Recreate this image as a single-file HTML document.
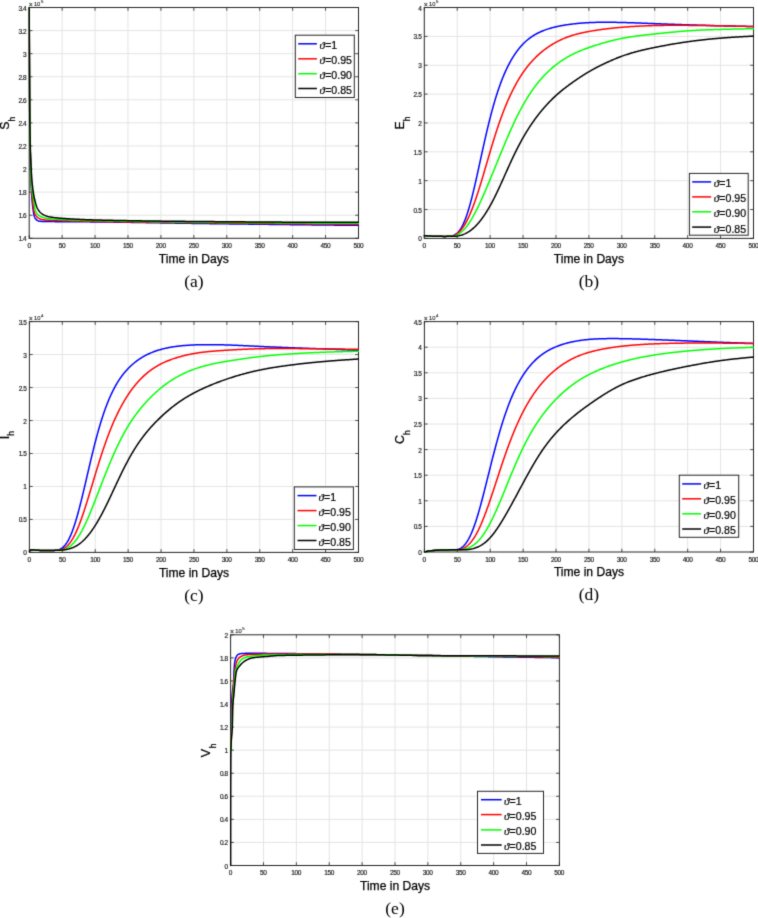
<!DOCTYPE html>
<html><head><meta charset="utf-8"><style>
html,body{margin:0;padding:0;background:#fff;}
svg{display:block;will-change:transform;font-family:"Liberation Sans", sans-serif;}
</style></head><body>
<svg width="758" height="918" viewBox="0 0 758 918">
<defs><filter id="soft" x="0" y="0" width="758" height="918" filterUnits="userSpaceOnUse" color-interpolation-filters="sRGB"><feConvolveMatrix order="3" kernelMatrix="0.0169 0.0962 0.0169 0.0962 0.5476 0.0962 0.0169 0.0962 0.0169" divisor="1" edgeMode="duplicate"/></filter></defs>
<g filter="url(#soft)">
<rect width="758" height="918" fill="#fff"/>
<path d="M62.13 7.50V238.30M95.06 7.50V238.30M127.99 7.50V238.30M160.92 7.50V238.30M193.85 7.50V238.30M226.78 7.50V238.30M259.71 7.50V238.30M292.64 7.50V238.30M325.57 7.50V238.30M29.20 215.22H358.50M29.20 192.14H358.50M29.20 169.06H358.50M29.20 145.98H358.50M29.20 122.90H358.50M29.20 99.82H358.50M29.20 76.74H358.50M29.20 53.66H358.50M29.20 30.58H358.50" stroke="#e4e4e4" stroke-width="1" fill="none"/>
<path d="M29.20 238.30v-3.30M29.20 7.50v3.30M62.13 238.30v-3.30M62.13 7.50v3.30M95.06 238.30v-3.30M95.06 7.50v3.30M127.99 238.30v-3.30M127.99 7.50v3.30M160.92 238.30v-3.30M160.92 7.50v3.30M193.85 238.30v-3.30M193.85 7.50v3.30M226.78 238.30v-3.30M226.78 7.50v3.30M259.71 238.30v-3.30M259.71 7.50v3.30M292.64 238.30v-3.30M292.64 7.50v3.30M325.57 238.30v-3.30M325.57 7.50v3.30M358.50 238.30v-3.30M358.50 7.50v3.30M29.20 238.30h3.30M358.50 238.30h-3.30M29.20 215.22h3.30M358.50 215.22h-3.30M29.20 192.14h3.30M358.50 192.14h-3.30M29.20 169.06h3.30M358.50 169.06h-3.30M29.20 145.98h3.30M358.50 145.98h-3.30M29.20 122.90h3.30M358.50 122.90h-3.30M29.20 99.82h3.30M358.50 99.82h-3.30M29.20 76.74h3.30M358.50 76.74h-3.30M29.20 53.66h3.30M358.50 53.66h-3.30M29.20 30.58h3.30M358.50 30.58h-3.30M29.20 7.50h3.30M358.50 7.50h-3.30" stroke="#262626" stroke-width="0.8" fill="none"/>
<rect x="29.20" y="7.50" width="329.30" height="230.80" fill="none" stroke="#262626" stroke-width="1"/>
<clipPath id="ca"><rect x="28.40" y="6.70" width="330.90" height="232.40"/></clipPath>
<g clip-path="url(#ca)" fill="none" stroke-width="1.5" stroke-linejoin="round" stroke-linecap="round">
<path d="M29.20 7.50L29.20 8.25L29.21 9.00L29.21 9.75L29.21 10.50L29.21 11.25L29.22 12.00L29.22 12.75L29.22 13.50L29.22 14.25L29.23 15.00L29.23 15.75L29.23 16.50L29.23 17.25L29.24 18.00L29.24 18.75L29.24 19.50L29.25 20.25L29.25 21.00L29.25 21.75L29.25 22.50L29.26 23.25L29.26 24.00L29.26 24.75L29.27 25.50L29.27 26.25L29.27 27.00L29.27 27.75L29.28 28.50L29.28 29.25L29.28 30.00L29.29 30.75L29.29 31.50L29.29 32.25L29.29 33.00L29.30 33.75L29.30 34.50L29.30 35.25L29.31 36.00L29.31 36.75L29.31 37.50L29.32 38.25L29.32 39.00L29.32 39.75L29.32 40.50L29.33 41.25L29.33 42.00L29.33 42.75L29.34 43.50L29.34 44.25L29.34 45.00L29.35 45.75L29.35 46.50L29.35 47.25L29.36 48.00L29.36 48.75L29.36 49.50L29.37 50.25L29.37 51.00L29.37 51.75L29.38 52.50L29.38 53.25L29.38 54.00L29.39 54.75L29.39 55.50L29.39 56.25L29.40 57.00L29.40 57.75L29.41 58.50L29.41 59.25L29.41 60.00L29.42 60.75L29.42 61.50L29.42 62.25L29.43 63.00L29.43 63.75L29.43 64.50L29.44 65.25L29.44 66.00L29.44 66.75L29.45 67.50L29.45 68.25L29.46 69.00L29.46 69.75L29.46 70.50L29.47 71.25L29.47 72.00L29.48 72.75L29.48 73.50L29.48 74.25L29.49 75.00L29.49 75.75L29.50 76.50L29.50 77.25L29.50 78.00L29.51 78.75L29.51 79.50L29.52 80.25L29.52 81.00L29.52 81.75L29.53 82.50L29.53 83.25L29.54 84.00L29.54 84.75L29.55 85.50L29.55 86.25L29.56 87.00L29.56 87.75L29.56 88.50L29.57 89.25L29.57 90.00L29.58 90.75L29.58 91.50L29.59 92.25L29.59 93.00L29.60 93.75L29.60 94.50L29.61 95.25L29.61 96.00L29.62 96.75L29.62 97.50L29.62 98.25L29.63 99.00L29.63 99.75L29.64 100.50L29.64 101.25L29.65 102.00L29.65 102.75L29.66 103.50L29.66 104.25L29.67 105.00L29.67 105.75L29.68 106.50L29.68 107.25L29.69 108.00L29.70 108.75L29.70 109.50L29.71 110.25L29.71 111.00L29.72 111.75L29.72 112.50L29.73 113.25L29.74 114.00L29.74 114.75L29.75 115.50L29.76 116.25L29.76 117.00L29.77 117.75L29.78 118.50L29.79 119.25L29.79 120.00L29.80 120.75L29.81 121.50L29.82 122.25L29.83 123.00L29.83 123.75L29.84 124.50L29.85 125.25L29.86 126.00L29.87 126.75L29.88 127.50L29.89 128.25L29.90 129.00L29.91 129.75L29.92 130.50L29.93 131.25L29.94 132.00L29.95 132.75L29.96 133.50L29.97 134.25L29.98 135.00L29.99 135.75L30.00 136.50L30.01 137.25L30.02 138.00L30.03 138.75L30.05 139.50L30.06 140.25L30.07 141.00L30.08 141.75L30.09 142.50L30.11 143.25L30.12 144.00L30.13 144.75L30.15 145.50L30.16 146.25L30.17 147.00L30.19 147.75L30.20 148.50L30.22 149.25L30.23 150.00L30.24 150.75L30.26 151.50L30.27 152.25L30.29 153.00L30.31 153.75L30.32 154.50L30.34 155.25L30.35 156.00L30.37 156.75L30.39 157.50L30.40 158.25L30.42 159.00L30.44 159.75L30.45 160.50L30.47 161.25L30.49 162.00L30.50 162.75L30.52 163.50L30.54 164.25L30.56 165.00L30.57 165.75L30.59 166.50L30.61 167.25L30.63 168.00L30.65 168.75L30.67 169.50L30.69 170.25L30.71 171.00L30.73 171.75L30.75 172.50L30.77 173.24L30.79 173.99L30.81 174.74L30.83 175.49L30.86 176.24L30.88 176.99L30.90 177.74L30.93 178.49L30.95 179.24L30.98 179.99L31.00 180.74L31.03 181.49L31.06 182.24L31.09 182.99L31.12 183.74L31.15 184.49L31.18 185.24L31.21 185.99L31.25 186.74L31.28 187.49L31.32 188.24L31.35 188.98L31.39 189.73L31.43 190.48L31.47 191.23L31.51 191.98L31.55 192.73L31.60 193.48L31.64 194.23L31.69 194.98L31.74 195.72L31.79 196.47L31.84 197.22L31.89 197.97L31.95 198.72L32.01 199.46L32.07 200.21L32.13 200.96L32.20 201.71L32.26 202.45L32.33 203.20L32.41 203.95L32.48 204.69L32.56 205.44L32.64 206.18L32.73 206.93L32.82 207.67L32.91 208.42L33.01 209.16L33.11 209.90L33.22 210.65L33.33 211.39L33.45 212.13L33.58 212.87L33.71 213.61L33.85 214.34L34.00 215.08L34.18 215.80L34.40 216.52L34.66 217.21L34.97 217.88L35.35 218.52L35.79 219.11L36.29 219.66L36.84 220.14L37.45 220.55L38.11 220.86L38.81 221.08L39.53 221.22L40.27 221.31L41.02 221.37L41.76 221.42L42.51 221.45L43.26 221.47L44.01 221.49L44.76 221.50L45.51 221.52L46.26 221.53L47.01 221.54L47.76 221.55L48.51 221.56L49.26 221.57L50.01 221.58L50.76 221.59L51.51 221.60L52.26 221.61L53.01 221.61L53.76 221.62L54.51 221.62L55.26 221.63L56.01 221.64L56.76 221.64L57.51 221.65L58.26 221.65L59.01 221.66L59.76 221.66L60.51 221.67L61.26 221.68L62.01 221.68L62.76 221.69L63.51 221.69L64.26 221.70L65.01 221.71L65.76 221.71L66.51 221.72L67.26 221.72L68.01 221.73L68.76 221.73L69.51 221.74L70.26 221.75L71.01 221.75L71.76 221.76L72.51 221.76L73.26 221.76L74.01 221.77L74.76 221.77L75.51 221.78L76.26 221.78L77.01 221.79L77.76 221.79L78.51 221.80L79.26 221.80L80.01 221.81L80.76 221.81L81.51 221.82L82.26 221.82L83.01 221.82L83.76 221.83L84.51 221.83L85.26 221.84L86.01 221.84L86.76 221.85L87.51 221.85L88.26 221.86L89.01 221.86L89.76 221.87L90.51 221.88L91.26 221.88L92.01 221.89L92.76 221.89L93.51 221.90L94.26 221.91L95.01 221.91L95.76 221.92L96.51 221.93L97.26 221.93L98.01 221.94L98.76 221.95L99.51 221.96L100.26 221.96L101.01 221.97L101.76 221.98L102.51 221.99L103.26 222.00L104.01 222.01L104.76 222.01L105.51 222.02L106.26 222.03L107.01 222.04L107.76 222.05L108.51 222.06L109.26 222.07L110.01 222.08L110.76 222.09L111.51 222.10L112.26 222.11L113.01 222.12L113.76 222.13L114.51 222.14L115.26 222.15L116.01 222.16L116.76 222.17L117.51 222.18L118.26 222.19L119.01 222.20L119.76 222.21L120.51 222.22L121.26 222.23L122.01 222.24L122.76 222.26L123.51 222.27L124.26 222.28L125.01 222.29L125.76 222.30L126.51 222.31L127.26 222.32L128.01 222.34L128.76 222.35L129.51 222.36L130.26 222.37L131.01 222.38L131.76 222.40L132.51 222.41L133.26 222.42L134.01 222.43L134.76 222.45L135.51 222.46L136.26 222.47L137.01 222.48L137.76 222.49L138.51 222.51L139.26 222.52L140.01 222.53L140.76 222.55L141.51 222.56L142.26 222.57L143.01 222.58L143.76 222.60L144.51 222.61L145.26 222.62L146.01 222.64L146.76 222.65L147.51 222.66L148.26 222.67L149.01 222.69L149.76 222.70L150.51 222.71L151.26 222.73L152.01 222.74L152.76 222.75L153.51 222.76L154.26 222.78L155.01 222.79L155.76 222.80L156.51 222.82L157.26 222.83L158.01 222.84L158.76 222.86L159.51 222.87L160.26 222.88L161.01 222.89L161.76 222.91L162.51 222.92L163.26 222.93L164.01 222.95L164.76 222.96L165.51 222.97L166.26 222.98L167.01 223.00L167.76 223.01L168.51 223.02L169.26 223.04L170.01 223.05L170.76 223.06L171.51 223.07L172.26 223.09L173.01 223.10L173.76 223.11L174.51 223.12L175.26 223.13L176.01 223.15L176.76 223.16L177.51 223.17L178.26 223.18L179.01 223.19L179.76 223.21L180.51 223.22L181.26 223.23L182.01 223.24L182.76 223.25L183.51 223.26L184.26 223.28L185.01 223.29L185.76 223.30L186.51 223.31L187.26 223.32L188.01 223.33L188.76 223.34L189.51 223.35L190.26 223.36L191.01 223.37L191.76 223.38L192.51 223.39L193.26 223.41L194.01 223.42L194.76 223.43L195.51 223.44L196.26 223.45L197.01 223.46L197.76 223.47L198.51 223.48L199.26 223.49L200.01 223.50L200.76 223.51L201.51 223.52L202.26 223.53L203.01 223.54L203.76 223.55L204.50 223.56L205.25 223.57L206.00 223.58L206.75 223.59L207.50 223.60L208.25 223.61L209.00 223.62L209.75 223.63L210.50 223.64L211.25 223.65L212.00 223.66L212.75 223.67L213.50 223.68L214.25 223.69L215.00 223.70L215.75 223.71L216.50 223.72L217.25 223.73L218.00 223.74L218.75 223.74L219.50 223.75L220.25 223.76L221.00 223.77L221.75 223.78L222.50 223.79L223.25 223.80L224.00 223.81L224.75 223.82L225.50 223.83L226.25 223.84L227.00 223.85L227.75 223.86L228.50 223.87L229.25 223.88L230.00 223.89L230.75 223.90L231.50 223.91L232.25 223.92L233.00 223.93L233.75 223.94L234.50 223.95L235.25 223.96L236.00 223.97L236.75 223.98L237.50 223.99L238.25 224.00L239.00 224.01L239.75 224.02L240.50 224.03L241.25 224.04L242.00 224.05L242.75 224.05L243.50 224.06L244.25 224.07L245.00 224.08L245.75 224.09L246.50 224.10L247.25 224.11L248.00 224.12L248.75 224.13L249.50 224.14L250.25 224.15L251.00 224.16L251.75 224.17L252.50 224.18L253.25 224.19L254.00 224.20L254.75 224.21L255.50 224.22L256.25 224.22L257.00 224.23L257.75 224.24L258.50 224.25L259.25 224.26L260.00 224.27L260.75 224.28L261.50 224.29L262.25 224.30L263.00 224.31L263.75 224.32L264.50 224.33L265.25 224.34L266.00 224.35L266.75 224.35L267.50 224.36L268.25 224.37L269.00 224.38L269.75 224.39L270.50 224.40L271.25 224.41L272.00 224.42L272.75 224.43L273.50 224.44L274.25 224.45L275.00 224.45L275.75 224.46L276.50 224.47L277.25 224.48L278.00 224.49L278.75 224.50L279.50 224.51L280.25 224.52L281.00 224.53L281.75 224.54L282.50 224.54L283.25 224.55L284.00 224.56L284.75 224.57L285.50 224.58L286.25 224.59L287.00 224.60L287.75 224.61L288.50 224.62L289.25 224.62L290.00 224.63L290.75 224.64L291.50 224.65L292.25 224.66L293.00 224.67L293.75 224.68L294.50 224.69L295.25 224.69L296.00 224.70L296.75 224.71L297.50 224.72L298.25 224.73L299.00 224.74L299.75 224.75L300.50 224.75L301.25 224.76L302.00 224.77L302.75 224.78L303.50 224.79L304.25 224.80L305.00 224.81L305.75 224.81L306.50 224.82L307.25 224.83L308.00 224.84L308.75 224.85L309.50 224.86L310.25 224.87L311.00 224.87L311.75 224.88L312.50 224.89L313.25 224.90L314.00 224.91L314.75 224.92L315.50 224.92L316.25 224.93L317.00 224.94L317.75 224.95L318.50 224.96L319.25 224.97L320.00 224.97L320.75 224.98L321.50 224.99L322.25 225.00L323.00 225.01L323.75 225.01L324.50 225.02L325.25 225.03L326.00 225.04L326.75 225.05L327.50 225.06L328.25 225.06L329.00 225.07L329.75 225.08L330.50 225.09L331.25 225.10L332.00 225.10L332.75 225.11L333.50 225.12L334.25 225.13L335.00 225.14L335.75 225.14L336.50 225.15L337.25 225.16L338.00 225.17L338.75 225.17L339.50 225.18L340.25 225.19L341.00 225.20L341.75 225.21L342.50 225.21L343.25 225.22L344.00 225.23L344.75 225.24L345.50 225.24L346.25 225.25L347.00 225.26L347.75 225.27L348.50 225.27L349.25 225.28L350.00 225.29L350.75 225.30L351.50 225.31L352.25 225.31L353.00 225.32L353.75 225.33L354.50 225.34L355.25 225.34L356.00 225.35L356.75 225.36L357.50 225.37L358.25 225.37L358.50 225.38" stroke="#0000ff"/>
<path d="M29.20 7.50L29.20 8.25L29.21 9.00L29.21 9.75L29.21 10.50L29.21 11.25L29.22 12.00L29.22 12.75L29.22 13.50L29.22 14.25L29.23 15.00L29.23 15.75L29.23 16.50L29.23 17.25L29.24 18.00L29.24 18.75L29.24 19.50L29.25 20.25L29.25 21.00L29.25 21.75L29.25 22.50L29.26 23.25L29.26 24.00L29.26 24.75L29.27 25.50L29.27 26.25L29.27 27.00L29.27 27.75L29.28 28.50L29.28 29.25L29.28 30.00L29.29 30.75L29.29 31.50L29.29 32.25L29.29 33.00L29.30 33.75L29.30 34.50L29.30 35.25L29.31 36.00L29.31 36.75L29.31 37.50L29.32 38.25L29.32 39.00L29.32 39.75L29.32 40.50L29.33 41.25L29.33 42.00L29.33 42.75L29.34 43.50L29.34 44.25L29.34 45.00L29.35 45.75L29.35 46.50L29.35 47.25L29.36 48.00L29.36 48.75L29.36 49.50L29.37 50.25L29.37 51.00L29.37 51.75L29.38 52.50L29.38 53.25L29.38 54.00L29.39 54.75L29.39 55.50L29.39 56.25L29.40 57.00L29.40 57.75L29.41 58.50L29.41 59.25L29.41 60.00L29.42 60.75L29.42 61.50L29.42 62.25L29.43 63.00L29.43 63.75L29.43 64.50L29.44 65.25L29.44 66.00L29.44 66.75L29.45 67.50L29.45 68.25L29.46 69.00L29.46 69.75L29.46 70.50L29.47 71.25L29.47 72.00L29.48 72.75L29.48 73.50L29.48 74.25L29.49 75.00L29.49 75.75L29.50 76.50L29.50 77.25L29.50 78.00L29.51 78.75L29.51 79.50L29.52 80.25L29.52 81.00L29.52 81.75L29.53 82.50L29.53 83.25L29.54 84.00L29.54 84.75L29.55 85.50L29.55 86.25L29.56 87.00L29.56 87.75L29.56 88.50L29.57 89.25L29.57 90.00L29.58 90.75L29.58 91.50L29.59 92.25L29.59 93.00L29.60 93.75L29.60 94.50L29.61 95.25L29.61 96.00L29.61 96.75L29.62 97.50L29.62 98.25L29.63 99.00L29.63 99.75L29.64 100.50L29.64 101.25L29.65 102.00L29.65 102.75L29.66 103.50L29.66 104.25L29.67 105.00L29.67 105.75L29.68 106.50L29.68 107.25L29.69 108.00L29.69 108.75L29.70 109.50L29.71 110.25L29.71 111.00L29.72 111.75L29.72 112.50L29.73 113.25L29.74 114.00L29.74 114.75L29.75 115.50L29.75 116.25L29.76 117.00L29.77 117.75L29.78 118.50L29.78 119.25L29.79 120.00L29.80 120.75L29.81 121.50L29.82 122.25L29.83 123.00L29.84 123.75L29.85 124.50L29.86 125.25L29.87 126.00L29.88 126.75L29.89 127.50L29.90 128.25L29.91 129.00L29.92 129.75L29.93 130.50L29.94 131.25L29.95 132.00L29.96 132.75L29.97 133.50L29.98 134.25L29.99 135.00L30.00 135.75L30.02 136.50L30.03 137.25L30.04 138.00L30.05 138.75L30.07 139.50L30.08 140.25L30.09 141.00L30.11 141.75L30.12 142.50L30.13 143.25L30.15 144.00L30.16 144.75L30.18 145.50L30.19 146.25L30.21 147.00L30.22 147.75L30.24 148.50L30.26 149.25L30.27 150.00L30.29 150.75L30.31 151.50L30.32 152.25L30.34 153.00L30.36 153.74L30.38 154.49L30.40 155.24L30.41 155.99L30.43 156.74L30.45 157.49L30.47 158.24L30.49 158.99L30.51 159.74L30.53 160.49L30.55 161.24L30.57 161.99L30.59 162.74L30.61 163.49L30.63 164.24L30.65 164.99L30.67 165.74L30.69 166.49L30.71 167.24L30.73 167.99L30.75 168.74L30.77 169.49L30.80 170.24L30.82 170.99L30.84 171.74L30.87 172.49L30.89 173.24L30.91 173.99L30.94 174.74L30.96 175.49L30.99 176.24L31.02 176.99L31.04 177.74L31.07 178.48L31.10 179.23L31.13 179.98L31.16 180.73L31.19 181.48L31.23 182.23L31.26 182.98L31.30 183.73L31.34 184.48L31.38 185.23L31.42 185.98L31.46 186.73L31.51 187.47L31.56 188.22L31.61 188.97L31.66 189.72L31.71 190.47L31.77 191.21L31.83 191.96L31.89 192.71L31.95 193.46L32.02 194.20L32.09 194.95L32.16 195.70L32.23 196.44L32.30 197.19L32.38 197.94L32.45 198.68L32.53 199.43L32.61 200.18L32.68 200.92L32.76 201.67L32.84 202.41L32.91 203.16L32.99 203.91L33.07 204.65L33.15 205.40L33.24 206.14L33.33 206.89L33.42 207.63L33.52 208.37L33.63 209.12L33.75 209.86L33.90 210.59L34.07 211.32L34.27 212.04L34.51 212.75L34.78 213.45L35.07 214.13L35.41 214.80L35.79 215.43L36.23 216.04L36.71 216.60L37.24 217.12L37.81 217.60L38.42 218.03L39.05 218.42L39.72 218.75L40.41 219.03L41.12 219.25L41.84 219.43L42.58 219.58L43.31 219.71L44.05 219.82L44.80 219.93L45.54 220.02L46.29 220.10L47.03 220.16L47.78 220.22L48.53 220.27L49.28 220.31L50.03 220.34L50.78 220.37L51.53 220.40L52.28 220.42L53.03 220.44L53.78 220.46L54.53 220.48L55.27 220.50L56.02 220.51L56.77 220.53L57.52 220.54L58.27 220.56L59.02 220.58L59.77 220.59L60.52 220.61L61.27 220.62L62.02 220.64L62.77 220.66L63.52 220.68L64.27 220.70L65.02 220.72L65.77 220.74L66.52 220.76L67.27 220.78L68.02 220.80L68.77 220.82L69.52 220.84L70.27 220.86L71.02 220.88L71.77 220.90L72.52 220.92L73.27 220.94L74.02 220.96L74.77 220.98L75.52 221.00L76.27 221.02L77.02 221.04L77.77 221.06L78.52 221.08L79.27 221.10L80.02 221.12L80.77 221.14L81.52 221.15L82.27 221.17L83.02 221.19L83.77 221.21L84.52 221.23L85.27 221.25L86.02 221.26L86.77 221.28L87.52 221.30L88.26 221.31L89.01 221.33L89.76 221.35L90.51 221.36L91.26 221.38L92.01 221.39L92.76 221.41L93.51 221.42L94.26 221.44L95.01 221.45L95.76 221.46L96.51 221.48L97.26 221.49L98.01 221.50L98.76 221.52L99.51 221.53L100.26 221.54L101.01 221.55L101.76 221.57L102.51 221.58L103.26 221.59L104.01 221.60L104.76 221.62L105.51 221.63L106.26 221.64L107.01 221.65L107.76 221.66L108.51 221.68L109.26 221.69L110.01 221.70L110.76 221.71L111.51 221.72L112.26 221.73L113.01 221.75L113.76 221.76L114.51 221.77L115.26 221.78L116.01 221.79L116.76 221.80L117.51 221.81L118.26 221.82L119.01 221.83L119.76 221.84L120.51 221.86L121.26 221.87L122.01 221.88L122.76 221.89L123.51 221.90L124.26 221.91L125.01 221.92L125.76 221.93L126.51 221.94L127.26 221.95L128.01 221.96L128.76 221.97L129.51 221.98L130.26 221.99L131.01 222.00L131.76 222.01L132.51 222.02L133.26 222.03L134.01 222.04L134.76 222.05L135.51 222.06L136.26 222.07L137.01 222.08L137.76 222.08L138.51 222.09L139.26 222.10L140.01 222.11L140.76 222.12L141.51 222.13L142.26 222.14L143.01 222.15L143.76 222.16L144.51 222.17L145.26 222.18L146.01 222.19L146.76 222.19L147.51 222.20L148.26 222.21L149.01 222.22L149.76 222.23L150.51 222.24L151.26 222.25L152.01 222.26L152.76 222.26L153.51 222.27L154.26 222.28L155.01 222.29L155.76 222.30L156.51 222.31L157.26 222.32L158.01 222.32L158.76 222.33L159.51 222.34L160.26 222.35L161.01 222.36L161.76 222.37L162.51 222.38L163.26 222.38L164.01 222.39L164.76 222.40L165.51 222.41L166.26 222.42L167.01 222.43L167.76 222.43L168.51 222.44L169.26 222.45L170.01 222.46L170.76 222.47L171.51 222.47L172.26 222.48L173.01 222.49L173.76 222.50L174.51 222.51L175.26 222.52L176.01 222.52L176.76 222.53L177.51 222.54L178.26 222.55L179.01 222.56L179.76 222.56L180.51 222.57L181.26 222.58L182.01 222.59L182.76 222.60L183.51 222.61L184.26 222.61L185.01 222.62L185.76 222.63L186.51 222.64L187.26 222.65L188.01 222.66L188.76 222.66L189.51 222.67L190.26 222.68L191.01 222.69L191.76 222.70L192.51 222.71L193.26 222.71L194.01 222.72L194.76 222.73L195.51 222.74L196.26 222.75L197.01 222.76L197.76 222.76L198.51 222.77L199.26 222.78L200.01 222.79L200.76 222.80L201.51 222.81L202.26 222.82L203.01 222.82L203.76 222.83L204.51 222.84L205.26 222.85L206.01 222.86L206.76 222.87L207.51 222.87L208.26 222.88L209.01 222.89L209.76 222.90L210.51 222.91L211.26 222.91L212.01 222.92L212.76 222.93L213.51 222.94L214.26 222.95L215.01 222.96L215.76 222.96L216.51 222.97L217.26 222.98L218.01 222.99L218.76 223.00L219.51 223.01L220.25 223.01L221.00 223.02L221.75 223.03L222.50 223.04L223.25 223.05L224.00 223.05L224.75 223.06L225.50 223.07L226.25 223.08L227.00 223.09L227.75 223.09L228.50 223.10L229.25 223.11L230.00 223.12L230.75 223.13L231.50 223.14L232.25 223.14L233.00 223.15L233.75 223.16L234.50 223.17L235.25 223.18L236.00 223.18L236.75 223.19L237.50 223.20L238.25 223.21L239.00 223.22L239.75 223.22L240.50 223.23L241.25 223.24L242.00 223.25L242.75 223.26L243.50 223.26L244.25 223.27L245.00 223.28L245.75 223.29L246.50 223.29L247.25 223.30L248.00 223.31L248.75 223.32L249.50 223.33L250.25 223.33L251.00 223.34L251.75 223.35L252.50 223.36L253.25 223.36L254.00 223.37L254.75 223.38L255.50 223.39L256.25 223.40L257.00 223.40L257.75 223.41L258.50 223.42L259.25 223.43L260.00 223.43L260.75 223.44L261.50 223.45L262.25 223.46L263.00 223.47L263.75 223.47L264.50 223.48L265.25 223.49L266.00 223.50L266.75 223.50L267.50 223.51L268.25 223.52L269.00 223.53L269.75 223.53L270.50 223.54L271.25 223.55L272.00 223.56L272.75 223.56L273.50 223.57L274.25 223.58L275.00 223.59L275.75 223.59L276.50 223.60L277.25 223.61L278.00 223.62L278.75 223.62L279.50 223.63L280.25 223.64L281.00 223.65L281.75 223.65L282.50 223.66L283.25 223.67L284.00 223.67L284.75 223.68L285.50 223.69L286.25 223.70L287.00 223.70L287.75 223.71L288.50 223.72L289.25 223.73L290.00 223.73L290.75 223.74L291.50 223.75L292.25 223.75L293.00 223.76L293.75 223.77L294.50 223.78L295.25 223.78L296.00 223.79L296.75 223.80L297.50 223.80L298.25 223.81L299.00 223.82L299.75 223.83L300.50 223.83L301.25 223.84L302.00 223.85L302.75 223.85L303.50 223.86L304.25 223.87L305.00 223.87L305.75 223.88L306.50 223.89L307.25 223.90L308.00 223.90L308.75 223.91L309.50 223.92L310.25 223.92L311.00 223.93L311.75 223.94L312.50 223.94L313.25 223.95L314.00 223.96L314.75 223.96L315.50 223.97L316.25 223.98L317.00 223.98L317.75 223.99L318.50 224.00L319.25 224.00L320.00 224.01L320.75 224.02L321.50 224.03L322.25 224.03L323.00 224.04L323.75 224.05L324.50 224.05L325.25 224.06L326.00 224.06L326.75 224.07L327.50 224.08L328.25 224.08L329.00 224.09L329.75 224.10L330.50 224.10L331.25 224.11L332.00 224.12L332.75 224.12L333.50 224.13L334.25 224.14L335.00 224.14L335.75 224.15L336.50 224.16L337.25 224.16L338.00 224.17L338.75 224.17L339.50 224.18L340.25 224.19L341.00 224.19L341.75 224.20L342.50 224.21L343.25 224.21L344.00 224.22L344.75 224.23L345.50 224.23L346.25 224.24L347.00 224.24L347.75 224.25L348.50 224.26L349.25 224.26L350.00 224.27L350.75 224.27L351.50 224.28L352.25 224.29L353.00 224.29L353.75 224.30L354.50 224.30L355.25 224.31L356.00 224.32L356.75 224.32L357.50 224.33L358.25 224.33L358.50 224.34" stroke="#ff0000"/>
<path d="M29.20 7.50L29.20 8.25L29.21 9.00L29.21 9.75L29.21 10.50L29.21 11.25L29.22 12.00L29.22 12.75L29.22 13.50L29.22 14.25L29.23 15.00L29.23 15.75L29.23 16.50L29.23 17.25L29.24 18.00L29.24 18.75L29.24 19.50L29.25 20.25L29.25 21.00L29.25 21.75L29.25 22.50L29.26 23.25L29.26 24.00L29.26 24.75L29.27 25.50L29.27 26.25L29.27 27.00L29.27 27.75L29.28 28.50L29.28 29.25L29.28 30.00L29.29 30.75L29.29 31.50L29.29 32.25L29.29 33.00L29.30 33.75L29.30 34.50L29.30 35.25L29.31 36.00L29.31 36.75L29.31 37.50L29.32 38.25L29.32 39.01L29.32 39.76L29.32 40.51L29.33 41.26L29.33 42.01L29.33 42.76L29.34 43.51L29.34 44.26L29.34 45.01L29.35 45.76L29.35 46.51L29.35 47.26L29.36 48.01L29.36 48.76L29.36 49.51L29.37 50.26L29.37 51.01L29.37 51.76L29.38 52.51L29.38 53.26L29.38 54.01L29.39 54.76L29.39 55.51L29.39 56.26L29.40 57.01L29.40 57.76L29.41 58.51L29.41 59.26L29.41 60.01L29.42 60.76L29.42 61.51L29.42 62.26L29.43 63.01L29.43 63.76L29.43 64.51L29.44 65.26L29.44 66.01L29.44 66.76L29.45 67.51L29.45 68.26L29.46 69.01L29.46 69.76L29.46 70.51L29.47 71.26L29.47 72.01L29.48 72.76L29.48 73.51L29.48 74.26L29.49 75.01L29.49 75.76L29.50 76.51L29.50 77.26L29.50 78.01L29.51 78.76L29.51 79.51L29.52 80.26L29.52 81.01L29.52 81.76L29.53 82.51L29.53 83.26L29.54 84.01L29.54 84.76L29.55 85.51L29.55 86.26L29.56 87.01L29.56 87.76L29.56 88.51L29.57 89.26L29.57 90.01L29.58 90.76L29.58 91.51L29.59 92.26L29.59 93.01L29.60 93.76L29.60 94.51L29.61 95.26L29.61 96.01L29.61 96.76L29.62 97.51L29.62 98.26L29.63 99.01L29.63 99.76L29.64 100.51L29.64 101.26L29.65 102.01L29.65 102.76L29.66 103.51L29.66 104.26L29.67 105.02L29.67 105.77L29.68 106.52L29.68 107.27L29.69 108.02L29.69 108.77L29.70 109.52L29.70 110.27L29.71 111.02L29.72 111.77L29.72 112.52L29.73 113.27L29.73 114.02L29.74 114.77L29.75 115.52L29.75 116.27L29.76 117.02L29.77 117.77L29.78 118.52L29.78 119.27L29.79 120.02L29.80 120.77L29.81 121.52L29.82 122.27L29.83 123.02L29.84 123.77L29.85 124.52L29.86 125.27L29.87 126.02L29.88 126.77L29.89 127.52L29.90 128.27L29.91 129.02L29.92 129.77L29.94 130.52L29.95 131.27L29.96 132.02L29.97 132.77L29.98 133.52L29.99 134.27L30.01 135.02L30.02 135.77L30.03 136.52L30.05 137.27L30.06 138.02L30.07 138.77L30.09 139.52L30.10 140.27L30.12 141.02L30.13 141.77L30.15 142.52L30.16 143.27L30.18 144.02L30.19 144.77L30.21 145.52L30.23 146.27L30.24 147.02L30.26 147.77L30.28 148.52L30.30 149.27L30.32 150.02L30.34 150.77L30.35 151.52L30.37 152.27L30.39 153.02L30.41 153.77L30.43 154.52L30.45 155.27L30.48 156.02L30.50 156.77L30.52 157.52L30.54 158.27L30.56 159.02L30.58 159.77L30.60 160.52L30.62 161.26L30.65 162.01L30.67 162.76L30.69 163.51L30.71 164.26L30.73 165.01L30.76 165.76L30.78 166.51L30.80 167.26L30.83 168.01L30.85 168.76L30.88 169.51L30.90 170.26L30.92 171.01L30.95 171.76L30.98 172.51L31.00 173.26L31.03 174.01L31.06 174.76L31.08 175.51L31.11 176.26L31.14 177.01L31.17 177.76L31.20 178.51L31.24 179.26L31.27 180.01L31.31 180.76L31.34 181.51L31.38 182.25L31.43 183.00L31.47 183.75L31.52 184.50L31.58 185.25L31.64 186.00L31.71 186.74L31.78 187.49L31.85 188.24L31.93 188.98L32.02 189.73L32.11 190.47L32.20 191.22L32.30 191.96L32.41 192.70L32.53 193.44L32.64 194.18L32.77 194.92L32.89 195.66L33.02 196.40L33.14 197.14L33.27 197.88L33.38 198.62L33.50 199.36L33.61 200.11L33.72 200.85L33.83 201.59L33.94 202.33L34.05 203.07L34.16 203.82L34.27 204.56L34.38 205.30L34.50 206.04L34.62 206.78L34.75 207.52L34.88 208.26L35.03 208.99L35.20 209.72L35.41 210.44L35.66 211.14L35.97 211.81L36.32 212.47L36.73 213.09L37.17 213.70L37.65 214.27L38.16 214.81L38.72 215.30L39.31 215.75L39.93 216.15L40.59 216.50L41.27 216.81L41.97 217.09L42.67 217.33L43.39 217.56L44.11 217.76L44.84 217.95L45.57 218.11L46.30 218.26L47.04 218.40L47.78 218.51L48.52 218.61L49.27 218.71L50.01 218.79L50.76 218.87L51.50 218.94L52.25 219.00L53.00 219.07L53.75 219.12L54.50 219.18L55.24 219.23L55.99 219.28L56.74 219.33L57.49 219.37L58.24 219.41L58.99 219.45L59.74 219.49L60.49 219.53L61.24 219.56L61.98 219.60L62.73 219.63L63.48 219.67L64.23 219.70L64.98 219.73L65.73 219.76L66.48 219.79L67.23 219.82L67.98 219.85L68.73 219.88L69.48 219.91L70.23 219.94L70.98 219.97L71.73 220.00L72.48 220.02L73.23 220.05L73.98 220.08L74.73 220.10L75.48 220.13L76.23 220.15L76.98 220.17L77.73 220.20L78.48 220.22L79.23 220.24L79.98 220.26L80.72 220.29L81.47 220.31L82.22 220.33L82.97 220.35L83.72 220.37L84.47 220.39L85.22 220.41L85.97 220.43L86.72 220.45L87.47 220.47L88.22 220.49L88.97 220.50L89.72 220.52L90.47 220.54L91.22 220.56L91.97 220.57L92.72 220.59L93.47 220.61L94.22 220.63L94.97 220.64L95.72 220.66L96.47 220.67L97.22 220.69L97.97 220.71L98.72 220.72L99.47 220.74L100.22 220.75L100.97 220.77L101.72 220.79L102.47 220.80L103.22 220.82L103.97 220.83L104.72 220.85L105.47 220.86L106.22 220.88L106.97 220.89L107.72 220.91L108.47 220.92L109.22 220.94L109.97 220.95L110.72 220.97L111.47 220.98L112.22 220.99L112.97 221.01L113.72 221.02L114.47 221.04L115.22 221.05L115.97 221.07L116.72 221.08L117.47 221.09L118.22 221.11L118.97 221.12L119.72 221.13L120.47 221.15L121.22 221.16L121.97 221.17L122.72 221.19L123.47 221.20L124.22 221.21L124.97 221.23L125.72 221.24L126.47 221.25L127.22 221.27L127.97 221.28L128.72 221.29L129.47 221.30L130.22 221.32L130.97 221.33L131.72 221.34L132.47 221.35L133.22 221.37L133.97 221.38L134.72 221.39L135.47 221.40L136.22 221.41L136.97 221.43L137.72 221.44L138.47 221.45L139.22 221.46L139.97 221.47L140.72 221.48L141.47 221.50L142.22 221.51L142.97 221.52L143.72 221.53L144.47 221.54L145.22 221.55L145.97 221.56L146.72 221.57L147.47 221.58L148.22 221.60L148.97 221.61L149.72 221.62L150.47 221.63L151.22 221.64L151.97 221.65L152.72 221.66L153.47 221.67L154.22 221.68L154.97 221.69L155.72 221.70L156.47 221.71L157.22 221.72L157.97 221.73L158.72 221.74L159.47 221.75L160.22 221.76L160.97 221.77L161.72 221.78L162.47 221.79L163.22 221.80L163.97 221.81L164.72 221.82L165.47 221.83L166.22 221.84L166.97 221.85L167.72 221.86L168.47 221.86L169.22 221.87L169.97 221.88L170.72 221.89L171.47 221.90L172.22 221.91L172.97 221.92L173.72 221.93L174.48 221.94L175.23 221.94L175.98 221.95L176.73 221.96L177.48 221.97L178.23 221.98L178.98 221.99L179.73 222.00L180.48 222.00L181.23 222.01L181.98 222.02L182.73 222.03L183.48 222.04L184.23 222.04L184.98 222.05L185.73 222.06L186.48 222.07L187.23 222.08L187.98 222.08L188.73 222.09L189.48 222.10L190.23 222.11L190.98 222.12L191.73 222.12L192.48 222.13L193.23 222.14L193.98 222.15L194.73 222.15L195.48 222.16L196.23 222.17L196.98 222.17L197.73 222.18L198.48 222.19L199.23 222.20L199.98 222.20L200.73 222.21L201.48 222.22L202.23 222.23L202.98 222.23L203.73 222.24L204.48 222.25L205.23 222.26L205.98 222.26L206.73 222.27L207.48 222.28L208.23 222.29L208.98 222.29L209.73 222.30L210.48 222.31L211.23 222.31L211.98 222.32L212.73 222.33L213.48 222.34L214.23 222.34L214.98 222.35L215.73 222.36L216.48 222.36L217.23 222.37L217.98 222.38L218.73 222.39L219.48 222.39L220.23 222.40L220.98 222.41L221.73 222.41L222.48 222.42L223.23 222.43L223.98 222.44L224.73 222.44L225.48 222.45L226.23 222.46L226.98 222.46L227.73 222.47L228.48 222.48L229.23 222.49L229.98 222.49L230.73 222.50L231.48 222.51L232.23 222.51L232.98 222.52L233.73 222.53L234.48 222.53L235.23 222.54L235.98 222.55L236.73 222.55L237.48 222.56L238.23 222.57L238.98 222.57L239.73 222.58L240.48 222.59L241.23 222.60L241.98 222.60L242.73 222.61L243.48 222.62L244.23 222.62L244.98 222.63L245.73 222.64L246.48 222.64L247.23 222.65L247.98 222.65L248.73 222.66L249.48 222.67L250.23 222.67L250.98 222.68L251.73 222.69L252.48 222.69L253.23 222.70L253.98 222.71L254.73 222.71L255.48 222.72L256.23 222.73L256.98 222.73L257.74 222.74L258.49 222.74L259.24 222.75L259.99 222.76L260.74 222.76L261.49 222.77L262.24 222.78L262.99 222.78L263.74 222.79L264.49 222.79L265.24 222.80L265.99 222.81L266.74 222.81L267.49 222.82L268.24 222.82L268.99 222.83L269.74 222.84L270.49 222.84L271.24 222.85L271.99 222.85L272.74 222.86L273.49 222.87L274.24 222.87L274.99 222.88L275.74 222.88L276.49 222.89L277.24 222.89L277.99 222.90L278.74 222.90L279.49 222.91L280.24 222.92L280.99 222.92L281.74 222.93L282.49 222.93L283.24 222.94L283.99 222.94L284.74 222.95L285.49 222.95L286.24 222.96L286.99 222.96L287.74 222.97L288.49 222.97L289.24 222.98L289.99 222.99L290.74 222.99L291.49 223.00L292.24 223.00L292.99 223.01L293.74 223.01L294.49 223.02L295.24 223.02L295.99 223.03L296.74 223.03L297.49 223.03L298.24 223.04L298.99 223.04L299.74 223.05L300.49 223.05L301.24 223.06L301.99 223.06L302.74 223.07L303.49 223.07L304.24 223.08L304.99 223.08L305.74 223.09L306.49 223.09L307.24 223.09L307.99 223.10L308.74 223.10L309.49 223.11L310.24 223.11L310.99 223.12L311.74 223.12L312.49 223.12L313.24 223.13L313.99 223.13L314.74 223.14L315.49 223.14L316.24 223.14L316.99 223.15L317.74 223.15L318.49 223.16L319.24 223.16L319.99 223.16L320.74 223.17L321.49 223.17L322.24 223.17L322.99 223.18L323.74 223.18L324.49 223.19L325.24 223.19L325.99 223.19L326.74 223.20L327.50 223.20L328.25 223.20L329.00 223.21L329.75 223.21L330.50 223.21L331.25 223.21L332.00 223.22L332.75 223.22L333.50 223.22L334.25 223.23L335.00 223.23L335.75 223.23L336.50 223.24L337.25 223.24L338.00 223.24L338.75 223.24L339.50 223.25L340.25 223.25L341.00 223.25L341.75 223.25L342.50 223.26L343.25 223.26L344.00 223.26L344.75 223.26L345.50 223.27L346.25 223.27L347.00 223.27L347.75 223.27L348.50 223.27L349.25 223.28L350.00 223.28L350.75 223.28L351.50 223.28L352.25 223.28L353.00 223.29L353.75 223.29L354.50 223.29L355.25 223.29L356.00 223.29L356.75 223.29L357.50 223.30L358.25 223.30L358.50 223.30" stroke="#00ff00"/>
<path d="M29.20 7.50L29.20 8.25L29.21 9.00L29.21 9.75L29.21 10.50L29.21 11.25L29.22 12.00L29.22 12.75L29.22 13.50L29.22 14.25L29.23 15.00L29.23 15.75L29.23 16.50L29.23 17.25L29.24 18.00L29.24 18.75L29.24 19.50L29.25 20.25L29.25 21.00L29.25 21.75L29.25 22.50L29.26 23.25L29.26 24.00L29.26 24.75L29.27 25.50L29.27 26.25L29.27 27.00L29.27 27.75L29.28 28.50L29.28 29.25L29.28 30.00L29.29 30.75L29.29 31.51L29.29 32.26L29.29 33.01L29.30 33.76L29.30 34.51L29.30 35.26L29.31 36.01L29.31 36.76L29.31 37.51L29.32 38.26L29.32 39.01L29.32 39.76L29.32 40.51L29.33 41.26L29.33 42.01L29.33 42.76L29.34 43.51L29.34 44.26L29.34 45.01L29.35 45.76L29.35 46.51L29.35 47.26L29.36 48.01L29.36 48.76L29.36 49.51L29.37 50.26L29.37 51.01L29.37 51.76L29.38 52.51L29.38 53.26L29.38 54.01L29.39 54.76L29.39 55.51L29.39 56.26L29.40 57.01L29.40 57.76L29.41 58.51L29.41 59.26L29.41 60.01L29.42 60.76L29.42 61.51L29.42 62.26L29.43 63.01L29.43 63.76L29.43 64.51L29.44 65.26L29.44 66.01L29.44 66.76L29.45 67.51L29.45 68.26L29.46 69.01L29.46 69.76L29.46 70.51L29.47 71.26L29.47 72.01L29.48 72.76L29.48 73.51L29.48 74.26L29.49 75.01L29.49 75.76L29.50 76.51L29.50 77.26L29.50 78.01L29.51 78.76L29.51 79.51L29.52 80.27L29.52 81.02L29.52 81.77L29.53 82.52L29.53 83.27L29.54 84.02L29.54 84.77L29.55 85.52L29.55 86.27L29.56 87.02L29.56 87.77L29.56 88.52L29.57 89.27L29.57 90.02L29.58 90.77L29.58 91.52L29.59 92.27L29.59 93.02L29.60 93.77L29.60 94.52L29.60 95.27L29.61 96.02L29.61 96.77L29.62 97.52L29.62 98.27L29.63 99.02L29.63 99.77L29.64 100.52L29.64 101.27L29.65 102.02L29.65 102.77L29.66 103.52L29.66 104.27L29.67 105.02L29.67 105.77L29.68 106.52L29.68 107.27L29.69 108.02L29.69 108.77L29.70 109.52L29.70 110.27L29.71 111.02L29.71 111.77L29.72 112.52L29.73 113.27L29.73 114.02L29.74 114.77L29.74 115.52L29.75 116.27L29.76 117.02L29.77 117.77L29.78 118.52L29.78 119.27L29.79 120.02L29.80 120.77L29.81 121.52L29.82 122.27L29.83 123.02L29.85 123.77L29.86 124.52L29.87 125.27L29.88 126.02L29.89 126.77L29.90 127.52L29.91 128.27L29.93 129.02L29.94 129.77L29.95 130.52L29.96 131.27L29.98 132.02L29.99 132.77L30.00 133.52L30.02 134.27L30.03 135.02L30.04 135.77L30.06 136.52L30.07 137.27L30.09 138.02L30.10 138.77L30.12 139.52L30.13 140.27L30.15 141.02L30.17 141.77L30.19 142.52L30.20 143.27L30.22 144.02L30.24 144.77L30.26 145.52L30.28 146.27L30.30 147.02L30.32 147.77L30.34 148.52L30.36 149.27L30.38 150.02L30.41 150.77L30.43 151.52L30.46 152.27L30.48 153.02L30.51 153.77L30.53 154.52L30.56 155.27L30.59 156.02L30.62 156.77L30.65 157.52L30.68 158.27L30.71 159.02L30.74 159.77L30.78 160.52L30.81 161.27L30.84 162.02L30.88 162.77L30.91 163.52L30.95 164.26L30.98 165.01L31.02 165.76L31.06 166.51L31.10 167.26L31.14 168.01L31.18 168.76L31.22 169.51L31.26 170.26L31.30 171.01L31.35 171.76L31.39 172.50L31.44 173.25L31.48 174.00L31.53 174.75L31.58 175.50L31.63 176.25L31.69 177.00L31.74 177.74L31.80 178.49L31.86 179.24L31.92 179.99L31.98 180.73L32.04 181.48L32.11 182.23L32.18 182.98L32.25 183.72L32.33 184.47L32.41 185.22L32.49 185.96L32.57 186.71L32.66 187.45L32.74 188.20L32.84 188.94L32.93 189.69L33.03 190.43L33.13 191.17L33.24 191.91L33.35 192.66L33.47 193.40L33.59 194.14L33.72 194.88L33.85 195.61L33.99 196.35L34.14 197.09L34.29 197.82L34.45 198.55L34.62 199.29L34.79 200.02L34.96 200.75L35.14 201.47L35.33 202.20L35.52 202.93L35.72 203.65L35.92 204.37L36.14 205.09L36.38 205.80L36.62 206.51L36.89 207.21L37.19 207.89L37.52 208.56L37.88 209.22L38.27 209.86L38.69 210.48L39.14 211.08L39.61 211.66L40.11 212.22L40.64 212.74L41.20 213.23L41.79 213.69L42.41 214.11L43.04 214.50L43.70 214.86L44.37 215.19L45.05 215.50L45.74 215.79L46.45 216.05L47.16 216.28L47.88 216.48L48.61 216.66L49.34 216.82L50.08 216.96L50.82 217.09L51.56 217.21L52.30 217.32L53.04 217.43L53.78 217.53L54.53 217.62L55.27 217.71L56.02 217.79L56.76 217.87L57.51 217.95L58.26 218.02L59.00 218.08L59.75 218.15L60.50 218.21L61.25 218.27L61.99 218.32L62.74 218.38L63.49 218.43L64.24 218.49L64.99 218.54L65.74 218.59L66.48 218.64L67.23 218.69L67.98 218.74L68.73 218.79L69.48 218.84L70.23 218.88L70.98 218.93L71.73 218.97L72.47 219.02L73.22 219.06L73.97 219.10L74.72 219.14L75.47 219.18L76.22 219.22L76.97 219.26L77.72 219.30L78.47 219.34L79.22 219.37L79.97 219.41L80.71 219.44L81.46 219.48L82.21 219.51L82.96 219.54L83.71 219.57L84.46 219.60L85.21 219.63L85.96 219.66L86.71 219.69L87.46 219.72L88.21 219.74L88.96 219.77L89.71 219.79L90.46 219.82L91.21 219.84L91.96 219.87L92.71 219.89L93.46 219.91L94.21 219.93L94.96 219.95L95.71 219.97L96.46 219.99L97.21 220.01L97.96 220.02L98.71 220.04L99.46 220.06L100.21 220.08L100.96 220.10L101.71 220.11L102.46 220.13L103.21 220.15L103.96 220.17L104.71 220.18L105.46 220.20L106.21 220.22L106.96 220.23L107.71 220.25L108.46 220.27L109.21 220.28L109.96 220.30L110.71 220.32L111.46 220.33L112.21 220.35L112.96 220.36L113.71 220.38L114.46 220.39L115.21 220.41L115.96 220.42L116.71 220.44L117.46 220.45L118.21 220.47L118.96 220.48L119.71 220.50L120.46 220.51L121.21 220.53L121.96 220.54L122.71 220.56L123.46 220.57L124.21 220.58L124.96 220.60L125.71 220.61L126.46 220.62L127.21 220.64L127.96 220.65L128.71 220.66L129.46 220.68L130.21 220.69L130.96 220.70L131.71 220.71L132.46 220.73L133.21 220.74L133.96 220.75L134.71 220.76L135.46 220.77L136.21 220.79L136.96 220.80L137.71 220.81L138.46 220.82L139.21 220.83L139.96 220.84L140.71 220.86L141.46 220.87L142.21 220.88L142.96 220.89L143.71 220.90L144.46 220.91L145.21 220.92L145.96 220.93L146.71 220.94L147.46 220.95L148.21 220.96L148.96 220.97L149.71 220.98L150.46 220.99L151.21 221.00L151.96 221.01L152.71 221.02L153.46 221.03L154.21 221.04L154.96 221.05L155.71 221.06L156.46 221.07L157.21 221.08L157.96 221.09L158.71 221.10L159.46 221.11L160.21 221.12L160.96 221.12L161.71 221.13L162.46 221.14L163.21 221.15L163.96 221.16L164.71 221.17L165.46 221.18L166.21 221.18L166.96 221.19L167.71 221.20L168.46 221.21L169.21 221.22L169.96 221.23L170.71 221.23L171.46 221.24L172.21 221.25L172.96 221.26L173.71 221.26L174.46 221.27L175.21 221.28L175.96 221.29L176.71 221.29L177.46 221.30L178.21 221.31L178.96 221.32L179.71 221.32L180.47 221.33L181.22 221.34L181.97 221.35L182.72 221.35L183.47 221.36L184.22 221.37L184.97 221.37L185.72 221.38L186.47 221.39L187.22 221.39L187.97 221.40L188.72 221.41L189.47 221.41L190.22 221.42L190.97 221.43L191.72 221.43L192.47 221.44L193.22 221.45L193.97 221.45L194.72 221.46L195.47 221.47L196.22 221.47L196.97 221.48L197.72 221.48L198.47 221.49L199.22 221.50L199.97 221.50L200.72 221.51L201.47 221.52L202.22 221.52L202.97 221.53L203.72 221.54L204.47 221.54L205.22 221.55L205.97 221.55L206.72 221.56L207.47 221.57L208.22 221.57L208.97 221.58L209.72 221.59L210.47 221.59L211.22 221.60L211.97 221.60L212.72 221.61L213.47 221.62L214.22 221.62L214.97 221.63L215.72 221.64L216.47 221.64L217.22 221.65L217.97 221.65L218.72 221.66L219.47 221.67L220.22 221.67L220.97 221.68L221.72 221.69L222.47 221.69L223.22 221.70L223.97 221.70L224.72 221.71L225.47 221.72L226.22 221.72L226.97 221.73L227.72 221.73L228.47 221.74L229.22 221.75L229.97 221.75L230.72 221.76L231.47 221.76L232.22 221.77L232.97 221.78L233.72 221.78L234.47 221.79L235.23 221.79L235.98 221.80L236.73 221.81L237.48 221.81L238.23 221.82L238.98 221.82L239.73 221.83L240.48 221.84L241.23 221.84L241.98 221.85L242.73 221.85L243.48 221.86L244.23 221.86L244.98 221.87L245.73 221.88L246.48 221.88L247.23 221.89L247.98 221.89L248.73 221.90L249.48 221.90L250.23 221.91L250.98 221.92L251.73 221.92L252.48 221.93L253.23 221.93L253.98 221.94L254.73 221.94L255.48 221.95L256.23 221.95L256.98 221.96L257.73 221.96L258.48 221.97L259.23 221.98L259.98 221.98L260.73 221.99L261.48 221.99L262.23 222.00L262.98 222.00L263.73 222.01L264.48 222.01L265.23 222.02L265.98 222.02L266.73 222.03L267.48 222.03L268.23 222.04L268.98 222.04L269.73 222.05L270.48 222.05L271.23 222.06L271.98 222.06L272.73 222.07L273.48 222.07L274.23 222.08L274.98 222.08L275.73 222.09L276.48 222.09L277.23 222.10L277.98 222.10L278.73 222.10L279.48 222.11L280.23 222.11L280.98 222.12L281.73 222.12L282.48 222.13L283.23 222.13L283.98 222.14L284.73 222.14L285.48 222.14L286.23 222.15L286.98 222.15L287.74 222.16L288.49 222.16L289.24 222.17L289.99 222.17L290.74 222.17L291.49 222.18L292.24 222.18L292.99 222.19L293.74 222.19L294.49 222.19L295.24 222.20L295.99 222.20L296.74 222.21L297.49 222.21L298.24 222.21L298.99 222.22L299.74 222.22L300.49 222.22L301.24 222.23L301.99 222.23L302.74 222.24L303.49 222.24L304.24 222.24L304.99 222.25L305.74 222.25L306.49 222.25L307.24 222.26L307.99 222.26L308.74 222.26L309.49 222.27L310.24 222.27L310.99 222.27L311.74 222.27L312.49 222.28L313.24 222.28L313.99 222.28L314.74 222.29L315.49 222.29L316.24 222.29L316.99 222.29L317.74 222.30L318.49 222.30L319.24 222.30L319.99 222.31L320.74 222.31L321.49 222.31L322.24 222.31L322.99 222.32L323.74 222.32L324.49 222.32L325.24 222.32L325.99 222.32L326.74 222.33L327.49 222.33L328.24 222.33L328.99 222.33L329.74 222.34L330.49 222.34L331.24 222.34L331.99 222.34L332.74 222.34L333.49 222.34L334.24 222.35L334.99 222.35L335.75 222.35L336.50 222.35L337.25 222.35L338.00 222.35L338.75 222.36L339.50 222.36L340.25 222.36L341.00 222.36L341.75 222.36L342.50 222.36L343.25 222.36L344.00 222.36L344.75 222.37L345.50 222.37L346.25 222.37L347.00 222.37L347.75 222.37L348.50 222.37L349.25 222.37L350.00 222.37L350.75 222.37L351.50 222.37L352.25 222.37L353.00 222.37L353.75 222.37L354.50 222.37L355.25 222.37L356.00 222.37L356.75 222.37L357.50 222.37L358.25 222.37L358.50 222.37" stroke="#000000"/>
</g>
<g font-size="6.5" fill="#1a1a1a" stroke="#1a1a1a" stroke-width="0.18"><text x="29.05" y="247.80" text-anchor="middle" letter-spacing="-0.35">0</text><text x="61.98" y="247.80" text-anchor="middle" letter-spacing="-0.35">50</text><text x="94.91" y="247.80" text-anchor="middle" letter-spacing="-0.35">100</text><text x="127.84" y="247.80" text-anchor="middle" letter-spacing="-0.35">150</text><text x="160.77" y="247.80" text-anchor="middle" letter-spacing="-0.35">200</text><text x="193.70" y="247.80" text-anchor="middle" letter-spacing="-0.35">250</text><text x="226.63" y="247.80" text-anchor="middle" letter-spacing="-0.35">300</text><text x="259.56" y="247.80" text-anchor="middle" letter-spacing="-0.35">350</text><text x="292.49" y="247.80" text-anchor="middle" letter-spacing="-0.35">400</text><text x="325.42" y="247.80" text-anchor="middle" letter-spacing="-0.35">450</text><text x="358.35" y="247.80" text-anchor="middle" letter-spacing="-0.35">500</text><text x="26.20" y="241.30" text-anchor="end" letter-spacing="-0.45">1.4</text><text x="26.20" y="218.22" text-anchor="end" letter-spacing="-0.45">1.6</text><text x="26.20" y="195.14" text-anchor="end" letter-spacing="-0.45">1.8</text><text x="26.20" y="172.06" text-anchor="end" letter-spacing="-0.45">2</text><text x="26.20" y="148.98" text-anchor="end" letter-spacing="-0.45">2.2</text><text x="26.20" y="125.90" text-anchor="end" letter-spacing="-0.45">2.4</text><text x="26.20" y="102.82" text-anchor="end" letter-spacing="-0.45">2.6</text><text x="26.20" y="79.74" text-anchor="end" letter-spacing="-0.45">2.8</text><text x="26.20" y="56.66" text-anchor="end" letter-spacing="-0.45">3</text><text x="26.20" y="33.58" text-anchor="end" letter-spacing="-0.45">3.2</text><text x="26.20" y="10.50" text-anchor="end" letter-spacing="-0.45">3.4</text></g>
<g fill="#1a1a1a" stroke="#1a1a1a" stroke-width="0.12"><text x="30.70" y="6.80" font-size="7" text-anchor="middle">&#215;</text><text x="33.90" y="5.90" font-size="5.8">10</text><text x="40.90" y="3.10" font-size="4.3">5</text></g>
<text x="193.85" y="262.70" font-size="12.1" text-anchor="middle" fill="#000" stroke="#000" stroke-width="0.25">Time in Days</text>
<text transform="translate(9.30 129.70) rotate(-90)" font-size="12.4" fill="#000" stroke="#000" stroke-width="0.25">S<tspan font-size="8.6" dx="0.0" dy="5.6">h</tspan></text>
<text x="193.85" y="286.60" font-family="Liberation Serif, serif" font-size="17.5" text-anchor="middle" fill="#000">(a)</text>
<rect x="295.30" y="35.20" width="59.00" height="62.30" fill="#fff" stroke="#262626" stroke-width="1"/>
<path d="M298.20 43.80H316.90" stroke="#0000ff" stroke-width="1.5"/>
<text x="319.60" y="49.20" font-size="11" font-family="Liberation Serif, serif" font-style="italic" fill="#000" stroke="#000" stroke-width="0.2">&#977;</text>
<text x="325.20" y="49.20" font-size="10.6" fill="#000" stroke="#000" stroke-width="0.2">=1</text>
<path d="M298.20 58.80H316.90" stroke="#ff0000" stroke-width="1.5"/>
<text x="319.60" y="64.20" font-size="11" font-family="Liberation Serif, serif" font-style="italic" fill="#000" stroke="#000" stroke-width="0.2">&#977;</text>
<text x="325.20" y="64.20" font-size="10.6" fill="#000" stroke="#000" stroke-width="0.2">=0.95</text>
<path d="M298.20 73.70H316.90" stroke="#00ff00" stroke-width="1.5"/>
<text x="319.60" y="79.10" font-size="11" font-family="Liberation Serif, serif" font-style="italic" fill="#000" stroke="#000" stroke-width="0.2">&#977;</text>
<text x="325.20" y="79.10" font-size="10.6" fill="#000" stroke="#000" stroke-width="0.2">=0.90</text>
<path d="M298.20 88.50H316.90" stroke="#000000" stroke-width="1.5"/>
<text x="319.60" y="93.90" font-size="11" font-family="Liberation Serif, serif" font-style="italic" fill="#000" stroke="#000" stroke-width="0.2">&#977;</text>
<text x="325.20" y="93.90" font-size="10.6" fill="#000" stroke="#000" stroke-width="0.2">=0.85</text>
<path d="M457.22 7.50V238.40M490.14 7.50V238.40M523.06 7.50V238.40M555.98 7.50V238.40M588.90 7.50V238.40M621.82 7.50V238.40M654.74 7.50V238.40M687.66 7.50V238.40M720.58 7.50V238.40M424.30 209.54H753.50M424.30 180.68H753.50M424.30 151.81H753.50M424.30 122.95H753.50M424.30 94.09H753.50M424.30 65.22H753.50M424.30 36.36H753.50" stroke="#e4e4e4" stroke-width="1" fill="none"/>
<path d="M424.30 238.40v-3.30M424.30 7.50v3.30M457.22 238.40v-3.30M457.22 7.50v3.30M490.14 238.40v-3.30M490.14 7.50v3.30M523.06 238.40v-3.30M523.06 7.50v3.30M555.98 238.40v-3.30M555.98 7.50v3.30M588.90 238.40v-3.30M588.90 7.50v3.30M621.82 238.40v-3.30M621.82 7.50v3.30M654.74 238.40v-3.30M654.74 7.50v3.30M687.66 238.40v-3.30M687.66 7.50v3.30M720.58 238.40v-3.30M720.58 7.50v3.30M753.50 238.40v-3.30M753.50 7.50v3.30M424.30 238.40h3.30M753.50 238.40h-3.30M424.30 209.54h3.30M753.50 209.54h-3.30M424.30 180.68h3.30M753.50 180.68h-3.30M424.30 151.81h3.30M753.50 151.81h-3.30M424.30 122.95h3.30M753.50 122.95h-3.30M424.30 94.09h3.30M753.50 94.09h-3.30M424.30 65.22h3.30M753.50 65.22h-3.30M424.30 36.36h3.30M753.50 36.36h-3.30M424.30 7.50h3.30M753.50 7.50h-3.30" stroke="#262626" stroke-width="0.8" fill="none"/>
<rect x="424.30" y="7.50" width="329.20" height="230.90" fill="none" stroke="#262626" stroke-width="1"/>
<clipPath id="cb"><rect x="423.50" y="6.70" width="330.80" height="232.50"/></clipPath>
<g clip-path="url(#cb)" fill="none" stroke-width="1.5" stroke-linejoin="round" stroke-linecap="round">
<path d="M424.30 235.63L425.01 235.68L425.72 235.74L426.43 235.79L427.14 235.84L427.86 235.89L428.58 235.94L429.30 235.99L430.03 236.03L430.75 236.07L431.48 236.10L432.20 236.14L432.93 236.17L433.65 236.19L434.37 236.21L435.10 236.23L435.82 236.25L436.55 236.27L437.27 236.29L437.99 236.30L438.72 236.32L439.44 236.33L440.17 236.35L440.89 236.36L441.62 236.37L442.34 236.37L443.06 236.38L443.79 236.38L444.51 236.38L445.24 236.38L445.96 236.38L446.69 236.37L447.41 236.37L448.13 236.37L448.86 236.36L449.58 236.35L450.31 236.27L451.03 236.14L451.76 235.97L452.48 235.76L453.20 235.51L453.86 235.23L454.52 234.91L455.18 234.53L455.77 234.15L456.36 233.71L456.96 233.22L457.48 232.74L458.01 232.22L458.54 231.64L459.00 231.10L459.46 230.51L459.92 229.89L460.38 229.22L460.78 228.61L461.17 227.98L461.57 227.30L461.96 226.60L462.36 225.86L462.68 225.22L463.01 224.55L463.34 223.86L463.67 223.14L464.00 222.40L464.33 221.64L464.66 220.84L464.99 220.03L465.25 219.36L465.52 218.67L465.78 217.97L466.04 217.25L466.31 216.52L466.57 215.77L466.83 215.00L467.10 214.22L467.36 213.43L467.62 212.62L467.89 211.79L468.15 210.95L468.41 210.09L468.68 209.22L468.94 208.33L469.20 207.43L469.40 206.74L469.60 206.05L469.80 205.35L469.99 204.64L470.19 203.93L470.39 203.20L470.59 202.47L470.78 201.73L470.98 200.99L471.18 200.24L471.38 199.48L471.57 198.71L471.77 197.94L471.97 197.16L472.17 196.38L472.36 195.59L472.56 194.79L472.76 193.99L472.96 193.18L473.15 192.37L473.35 191.55L473.55 190.73L473.75 189.90L473.94 189.06L474.14 188.22L474.34 187.38L474.54 186.53L474.73 185.68L474.93 184.82L475.13 183.96L475.33 183.10L475.52 182.23L475.72 181.36L475.92 180.49L476.12 179.61L476.31 178.73L476.51 177.85L476.71 176.96L476.91 176.07L477.10 175.18L477.30 174.29L477.50 173.39L477.70 172.50L477.89 171.60L478.09 170.70L478.29 169.80L478.49 168.89L478.68 167.99L478.88 167.08L479.08 166.18L479.28 165.27L479.47 164.36L479.67 163.46L479.87 162.55L480.07 161.64L480.26 160.74L480.46 159.83L480.66 158.92L480.86 158.01L481.05 157.11L481.25 156.20L481.45 155.30L481.65 154.40L481.84 153.49L482.04 152.59L482.24 151.69L482.44 150.79L482.63 149.90L482.83 149.00L483.03 148.11L483.23 147.22L483.42 146.33L483.62 145.44L483.82 144.56L484.02 143.67L484.21 142.79L484.41 141.91L484.61 141.04L484.81 140.17L485.00 139.30L485.20 138.43L485.40 137.56L485.60 136.70L485.79 135.84L485.99 134.99L486.19 134.14L486.39 133.29L486.58 132.44L486.78 131.60L486.98 130.76L487.18 129.93L487.37 129.09L487.57 128.27L487.77 127.44L487.97 126.62L488.16 125.81L488.36 124.99L488.56 124.19L488.76 123.38L488.95 122.58L489.15 121.78L489.35 120.99L489.55 120.21L489.74 119.42L489.94 118.64L490.14 117.87L490.34 117.10L490.54 116.33L490.73 115.57L490.93 114.81L491.13 114.06L491.33 113.31L491.52 112.57L491.72 111.83L491.92 111.09L492.12 110.36L492.31 109.64L492.51 108.92L492.71 108.20L492.91 107.49L493.10 106.78L493.30 106.08L493.50 105.38L493.70 104.68L493.89 104.00L494.09 103.31L494.29 102.63L494.55 101.73L494.81 100.84L495.08 99.96L495.34 99.08L495.60 98.22L495.87 97.36L496.13 96.51L496.39 95.67L496.66 94.84L496.92 94.01L497.18 93.19L497.45 92.38L497.71 91.58L497.97 90.79L498.24 90.01L498.50 89.23L498.77 88.46L499.03 87.70L499.29 86.94L499.56 86.20L499.82 85.46L500.08 84.73L500.35 84.01L500.61 83.29L500.87 82.59L501.14 81.89L501.40 81.19L501.66 80.51L501.93 79.83L502.19 79.16L502.45 78.50L502.72 77.84L503.04 77.03L503.37 76.23L503.70 75.44L504.03 74.66L504.36 73.89L504.69 73.14L505.02 72.39L505.35 71.65L505.68 70.92L506.01 70.21L506.34 69.50L506.67 68.80L507.00 68.11L507.32 67.43L507.65 66.76L507.98 66.10L508.31 65.45L508.64 64.80L508.97 64.17L509.30 63.54L509.69 62.80L510.09 62.08L510.48 61.36L510.88 60.66L511.27 59.97L511.67 59.29L512.06 58.62L512.46 57.96L512.85 57.31L513.25 56.68L513.64 56.05L514.04 55.44L514.43 54.84L514.83 54.24L515.29 53.57L515.75 52.90L516.21 52.25L516.67 51.61L517.13 50.98L517.60 50.37L518.06 49.77L518.52 49.18L518.98 48.61L519.44 48.04L519.90 47.49L520.36 46.95L520.89 46.35L521.41 45.76L521.94 45.18L522.47 44.62L522.99 44.07L523.52 43.54L524.05 43.01L524.57 42.50L525.10 42.01L525.63 41.52L526.15 41.05L526.75 40.53L527.34 40.03L527.93 39.53L528.52 39.06L529.12 38.59L529.71 38.14L530.30 37.70L530.89 37.28L531.49 36.86L532.08 36.46L532.67 36.07L533.33 35.64L533.99 35.24L534.65 34.84L535.31 34.46L535.96 34.08L536.62 33.72L537.28 33.38L537.94 33.04L538.60 32.71L539.26 32.39L539.92 32.08L540.57 31.79L541.23 31.50L541.89 31.21L542.55 30.94L543.21 30.68L543.93 30.40L544.66 30.12L545.38 29.86L546.10 29.61L546.83 29.36L547.55 29.12L548.28 28.89L549.00 28.66L549.73 28.44L550.45 28.23L551.17 28.03L551.90 27.83L552.62 27.64L553.35 27.45L554.07 27.27L554.79 27.09L555.52 26.92L556.24 26.75L556.97 26.59L557.69 26.43L558.42 26.28L559.14 26.13L559.86 25.99L560.59 25.85L561.31 25.71L562.04 25.58L562.76 25.45L563.49 25.32L564.21 25.20L564.93 25.08L565.66 24.96L566.38 24.85L567.11 24.74L567.83 24.63L568.56 24.53L569.28 24.43L570.00 24.33L570.73 24.24L571.45 24.14L572.18 24.05L572.90 23.97L573.63 23.88L574.35 23.80L575.07 23.72L575.80 23.64L576.52 23.57L577.25 23.49L577.97 23.42L578.69 23.36L579.42 23.29L580.14 23.23L580.87 23.16L581.59 23.10L582.32 23.05L583.04 22.99L583.76 22.94L584.49 22.89L585.21 22.84L585.94 22.79L586.66 22.75L587.39 22.71L588.11 22.67L588.83 22.63L589.56 22.59L590.28 22.56L591.01 22.53L591.73 22.50L592.46 22.47L593.18 22.44L593.90 22.42L594.63 22.40L595.35 22.38L596.08 22.36L596.80 22.34L597.53 22.33L598.25 22.31L598.97 22.30L599.70 22.29L600.42 22.28L601.15 22.27L601.87 22.26L602.59 22.26L603.32 22.25L604.04 22.25L604.77 22.25L605.49 22.25L606.22 22.25L606.94 22.25L607.66 22.25L608.39 22.26L609.11 22.26L609.84 22.27L610.56 22.27L611.29 22.28L612.01 22.29L612.73 22.30L613.46 22.31L614.18 22.32L614.91 22.33L615.63 22.35L616.36 22.36L617.08 22.38L617.80 22.39L618.53 22.41L619.25 22.42L619.98 22.44L620.70 22.46L621.42 22.47L622.15 22.49L622.87 22.51L623.60 22.53L624.32 22.55L625.05 22.57L625.77 22.59L626.49 22.61L627.22 22.64L627.94 22.66L628.67 22.68L629.39 22.70L630.12 22.73L630.84 22.75L631.56 22.77L632.29 22.80L633.01 22.82L633.74 22.85L634.46 22.87L635.19 22.90L635.91 22.92L636.63 22.95L637.36 22.98L638.08 23.00L638.81 23.03L639.53 23.06L640.26 23.08L640.98 23.11L641.70 23.14L642.43 23.16L643.15 23.19L643.88 23.22L644.60 23.25L645.32 23.28L646.05 23.30L646.77 23.33L647.50 23.36L648.22 23.39L648.95 23.42L649.67 23.44L650.39 23.47L651.12 23.50L651.84 23.53L652.57 23.56L653.29 23.58L654.02 23.61L654.74 23.64L655.46 23.67L656.19 23.69L656.91 23.72L657.64 23.75L658.36 23.78L659.09 23.80L659.81 23.83L660.53 23.86L661.26 23.89L661.98 23.91L662.71 23.94L663.43 23.97L664.16 23.99L664.88 24.02L665.60 24.05L666.33 24.07L667.05 24.10L667.78 24.13L668.50 24.15L669.22 24.18L669.95 24.21L670.67 24.23L671.40 24.26L672.12 24.28L672.85 24.31L673.57 24.34L674.29 24.36L675.02 24.39L675.74 24.41L676.47 24.44L677.19 24.46L677.92 24.49L678.64 24.51L679.36 24.54L680.09 24.56L680.81 24.59L681.54 24.61L682.26 24.64L682.99 24.66L683.71 24.69L684.43 24.71L685.16 24.74L685.88 24.76L686.61 24.78L687.33 24.81L688.06 24.83L688.78 24.86L689.50 24.88L690.23 24.90L690.95 24.93L691.68 24.95L692.40 24.97L693.12 25.00L693.85 25.02L694.57 25.04L695.30 25.06L696.02 25.09L696.75 25.11L697.47 25.13L698.19 25.15L698.92 25.18L699.64 25.20L700.37 25.22L701.09 25.24L701.82 25.27L702.54 25.29L703.26 25.31L703.99 25.33L704.71 25.35L705.44 25.37L706.16 25.39L706.89 25.41L707.61 25.44L708.33 25.46L709.06 25.48L709.78 25.50L710.51 25.52L711.23 25.54L711.95 25.56L712.68 25.58L713.40 25.60L714.13 25.62L714.85 25.64L715.58 25.66L716.30 25.68L717.02 25.70L717.75 25.72L718.47 25.74L719.20 25.76L719.92 25.77L720.65 25.79L721.37 25.81L722.09 25.83L722.82 25.85L723.54 25.87L724.27 25.89L724.99 25.90L725.72 25.92L726.44 25.94L727.16 25.96L727.89 25.97L728.61 25.99L729.34 26.01L730.06 26.03L730.79 26.04L731.51 26.06L732.23 26.08L732.96 26.10L733.68 26.11L734.41 26.13L735.13 26.15L735.85 26.16L736.58 26.18L737.30 26.20L738.03 26.21L738.75 26.23L739.48 26.25L740.20 26.26L740.92 26.28L741.65 26.29L742.37 26.31L743.10 26.33L743.82 26.34L744.55 26.36L745.27 26.37L745.99 26.39L746.72 26.41L747.44 26.42L748.17 26.44L748.89 26.45L749.62 26.47L750.34 26.49L751.06 26.50L751.79 26.52L752.51 26.53L753.24 26.55L753.50 26.56" stroke="#0000ff"/>
<path d="M424.30 235.63L425.01 235.68L425.72 235.74L426.43 235.79L427.14 235.84L427.86 235.89L428.58 235.94L429.30 235.99L430.03 236.03L430.75 236.07L431.48 236.10L432.20 236.14L432.93 236.17L433.65 236.19L434.37 236.21L435.10 236.23L435.82 236.25L436.55 236.27L437.27 236.29L437.99 236.30L438.72 236.32L439.44 236.33L440.17 236.35L440.89 236.36L441.62 236.37L442.34 236.37L443.06 236.38L443.79 236.38L444.51 236.38L445.24 236.38L445.96 236.38L446.69 236.37L447.41 236.37L448.13 236.37L448.86 236.36L449.58 236.35L450.31 236.35L451.03 236.34L451.76 236.23L452.48 236.01L453.20 235.76L453.86 235.49L454.52 235.19L455.18 234.85L455.84 234.47L456.50 234.05L457.09 233.63L457.68 233.18L458.27 232.69L458.87 232.17L459.39 231.66L459.92 231.13L460.45 230.56L460.97 229.96L461.43 229.40L461.89 228.82L462.36 228.21L462.82 227.58L463.28 226.91L463.67 226.32L464.07 225.71L464.46 225.08L464.86 224.43L465.25 223.76L465.65 223.06L466.04 222.35L466.44 221.62L466.77 220.99L467.10 220.35L467.43 219.69L467.75 219.03L468.08 218.34L468.41 217.65L468.74 216.94L469.07 216.22L469.40 215.48L469.73 214.74L470.06 213.97L470.39 213.20L470.72 212.41L471.05 211.62L471.38 210.80L471.64 210.15L471.90 209.48L472.17 208.81L472.43 208.13L472.69 207.44L472.96 206.75L473.22 206.05L473.48 205.34L473.75 204.62L474.01 203.90L474.27 203.17L474.54 202.44L474.80 201.69L475.06 200.95L475.33 200.19L475.59 199.43L475.85 198.66L476.12 197.89L476.38 197.11L476.64 196.33L476.91 195.54L477.17 194.74L477.43 193.94L477.70 193.13L477.96 192.32L478.22 191.51L478.49 190.69L478.75 189.86L479.01 189.03L479.28 188.20L479.54 187.36L479.80 186.51L480.07 185.67L480.33 184.82L480.59 183.96L480.86 183.10L481.12 182.24L481.38 181.37L481.65 180.51L481.91 179.63L482.17 178.76L482.44 177.88L482.70 177.00L482.96 176.12L483.23 175.23L483.49 174.34L483.75 173.45L484.02 172.56L484.28 171.67L484.54 170.78L484.81 169.88L485.07 168.98L485.33 168.08L485.60 167.18L485.86 166.28L486.12 165.38L486.39 164.48L486.65 163.58L486.91 162.68L487.18 161.77L487.44 160.87L487.70 159.97L487.97 159.07L488.23 158.17L488.49 157.27L488.76 156.38L489.02 155.48L489.28 154.59L489.55 153.69L489.81 152.80L490.07 151.91L490.34 151.03L490.60 150.14L490.86 149.26L491.13 148.38L491.39 147.50L491.65 146.63L491.92 145.76L492.18 144.89L492.44 144.02L492.71 143.16L492.97 142.30L493.23 141.44L493.50 140.59L493.76 139.74L494.02 138.89L494.29 138.05L494.55 137.21L494.81 136.37L495.08 135.54L495.34 134.71L495.60 133.89L495.87 133.07L496.13 132.25L496.39 131.44L496.66 130.63L496.92 129.83L497.18 129.03L497.45 128.23L497.71 127.44L497.97 126.66L498.24 125.88L498.50 125.10L498.77 124.33L499.03 123.56L499.29 122.80L499.56 122.04L499.82 121.29L500.08 120.54L500.35 119.80L500.61 119.06L500.87 118.33L501.14 117.60L501.40 116.88L501.66 116.16L501.93 115.44L502.19 114.74L502.45 114.03L502.72 113.33L502.98 112.64L503.24 111.95L503.51 111.27L503.77 110.59L504.03 109.91L504.30 109.24L504.56 108.58L504.82 107.92L505.15 107.10L505.48 106.29L505.81 105.48L506.14 104.69L506.47 103.90L506.80 103.11L507.13 102.34L507.46 101.57L507.79 100.81L508.11 100.06L508.44 99.31L508.77 98.57L509.10 97.84L509.43 97.12L509.76 96.40L510.09 95.69L510.42 94.98L510.75 94.28L511.08 93.59L511.41 92.91L511.74 92.23L512.06 91.56L512.39 90.89L512.72 90.23L513.05 89.58L513.38 88.93L513.71 88.29L514.04 87.65L514.37 87.03L514.76 86.28L515.16 85.54L515.55 84.82L515.95 84.10L516.34 83.38L516.74 82.68L517.13 81.99L517.53 81.30L517.92 80.62L518.32 79.95L518.71 79.29L519.11 78.64L519.50 77.99L519.90 77.35L520.29 76.72L520.69 76.10L521.08 75.49L521.48 74.88L521.87 74.28L522.27 73.69L522.73 73.00L523.19 72.33L523.65 71.67L524.11 71.02L524.57 70.37L525.04 69.74L525.50 69.11L525.96 68.50L526.42 67.89L526.88 67.29L527.34 66.70L527.80 66.12L528.26 65.55L528.72 64.99L529.18 64.43L529.64 63.88L530.10 63.34L530.63 62.73L531.16 62.14L531.69 61.55L532.21 60.97L532.74 60.40L533.27 59.83L533.79 59.28L534.32 58.74L534.85 58.20L535.37 57.67L535.90 57.15L536.43 56.64L536.95 56.13L537.48 55.64L538.01 55.15L538.53 54.67L539.06 54.19L539.65 53.67L540.24 53.15L540.84 52.64L541.43 52.14L542.02 51.65L542.61 51.17L543.21 50.70L543.80 50.23L544.39 49.77L544.98 49.32L545.58 48.88L546.17 48.45L546.76 48.02L547.35 47.60L547.95 47.19L548.54 46.78L549.13 46.38L549.73 45.99L550.38 45.57L551.04 45.15L551.70 44.74L552.36 44.34L553.02 43.94L553.68 43.55L554.33 43.18L554.99 42.80L555.65 42.44L556.31 42.08L556.97 41.74L557.63 41.39L558.28 41.06L558.94 40.73L559.60 40.41L560.26 40.10L560.92 39.79L561.58 39.49L562.23 39.19L562.89 38.90L563.55 38.62L564.21 38.34L564.87 38.07L565.53 37.81L566.19 37.55L566.91 37.27L567.63 37.00L568.36 36.74L569.08 36.48L569.81 36.23L570.53 35.98L571.25 35.74L571.98 35.51L572.70 35.28L573.43 35.06L574.15 34.85L574.88 34.64L575.60 34.44L576.32 34.24L577.05 34.05L577.77 33.86L578.50 33.68L579.22 33.50L579.95 33.32L580.67 33.15L581.39 32.99L582.12 32.83L582.84 32.67L583.57 32.51L584.29 32.36L585.02 32.21L585.74 32.07L586.46 31.93L587.19 31.79L587.91 31.65L588.64 31.52L589.36 31.38L590.09 31.25L590.81 31.13L591.53 31.00L592.26 30.88L592.98 30.76L593.71 30.64L594.43 30.52L595.15 30.41L595.88 30.30L596.60 30.19L597.33 30.08L598.05 29.97L598.78 29.87L599.50 29.76L600.22 29.66L600.95 29.56L601.67 29.46L602.40 29.36L603.12 29.27L603.85 29.18L604.57 29.08L605.29 28.99L606.02 28.90L606.74 28.82L607.47 28.73L608.19 28.64L608.92 28.56L609.64 28.48L610.36 28.40L611.09 28.32L611.81 28.24L612.54 28.16L613.26 28.09L613.99 28.01L614.71 27.94L615.43 27.87L616.16 27.80L616.88 27.73L617.61 27.66L618.33 27.59L619.05 27.53L619.78 27.46L620.50 27.40L621.23 27.33L621.95 27.27L622.68 27.21L623.40 27.15L624.12 27.10L624.85 27.04L625.57 26.98L626.30 26.93L627.02 26.88L627.75 26.82L628.47 26.77L629.19 26.72L629.92 26.67L630.64 26.62L631.37 26.58L632.09 26.53L632.82 26.49L633.54 26.44L634.26 26.40L634.99 26.36L635.71 26.31L636.44 26.27L637.16 26.23L637.88 26.19L638.61 26.16L639.33 26.12L640.06 26.08L640.78 26.05L641.51 26.01L642.23 25.98L642.95 25.95L643.68 25.92L644.40 25.89L645.13 25.86L645.85 25.83L646.58 25.80L647.30 25.77L648.02 25.75L648.75 25.72L649.47 25.70L650.20 25.67L650.92 25.65L651.65 25.63L652.37 25.61L653.09 25.59L653.82 25.57L654.54 25.55L655.27 25.53L655.99 25.51L656.72 25.50L657.44 25.48L658.16 25.47L658.89 25.45L659.61 25.44L660.34 25.43L661.06 25.42L661.78 25.41L662.51 25.40L663.23 25.39L663.96 25.38L664.68 25.37L665.41 25.36L666.13 25.36L666.85 25.35L667.58 25.34L668.30 25.34L669.03 25.34L669.75 25.33L670.48 25.33L671.20 25.32L671.92 25.32L672.65 25.32L673.37 25.32L674.10 25.32L674.82 25.32L675.55 25.32L676.27 25.32L676.99 25.32L677.72 25.32L678.44 25.32L679.17 25.32L679.89 25.33L680.62 25.33L681.34 25.33L682.06 25.33L682.79 25.34L683.51 25.34L684.24 25.35L684.96 25.35L685.68 25.35L686.41 25.36L687.13 25.36L687.86 25.37L688.58 25.38L689.31 25.38L690.03 25.39L690.75 25.39L691.48 25.40L692.20 25.41L692.93 25.41L693.65 25.42L694.38 25.43L695.10 25.43L695.82 25.44L696.55 25.45L697.27 25.46L698.00 25.47L698.72 25.47L699.45 25.48L700.17 25.49L700.89 25.50L701.62 25.51L702.34 25.52L703.07 25.53L703.79 25.54L704.52 25.55L705.24 25.56L705.96 25.57L706.69 25.58L707.41 25.59L708.14 25.60L708.86 25.61L709.58 25.62L710.31 25.63L711.03 25.64L711.76 25.65L712.48 25.66L713.21 25.68L713.93 25.69L714.65 25.70L715.38 25.71L716.10 25.73L716.83 25.74L717.55 25.75L718.28 25.76L719.00 25.78L719.72 25.79L720.45 25.80L721.17 25.82L721.90 25.83L722.62 25.85L723.35 25.86L724.07 25.87L724.79 25.89L725.52 25.90L726.24 25.92L726.97 25.93L727.69 25.95L728.41 25.96L729.14 25.98L729.86 25.99L730.59 26.01L731.31 26.02L732.04 26.04L732.76 26.06L733.48 26.07L734.21 26.09L734.93 26.10L735.66 26.12L736.38 26.14L737.11 26.15L737.83 26.17L738.55 26.19L739.28 26.20L740.00 26.22L740.73 26.24L741.45 26.25L742.18 26.27L742.90 26.29L743.62 26.31L744.35 26.32L745.07 26.34L745.80 26.36L746.52 26.37L747.25 26.39L747.97 26.41L748.69 26.43L749.42 26.44L750.14 26.46L750.87 26.48L751.59 26.50L752.31 26.51L753.04 26.53L753.50 26.54" stroke="#ff0000"/>
<path d="M424.30 235.63L425.01 235.68L425.72 235.74L426.43 235.79L427.14 235.84L427.86 235.89L428.58 235.94L429.30 235.99L430.03 236.03L430.75 236.07L431.48 236.10L432.20 236.14L432.93 236.17L433.65 236.19L434.37 236.21L435.10 236.23L435.82 236.25L436.55 236.27L437.27 236.29L437.99 236.30L438.72 236.32L439.44 236.33L440.17 236.35L440.89 236.36L441.62 236.37L442.34 236.37L443.06 236.38L443.79 236.38L444.51 236.38L445.24 236.38L445.96 236.38L446.69 236.37L447.41 236.37L448.13 236.37L448.86 236.36L449.58 236.35L450.31 236.35L451.03 236.34L451.76 236.33L452.48 236.32L453.20 236.30L453.93 236.21L454.65 235.96L455.38 235.69L456.03 235.41L456.69 235.10L457.35 234.76L458.01 234.40L458.67 234.00L459.26 233.61L459.85 233.20L460.45 232.76L461.04 232.29L461.63 231.79L462.22 231.27L462.75 230.78L463.28 230.26L463.80 229.72L464.33 229.16L464.86 228.58L465.38 227.97L465.85 227.42L466.31 226.85L466.77 226.26L467.23 225.65L467.69 225.03L468.15 224.39L468.61 223.73L469.07 223.05L469.47 222.45L469.86 221.85L470.26 221.23L470.65 220.60L471.05 219.96L471.44 219.30L471.84 218.64L472.23 217.96L472.63 217.28L473.02 216.58L473.42 215.87L473.81 215.15L474.21 214.43L474.60 213.69L475.00 212.94L475.33 212.32L475.66 211.68L475.98 211.04L476.31 210.39L476.64 209.74L476.97 209.08L477.30 208.42L477.63 207.75L477.96 207.08L478.29 206.40L478.62 205.71L478.95 205.02L479.28 204.33L479.61 203.63L479.93 202.93L480.26 202.22L480.59 201.50L480.92 200.79L481.25 200.06L481.58 199.34L481.91 198.61L482.24 197.87L482.57 197.13L482.90 196.39L483.23 195.64L483.56 194.89L483.89 194.14L484.21 193.38L484.54 192.63L484.87 191.86L485.20 191.10L485.53 190.33L485.86 189.56L486.19 188.78L486.52 188.01L486.85 187.23L487.18 186.45L487.51 185.67L487.84 184.89L488.16 184.10L488.49 183.32L488.82 182.53L489.15 181.74L489.48 180.95L489.81 180.15L490.14 179.36L490.47 178.57L490.80 177.77L491.13 176.97L491.46 176.18L491.79 175.38L492.12 174.58L492.44 173.78L492.77 172.97L493.10 172.17L493.43 171.37L493.76 170.57L494.09 169.76L494.42 168.96L494.75 168.15L495.08 167.35L495.41 166.54L495.74 165.74L496.07 164.93L496.39 164.13L496.72 163.32L497.05 162.52L497.38 161.71L497.71 160.91L498.04 160.10L498.37 159.30L498.70 158.50L499.03 157.69L499.36 156.89L499.69 156.09L500.02 155.29L500.35 154.48L500.67 153.68L501.00 152.88L501.33 152.09L501.66 151.29L501.99 150.49L502.32 149.69L502.65 148.90L502.98 148.10L503.31 147.31L503.64 146.52L503.97 145.73L504.30 144.94L504.62 144.15L504.95 143.37L505.28 142.58L505.61 141.80L505.94 141.02L506.27 140.24L506.60 139.47L506.93 138.70L507.26 137.93L507.59 137.16L507.92 136.39L508.25 135.63L508.58 134.87L508.90 134.11L509.23 133.36L509.56 132.61L509.89 131.86L510.22 131.11L510.55 130.37L510.88 129.63L511.21 128.90L511.54 128.16L511.87 127.44L512.20 126.71L512.53 125.99L512.85 125.27L513.18 124.56L513.51 123.85L513.84 123.14L514.17 122.44L514.50 121.75L514.83 121.05L515.16 120.36L515.49 119.68L515.82 119.00L516.15 118.32L516.48 117.65L516.81 116.98L517.13 116.31L517.46 115.65L517.79 114.99L518.12 114.34L518.45 113.69L518.78 113.05L519.11 112.41L519.44 111.77L519.77 111.14L520.10 110.51L520.49 109.77L520.89 109.03L521.28 108.29L521.68 107.56L522.07 106.84L522.47 106.12L522.86 105.41L523.26 104.71L523.65 104.01L524.05 103.32L524.44 102.63L524.84 101.95L525.23 101.28L525.63 100.61L526.02 99.95L526.42 99.30L526.81 98.65L527.21 98.00L527.60 97.36L528.00 96.73L528.39 96.11L528.79 95.49L529.18 94.87L529.58 94.26L529.97 93.66L530.37 93.07L530.76 92.48L531.22 91.79L531.69 91.12L532.15 90.45L532.61 89.79L533.07 89.14L533.53 88.50L533.99 87.86L534.45 87.24L534.91 86.61L535.37 86.00L535.83 85.39L536.29 84.79L536.75 84.20L537.22 83.61L537.68 83.04L538.14 82.46L538.60 81.90L539.06 81.34L539.52 80.79L539.98 80.24L540.44 79.71L540.97 79.10L541.50 78.50L542.02 77.91L542.55 77.33L543.08 76.75L543.60 76.18L544.13 75.62L544.66 75.07L545.18 74.53L545.71 73.99L546.24 73.46L546.76 72.94L547.29 72.43L547.82 71.92L548.34 71.42L548.87 70.92L549.40 70.43L549.92 69.95L550.45 69.48L551.04 68.95L551.63 68.43L552.23 67.92L552.82 67.42L553.41 66.92L554.00 66.44L554.60 65.95L555.19 65.48L555.78 65.01L556.38 64.55L556.97 64.10L557.56 63.65L558.15 63.21L558.75 62.77L559.34 62.34L559.93 61.92L560.52 61.50L561.12 61.09L561.71 60.69L562.30 60.29L562.89 59.90L563.49 59.51L564.14 59.09L564.80 58.67L565.46 58.27L566.12 57.87L566.78 57.47L567.44 57.09L568.09 56.71L568.75 56.33L569.41 55.97L570.07 55.61L570.73 55.26L571.39 54.91L572.04 54.57L572.70 54.24L573.36 53.91L574.02 53.59L574.68 53.28L575.34 52.97L576.00 52.67L576.65 52.37L577.31 52.08L577.97 51.79L578.63 51.51L579.29 51.23L579.95 50.96L580.60 50.69L581.26 50.42L581.92 50.16L582.58 49.90L583.30 49.62L584.03 49.35L584.75 49.07L585.48 48.80L586.20 48.54L586.92 48.28L587.65 48.02L588.37 47.76L589.10 47.51L589.82 47.25L590.55 47.00L591.27 46.76L591.99 46.51L592.72 46.27L593.44 46.02L594.17 45.79L594.89 45.55L595.62 45.31L596.34 45.08L597.06 44.85L597.79 44.62L598.51 44.40L599.24 44.17L599.96 43.95L600.69 43.73L601.41 43.52L602.13 43.30L602.86 43.09L603.58 42.88L604.31 42.67L605.03 42.47L605.76 42.26L606.48 42.06L607.20 41.86L607.93 41.67L608.65 41.47L609.38 41.28L610.10 41.09L610.82 40.91L611.55 40.72L612.27 40.54L613.00 40.37L613.72 40.19L614.45 40.02L615.17 39.85L615.89 39.68L616.62 39.52L617.34 39.36L618.07 39.20L618.79 39.04L619.52 38.89L620.24 38.74L620.96 38.59L621.69 38.45L622.41 38.31L623.14 38.17L623.86 38.04L624.59 37.91L625.31 37.78L626.03 37.65L626.76 37.53L627.48 37.40L628.21 37.29L628.93 37.17L629.65 37.05L630.38 36.94L631.10 36.83L631.83 36.72L632.55 36.61L633.28 36.51L634.00 36.41L634.72 36.30L635.45 36.20L636.17 36.11L636.90 36.01L637.62 35.91L638.35 35.82L639.07 35.73L639.79 35.64L640.52 35.55L641.24 35.46L641.97 35.37L642.69 35.29L643.42 35.20L644.14 35.12L644.86 35.03L645.59 34.95L646.31 34.87L647.04 34.79L647.76 34.71L648.49 34.63L649.21 34.55L649.93 34.47L650.66 34.39L651.38 34.31L652.11 34.23L652.83 34.16L653.55 34.08L654.28 34.00L655.00 33.92L655.73 33.85L656.45 33.77L657.18 33.69L657.90 33.62L658.62 33.54L659.35 33.46L660.07 33.39L660.80 33.31L661.52 33.24L662.25 33.16L662.97 33.09L663.69 33.01L664.42 32.94L665.14 32.86L665.87 32.79L666.59 32.72L667.32 32.65L668.04 32.57L668.76 32.50L669.49 32.43L670.21 32.36L670.94 32.29L671.66 32.22L672.39 32.15L673.11 32.08L673.83 32.01L674.56 31.95L675.28 31.88L676.01 31.81L676.73 31.75L677.45 31.68L678.18 31.62L678.90 31.56L679.63 31.50L680.35 31.43L681.08 31.37L681.80 31.31L682.52 31.26L683.25 31.20L683.97 31.14L684.70 31.09L685.42 31.03L686.15 30.98L686.87 30.92L687.59 30.87L688.32 30.82L689.04 30.77L689.77 30.73L690.49 30.68L691.22 30.63L691.94 30.59L692.66 30.54L693.39 30.50L694.11 30.46L694.84 30.42L695.56 30.38L696.29 30.34L697.01 30.30L697.73 30.26L698.46 30.22L699.18 30.19L699.91 30.15L700.63 30.12L701.35 30.08L702.08 30.05L702.80 30.02L703.53 29.99L704.25 29.96L704.98 29.93L705.70 29.90L706.42 29.87L707.15 29.84L707.87 29.81L708.60 29.79L709.32 29.76L710.05 29.73L710.77 29.71L711.49 29.68L712.22 29.66L712.94 29.64L713.67 29.61L714.39 29.59L715.12 29.57L715.84 29.54L716.56 29.52L717.29 29.50L718.01 29.48L718.74 29.46L719.46 29.44L720.18 29.42L720.91 29.40L721.63 29.38L722.36 29.36L723.08 29.34L723.81 29.32L724.53 29.30L725.25 29.28L725.98 29.27L726.70 29.25L727.43 29.23L728.15 29.21L728.88 29.19L729.60 29.18L730.32 29.16L731.05 29.14L731.77 29.13L732.50 29.11L733.22 29.09L733.95 29.08L734.67 29.06L735.39 29.04L736.12 29.03L736.84 29.01L737.57 29.00L738.29 28.98L739.02 28.97L739.74 28.95L740.46 28.93L741.19 28.92L741.91 28.90L742.64 28.89L743.36 28.88L744.08 28.86L744.81 28.85L745.53 28.83L746.26 28.82L746.98 28.80L747.71 28.79L748.43 28.77L749.15 28.76L749.88 28.75L750.60 28.73L751.33 28.72L752.05 28.70L752.78 28.69L753.50 28.67" stroke="#00ff00"/>
<path d="M424.30 235.63L425.01 235.68L425.72 235.74L426.43 235.79L427.14 235.84L427.86 235.89L428.58 235.94L429.30 235.99L430.03 236.03L430.75 236.07L431.48 236.10L432.20 236.14L432.93 236.17L433.65 236.19L434.37 236.21L435.10 236.23L435.82 236.25L436.55 236.27L437.27 236.29L437.99 236.30L438.72 236.32L439.44 236.33L440.17 236.35L440.89 236.36L441.62 236.37L442.34 236.37L443.06 236.38L443.79 236.38L444.51 236.38L445.24 236.38L445.96 236.38L446.69 236.37L447.41 236.37L448.13 236.37L448.86 236.36L449.58 236.35L450.31 236.35L451.03 236.34L451.76 236.33L452.48 236.32L453.20 236.30L453.93 236.29L454.65 236.27L455.38 236.26L456.10 236.24L456.82 236.13L457.55 236.02L458.27 235.88L459.00 235.73L459.72 235.56L460.45 235.38L461.17 235.17L461.89 234.95L462.62 234.70L463.34 234.43L464.00 234.17L464.66 233.89L465.32 233.59L465.98 233.27L466.64 232.93L467.29 232.57L467.95 232.19L468.61 231.78L469.27 231.36L469.86 230.95L470.45 230.53L471.05 230.09L471.64 229.64L472.23 229.16L472.82 228.66L473.42 228.15L473.94 227.67L474.47 227.19L475.00 226.68L475.52 226.16L476.05 225.63L476.58 225.08L477.10 224.51L477.63 223.93L478.16 223.33L478.68 222.72L479.14 222.18L479.61 221.62L480.07 221.05L480.53 220.47L480.99 219.87L481.45 219.27L481.91 218.65L482.37 218.02L482.83 217.38L483.29 216.73L483.75 216.07L484.21 215.40L484.61 214.81L485.00 214.21L485.40 213.61L485.79 213.00L486.19 212.38L486.58 211.75L486.98 211.11L487.37 210.46L487.77 209.81L488.16 209.15L488.56 208.47L488.95 207.80L489.35 207.11L489.74 206.41L490.14 205.71L490.54 205.00L490.93 204.28L491.33 203.55L491.72 202.81L492.12 202.07L492.51 201.32L492.84 200.69L493.17 200.06L493.50 199.42L493.83 198.77L494.16 198.12L494.49 197.47L494.81 196.81L495.14 196.14L495.47 195.48L495.80 194.80L496.13 194.13L496.46 193.45L496.79 192.76L497.12 192.07L497.45 191.38L497.78 190.69L498.11 189.99L498.44 189.28L498.77 188.58L499.09 187.87L499.42 187.16L499.75 186.44L500.08 185.73L500.41 185.01L500.74 184.28L501.07 183.56L501.40 182.83L501.73 182.11L502.06 181.38L502.39 180.65L502.72 179.91L503.04 179.18L503.37 178.44L503.70 177.71L504.03 176.97L504.36 176.23L504.69 175.50L505.02 174.76L505.35 174.02L505.68 173.28L506.01 172.54L506.34 171.81L506.67 171.07L507.00 170.33L507.32 169.60L507.65 168.87L507.98 168.13L508.31 167.40L508.64 166.67L508.97 165.94L509.30 165.22L509.63 164.49L509.96 163.77L510.29 163.05L510.62 162.33L510.95 161.62L511.27 160.90L511.60 160.19L511.93 159.49L512.26 158.78L512.59 158.08L512.92 157.39L513.25 156.69L513.58 156.00L513.91 155.31L514.24 154.63L514.57 153.95L514.90 153.27L515.23 152.60L515.55 151.93L515.88 151.26L516.21 150.60L516.54 149.94L516.87 149.29L517.20 148.63L517.53 147.99L517.86 147.34L518.19 146.70L518.52 146.07L518.85 145.44L519.18 144.81L519.57 144.06L519.97 143.32L520.36 142.58L520.76 141.85L521.15 141.13L521.55 140.41L521.94 139.69L522.34 138.99L522.73 138.28L523.13 137.59L523.52 136.90L523.92 136.21L524.31 135.53L524.71 134.86L525.10 134.19L525.50 133.53L525.89 132.88L526.29 132.23L526.68 131.58L527.08 130.94L527.47 130.31L527.87 129.68L528.26 129.05L528.66 128.43L529.05 127.82L529.45 127.21L529.84 126.61L530.24 126.01L530.63 125.41L531.03 124.82L531.49 124.14L531.95 123.47L532.41 122.80L532.87 122.14L533.33 121.48L533.79 120.83L534.25 120.19L534.71 119.55L535.17 118.92L535.64 118.29L536.10 117.67L536.56 117.05L537.02 116.44L537.48 115.84L537.94 115.24L538.40 114.65L538.86 114.06L539.32 113.48L539.78 112.90L540.24 112.33L540.71 111.76L541.17 111.20L541.63 110.64L542.09 110.09L542.55 109.54L543.01 109.00L543.47 108.46L544.00 107.85L544.52 107.25L545.05 106.65L545.58 106.06L546.10 105.47L546.63 104.89L547.16 104.32L547.68 103.75L548.21 103.18L548.74 102.63L549.26 102.08L549.79 101.53L550.32 100.99L550.84 100.46L551.37 99.93L551.90 99.40L552.42 98.89L552.95 98.37L553.48 97.87L554.00 97.37L554.53 96.87L555.06 96.38L555.58 95.89L556.11 95.41L556.64 94.94L557.23 94.41L557.82 93.88L558.42 93.37L559.01 92.86L559.60 92.35L560.19 91.85L560.79 91.36L561.38 90.87L561.97 90.39L562.56 89.91L563.16 89.43L563.75 88.96L564.34 88.50L564.93 88.04L565.53 87.58L566.12 87.13L566.71 86.68L567.30 86.23L567.90 85.79L568.49 85.35L569.08 84.91L569.67 84.48L570.27 84.05L570.86 83.62L571.45 83.19L572.04 82.77L572.64 82.35L573.23 81.93L573.82 81.51L574.42 81.09L575.01 80.68L575.60 80.27L576.19 79.86L576.79 79.45L577.38 79.05L577.97 78.65L578.56 78.25L579.16 77.85L579.75 77.46L580.34 77.06L580.93 76.67L581.53 76.29L582.18 75.86L582.84 75.44L583.50 75.02L584.16 74.60L584.82 74.19L585.48 73.78L586.13 73.38L586.79 72.98L587.45 72.58L588.11 72.19L588.77 71.80L589.43 71.42L590.09 71.04L590.74 70.66L591.40 70.29L592.06 69.92L592.72 69.55L593.38 69.19L594.04 68.83L594.69 68.48L595.35 68.13L596.01 67.78L596.67 67.43L597.33 67.09L597.99 66.75L598.64 66.42L599.30 66.08L599.96 65.75L600.62 65.43L601.28 65.10L601.94 64.78L602.59 64.46L603.25 64.15L603.91 63.83L604.57 63.52L605.23 63.21L605.89 62.91L606.55 62.60L607.20 62.30L607.86 62.00L608.52 61.70L609.18 61.40L609.84 61.11L610.50 60.82L611.15 60.53L611.81 60.24L612.47 59.95L613.13 59.67L613.79 59.39L614.45 59.11L615.10 58.84L615.76 58.57L616.42 58.30L617.08 58.03L617.74 57.77L618.40 57.51L619.12 57.23L619.84 56.95L620.57 56.68L621.29 56.41L622.02 56.15L622.74 55.89L623.47 55.63L624.19 55.38L624.91 55.13L625.64 54.89L626.36 54.64L627.09 54.41L627.81 54.17L628.54 53.94L629.26 53.72L629.98 53.49L630.71 53.27L631.43 53.06L632.16 52.84L632.88 52.63L633.61 52.42L634.33 52.22L635.05 52.02L635.78 51.82L636.50 51.63L637.23 51.43L637.95 51.24L638.68 51.06L639.40 50.87L640.12 50.69L640.85 50.51L641.57 50.34L642.30 50.16L643.02 49.99L643.74 49.82L644.47 49.65L645.19 49.49L645.92 49.32L646.64 49.16L647.37 49.00L648.09 48.84L648.81 48.69L649.54 48.53L650.26 48.38L650.99 48.22L651.71 48.07L652.44 47.92L653.16 47.77L653.88 47.63L654.61 47.48L655.33 47.33L656.06 47.19L656.78 47.04L657.51 46.90L658.23 46.76L658.95 46.62L659.68 46.48L660.40 46.34L661.13 46.20L661.85 46.06L662.57 45.92L663.30 45.79L664.02 45.65L664.75 45.52L665.47 45.39L666.20 45.25L666.92 45.12L667.64 44.99L668.37 44.86L669.09 44.73L669.82 44.61L670.54 44.48L671.27 44.35L671.99 44.23L672.71 44.10L673.44 43.98L674.16 43.86L674.89 43.74L675.61 43.62L676.34 43.50L677.06 43.38L677.78 43.26L678.51 43.15L679.23 43.03L679.96 42.92L680.68 42.80L681.41 42.69L682.13 42.58L682.85 42.47L683.58 42.36L684.30 42.25L685.03 42.14L685.75 42.04L686.47 41.93L687.20 41.83L687.92 41.73L688.65 41.62L689.37 41.52L690.10 41.42L690.82 41.33L691.54 41.23L692.27 41.13L692.99 41.04L693.72 40.94L694.44 40.85L695.17 40.76L695.89 40.66L696.61 40.57L697.34 40.49L698.06 40.40L698.79 40.31L699.51 40.22L700.24 40.14L700.96 40.05L701.68 39.97L702.41 39.89L703.13 39.81L703.86 39.73L704.58 39.65L705.31 39.57L706.03 39.49L706.75 39.41L707.48 39.34L708.20 39.26L708.93 39.19L709.65 39.12L710.37 39.05L711.10 38.98L711.82 38.91L712.55 38.84L713.27 38.77L714.00 38.70L714.72 38.63L715.44 38.57L716.17 38.51L716.89 38.44L717.62 38.38L718.34 38.32L719.07 38.26L719.79 38.20L720.51 38.14L721.24 38.08L721.96 38.02L722.69 37.97L723.41 37.91L724.14 37.86L724.86 37.80L725.58 37.75L726.31 37.70L727.03 37.64L727.76 37.59L728.48 37.54L729.21 37.49L729.93 37.44L730.65 37.40L731.38 37.35L732.10 37.30L732.83 37.25L733.55 37.21L734.27 37.16L735.00 37.12L735.72 37.07L736.45 37.03L737.17 36.99L737.90 36.94L738.62 36.90L739.34 36.86L740.07 36.82L740.79 36.78L741.52 36.74L742.24 36.69L742.97 36.65L743.69 36.61L744.41 36.57L745.14 36.53L745.86 36.50L746.59 36.46L747.31 36.42L748.04 36.38L748.76 36.34L749.48 36.30L750.21 36.26L750.93 36.23L751.66 36.19L752.38 36.15L753.10 36.11L753.50 36.09" stroke="#000000"/>
</g>
<g font-size="6.5" fill="#1a1a1a" stroke="#1a1a1a" stroke-width="0.18"><text x="424.15" y="247.90" text-anchor="middle" letter-spacing="-0.35">0</text><text x="457.07" y="247.90" text-anchor="middle" letter-spacing="-0.35">50</text><text x="489.99" y="247.90" text-anchor="middle" letter-spacing="-0.35">100</text><text x="522.91" y="247.90" text-anchor="middle" letter-spacing="-0.35">150</text><text x="555.83" y="247.90" text-anchor="middle" letter-spacing="-0.35">200</text><text x="588.75" y="247.90" text-anchor="middle" letter-spacing="-0.35">250</text><text x="621.67" y="247.90" text-anchor="middle" letter-spacing="-0.35">300</text><text x="654.59" y="247.90" text-anchor="middle" letter-spacing="-0.35">350</text><text x="687.51" y="247.90" text-anchor="middle" letter-spacing="-0.35">400</text><text x="720.43" y="247.90" text-anchor="middle" letter-spacing="-0.35">450</text><text x="753.35" y="247.90" text-anchor="middle" letter-spacing="-0.35">500</text><text x="421.30" y="241.40" text-anchor="end" letter-spacing="-0.45">0</text><text x="421.30" y="212.54" text-anchor="end" letter-spacing="-0.45">0.5</text><text x="421.30" y="183.68" text-anchor="end" letter-spacing="-0.45">1</text><text x="421.30" y="154.81" text-anchor="end" letter-spacing="-0.45">1.5</text><text x="421.30" y="125.95" text-anchor="end" letter-spacing="-0.45">2</text><text x="421.30" y="97.09" text-anchor="end" letter-spacing="-0.45">2.5</text><text x="421.30" y="68.22" text-anchor="end" letter-spacing="-0.45">3</text><text x="421.30" y="39.36" text-anchor="end" letter-spacing="-0.45">3.5</text><text x="421.30" y="10.50" text-anchor="end" letter-spacing="-0.45">4</text></g>
<g fill="#1a1a1a" stroke="#1a1a1a" stroke-width="0.12"><text x="425.80" y="6.80" font-size="7" text-anchor="middle">&#215;</text><text x="429.00" y="5.90" font-size="5.8">10</text><text x="436.00" y="3.10" font-size="4.3">5</text></g>
<text x="588.90" y="262.80" font-size="12.1" text-anchor="middle" fill="#000" stroke="#000" stroke-width="0.25">Time in Days</text>
<text transform="translate(404.20 129.50) rotate(-90)" font-size="12.4" fill="#000" stroke="#000" stroke-width="0.25">E<tspan font-size="8.6" dx="0.0" dy="5.6">h</tspan></text>
<text x="588.90" y="286.70" font-family="Liberation Serif, serif" font-size="17.5" text-anchor="middle" fill="#000">(b)</text>
<rect x="689.40" y="173.40" width="58.80" height="61.80" fill="#fff" stroke="#262626" stroke-width="1"/>
<path d="M692.20 181.90H711.20" stroke="#0000ff" stroke-width="1.5"/>
<text x="713.70" y="187.30" font-size="11" font-family="Liberation Serif, serif" font-style="italic" fill="#000" stroke="#000" stroke-width="0.2">&#977;</text>
<text x="719.30" y="187.30" font-size="10.6" fill="#000" stroke="#000" stroke-width="0.2">=1</text>
<path d="M692.20 196.90H711.20" stroke="#ff0000" stroke-width="1.5"/>
<text x="713.70" y="202.30" font-size="11" font-family="Liberation Serif, serif" font-style="italic" fill="#000" stroke="#000" stroke-width="0.2">&#977;</text>
<text x="719.30" y="202.30" font-size="10.6" fill="#000" stroke="#000" stroke-width="0.2">=0.95</text>
<path d="M692.20 211.80H711.20" stroke="#00ff00" stroke-width="1.5"/>
<text x="713.70" y="217.20" font-size="11" font-family="Liberation Serif, serif" font-style="italic" fill="#000" stroke="#000" stroke-width="0.2">&#977;</text>
<text x="719.30" y="217.20" font-size="10.6" fill="#000" stroke="#000" stroke-width="0.2">=0.90</text>
<path d="M692.20 227.10H711.20" stroke="#000000" stroke-width="1.5"/>
<text x="713.70" y="232.50" font-size="11" font-family="Liberation Serif, serif" font-style="italic" fill="#000" stroke="#000" stroke-width="0.2">&#977;</text>
<text x="719.30" y="232.50" font-size="10.6" fill="#000" stroke="#000" stroke-width="0.2">=0.85</text>
<path d="M62.31 321.60V552.40M95.22 321.60V552.40M128.13 321.60V552.40M161.04 321.60V552.40M193.95 321.60V552.40M226.86 321.60V552.40M259.77 321.60V552.40M292.68 321.60V552.40M325.59 321.60V552.40M29.40 519.43H358.50M29.40 486.46H358.50M29.40 453.49H358.50M29.40 420.51H358.50M29.40 387.54H358.50M29.40 354.57H358.50" stroke="#e4e4e4" stroke-width="1" fill="none"/>
<path d="M29.40 552.40v-3.30M29.40 321.60v3.30M62.31 552.40v-3.30M62.31 321.60v3.30M95.22 552.40v-3.30M95.22 321.60v3.30M128.13 552.40v-3.30M128.13 321.60v3.30M161.04 552.40v-3.30M161.04 321.60v3.30M193.95 552.40v-3.30M193.95 321.60v3.30M226.86 552.40v-3.30M226.86 321.60v3.30M259.77 552.40v-3.30M259.77 321.60v3.30M292.68 552.40v-3.30M292.68 321.60v3.30M325.59 552.40v-3.30M325.59 321.60v3.30M358.50 552.40v-3.30M358.50 321.60v3.30M29.40 552.40h3.30M358.50 552.40h-3.30M29.40 519.43h3.30M358.50 519.43h-3.30M29.40 486.46h3.30M358.50 486.46h-3.30M29.40 453.49h3.30M358.50 453.49h-3.30M29.40 420.51h3.30M358.50 420.51h-3.30M29.40 387.54h3.30M358.50 387.54h-3.30M29.40 354.57h3.30M358.50 354.57h-3.30M29.40 321.60h3.30M358.50 321.60h-3.30" stroke="#262626" stroke-width="0.8" fill="none"/>
<rect x="29.40" y="321.60" width="329.10" height="230.80" fill="none" stroke="#262626" stroke-width="1"/>
<clipPath id="cc"><rect x="28.60" y="320.80" width="330.70" height="232.40"/></clipPath>
<g clip-path="url(#cc)" fill="none" stroke-width="1.5" stroke-linejoin="round" stroke-linecap="round">
<path d="M29.40 551.21L29.96 550.77L30.53 550.35L31.15 550.00L31.84 549.83L32.55 549.85L33.28 549.90L34.01 549.97L34.73 550.05L35.46 550.12L36.18 550.17L36.90 550.22L37.63 550.27L38.35 550.32L39.08 550.36L39.80 550.40L40.52 550.44L41.25 550.47L41.97 550.48L42.70 550.49L43.42 550.49L44.14 550.49L44.87 550.48L45.59 550.48L46.32 550.48L47.04 550.47L47.76 550.47L48.49 550.46L49.21 550.45L49.94 550.45L50.66 550.44L51.38 550.43L52.11 550.43L52.83 550.42L53.56 550.40L54.28 550.39L55.00 550.37L55.73 550.34L56.45 550.32L57.18 550.24L57.90 550.06L58.62 549.82L59.35 549.54L60.01 549.25L60.66 548.90L61.32 548.51L61.92 548.11L62.51 547.66L63.10 547.16L63.63 546.67L64.15 546.14L64.68 545.56L65.14 545.02L65.60 544.43L66.06 543.81L66.52 543.15L66.92 542.55L67.31 541.92L67.71 541.26L68.10 540.57L68.50 539.85L68.89 539.10L69.22 538.45L69.55 537.77L69.88 537.07L70.21 536.36L70.54 535.61L70.87 534.85L71.20 534.06L71.52 533.26L71.79 532.59L72.05 531.92L72.31 531.23L72.58 530.52L72.84 529.80L73.10 529.07L73.37 528.33L73.63 527.57L73.89 526.79L74.16 526.01L74.42 525.21L74.68 524.40L74.95 523.58L75.21 522.74L75.47 521.89L75.74 521.03L76.00 520.16L76.26 519.27L76.53 518.38L76.72 517.70L76.92 517.01L77.12 516.32L77.32 515.62L77.51 514.92L77.71 514.21L77.91 513.49L78.11 512.77L78.30 512.05L78.50 511.32L78.70 510.58L78.90 509.84L79.09 509.09L79.29 508.34L79.49 507.58L79.69 506.82L79.88 506.05L80.08 505.28L80.28 504.51L80.48 503.73L80.67 502.94L80.87 502.16L81.07 501.36L81.27 500.57L81.46 499.77L81.66 498.97L81.86 498.16L82.06 497.35L82.25 496.54L82.45 495.73L82.65 494.91L82.85 494.09L83.04 493.26L83.24 492.44L83.44 491.61L83.64 490.78L83.83 489.95L84.03 489.11L84.23 488.28L84.43 487.44L84.62 486.60L84.82 485.76L85.02 484.91L85.22 484.07L85.41 483.22L85.61 482.38L85.81 481.53L86.01 480.68L86.20 479.83L86.40 478.98L86.60 478.13L86.80 477.28L86.99 476.43L87.19 475.58L87.39 474.73L87.58 473.89L87.78 473.04L87.98 472.19L88.18 471.34L88.37 470.49L88.57 469.64L88.77 468.80L88.97 467.95L89.16 467.11L89.36 466.27L89.56 465.42L89.76 464.58L89.95 463.74L90.15 462.91L90.35 462.07L90.55 461.24L90.74 460.41L90.94 459.58L91.14 458.75L91.34 457.92L91.53 457.10L91.73 456.28L91.93 455.46L92.13 454.65L92.32 453.83L92.52 453.02L92.72 452.22L92.92 451.41L93.11 450.61L93.31 449.81L93.51 449.02L93.71 448.23L93.90 447.44L94.10 446.65L94.30 445.87L94.50 445.09L94.69 444.32L94.89 443.54L95.09 442.78L95.29 442.01L95.48 441.25L95.68 440.49L95.88 439.74L96.08 438.99L96.27 438.25L96.47 437.51L96.67 436.77L96.87 436.04L97.06 435.31L97.26 434.58L97.46 433.86L97.66 433.15L97.85 432.43L98.05 431.73L98.25 431.02L98.45 430.32L98.64 429.63L98.84 428.94L99.04 428.25L99.24 427.57L99.50 426.67L99.76 425.77L100.02 424.89L100.29 424.01L100.55 423.14L100.81 422.28L101.08 421.43L101.34 420.58L101.60 419.74L101.87 418.91L102.13 418.09L102.39 417.28L102.66 416.47L102.92 415.68L103.18 414.89L103.45 414.11L103.71 413.33L103.97 412.56L104.24 411.81L104.50 411.05L104.76 410.31L105.03 409.57L105.29 408.85L105.55 408.12L105.82 407.41L106.08 406.70L106.34 406.00L106.61 405.31L106.87 404.62L107.13 403.95L107.40 403.27L107.66 402.61L107.92 401.95L108.25 401.14L108.58 400.34L108.91 399.55L109.24 398.77L109.57 398.00L109.90 397.24L110.23 396.50L110.56 395.76L110.89 395.03L111.21 394.31L111.54 393.61L111.87 392.91L112.20 392.22L112.53 391.55L112.86 390.88L113.19 390.22L113.52 389.57L113.85 388.93L114.18 388.31L114.57 387.56L114.97 386.83L115.36 386.11L115.76 385.41L116.15 384.72L116.55 384.04L116.94 383.37L117.34 382.71L117.73 382.07L118.13 381.43L118.52 380.81L118.92 380.20L119.31 379.60L119.71 379.01L120.17 378.34L120.63 377.67L121.09 377.03L121.55 376.39L122.01 375.77L122.47 375.16L122.93 374.56L123.39 373.98L123.85 373.40L124.31 372.84L124.77 372.29L125.23 371.75L125.76 371.14L126.29 370.55L126.81 369.96L127.34 369.40L127.87 368.84L128.39 368.29L128.92 367.76L129.45 367.23L129.97 366.72L130.50 366.21L131.03 365.72L131.55 365.24L132.08 364.77L132.67 364.24L133.26 363.74L133.86 363.24L134.45 362.75L135.04 362.28L135.63 361.81L136.23 361.36L136.82 360.91L137.41 360.48L138.00 360.05L138.60 359.64L139.19 359.23L139.78 358.83L140.37 358.44L141.03 358.02L141.69 357.61L142.35 357.21L143.01 356.82L143.66 356.44L144.32 356.07L144.98 355.71L145.64 355.36L146.30 355.02L146.95 354.69L147.61 354.36L148.27 354.05L148.93 353.74L149.59 353.45L150.25 353.16L150.90 352.88L151.56 352.60L152.22 352.34L152.88 352.08L153.60 351.80L154.33 351.53L155.05 351.28L155.77 351.02L156.50 350.78L157.22 350.54L157.95 350.31L158.67 350.09L159.39 349.87L160.12 349.66L160.84 349.46L161.57 349.27L162.29 349.07L163.01 348.89L163.74 348.71L164.46 348.54L165.19 348.37L165.91 348.21L166.63 348.05L167.36 347.90L168.08 347.75L168.81 347.61L169.53 347.47L170.25 347.34L170.98 347.21L171.70 347.08L172.43 346.96L173.15 346.85L173.87 346.73L174.60 346.63L175.32 346.52L176.05 346.42L176.77 346.33L177.50 346.23L178.22 346.15L178.94 346.06L179.67 345.98L180.39 345.90L181.12 345.82L181.84 345.75L182.56 345.68L183.29 345.62L184.01 345.55L184.74 345.49L185.46 345.43L186.18 345.38L186.91 345.32L187.63 345.27L188.36 345.23L189.08 345.18L189.80 345.14L190.53 345.09L191.25 345.06L191.98 345.02L192.70 344.98L193.42 344.95L194.15 344.92L194.87 344.89L195.60 344.86L196.32 344.84L197.04 344.81L197.77 344.79L198.49 344.77L199.22 344.75L199.94 344.73L200.66 344.72L201.39 344.70L202.11 344.69L202.84 344.68L203.56 344.67L204.28 344.66L205.01 344.66L205.73 344.65L206.46 344.65L207.18 344.64L207.90 344.64L208.63 344.64L209.35 344.64L210.08 344.64L210.80 344.65L211.52 344.65L212.25 344.65L212.97 344.66L213.70 344.67L214.42 344.68L215.14 344.69L215.87 344.70L216.59 344.71L217.32 344.72L218.04 344.73L218.76 344.75L219.49 344.76L220.21 344.78L220.94 344.79L221.66 344.81L222.38 344.83L223.11 344.85L223.83 344.87L224.56 344.89L225.28 344.91L226.00 344.93L226.73 344.96L227.45 344.98L228.18 345.00L228.90 345.03L229.62 345.05L230.35 345.08L231.07 345.11L231.80 345.13L232.52 345.16L233.24 345.19L233.97 345.22L234.69 345.25L235.42 345.28L236.14 345.31L236.86 345.34L237.59 345.37L238.31 345.40L239.04 345.43L239.76 345.47L240.48 345.50L241.21 345.53L241.93 345.57L242.66 345.60L243.38 345.63L244.10 345.67L244.83 345.70L245.55 345.73L246.28 345.77L247.00 345.80L247.72 345.84L248.45 345.87L249.17 345.91L249.90 345.94L250.62 345.98L251.35 346.01L252.07 346.05L252.79 346.08L253.52 346.12L254.24 346.15L254.97 346.19L255.69 346.22L256.41 346.26L257.14 346.29L257.86 346.32L258.59 346.36L259.31 346.39L260.03 346.43L260.76 346.46L261.48 346.49L262.21 346.53L262.93 346.56L263.65 346.59L264.38 346.63L265.10 346.66L265.83 346.69L266.55 346.72L267.27 346.75L268.00 346.79L268.72 346.82L269.45 346.85L270.17 346.88L270.89 346.91L271.62 346.94L272.34 346.97L273.07 347.00L273.79 347.03L274.51 347.06L275.24 347.09L275.96 347.12L276.69 347.15L277.41 347.18L278.13 347.21L278.86 347.24L279.58 347.27L280.31 347.30L281.03 347.33L281.75 347.36L282.48 347.38L283.20 347.41L283.93 347.44L284.65 347.47L285.37 347.50L286.10 347.53L286.82 347.55L287.55 347.58L288.27 347.61L288.99 347.64L289.72 347.66L290.44 347.69L291.17 347.72L291.89 347.75L292.61 347.77L293.34 347.80L294.06 347.83L294.79 347.85L295.51 347.88L296.23 347.91L296.96 347.93L297.68 347.96L298.41 347.99L299.13 348.01L299.85 348.04L300.58 348.06L301.30 348.09L302.03 348.12L302.75 348.14L303.47 348.17L304.20 348.20L304.92 348.22L305.65 348.25L306.37 348.27L307.09 348.30L307.82 348.33L308.54 348.35L309.27 348.38L309.99 348.40L310.71 348.43L311.44 348.46L312.16 348.48L312.89 348.51L313.61 348.54L314.33 348.56L315.06 348.59L315.78 348.62L316.51 348.64L317.23 348.67L317.95 348.70L318.68 348.72L319.40 348.75L320.13 348.78L320.85 348.80L321.57 348.83L322.30 348.86L323.02 348.89L323.75 348.91L324.47 348.94L325.20 348.97L325.92 349.00L326.64 349.02L327.37 349.05L328.09 349.08L328.82 349.11L329.54 349.14L330.26 349.17L330.99 349.20L331.71 349.22L332.44 349.25L333.16 349.28L333.88 349.31L334.61 349.34L335.33 349.37L336.06 349.40L336.78 349.43L337.50 349.46L338.23 349.49L338.95 349.52L339.68 349.55L340.40 349.58L341.12 349.61L341.85 349.64L342.57 349.67L343.30 349.70L344.02 349.73L344.74 349.76L345.47 349.79L346.19 349.82L346.92 349.85L347.64 349.88L348.36 349.91L349.09 349.94L349.81 349.97L350.54 350.00L351.26 350.04L351.98 350.07L352.71 350.10L353.43 350.13L354.16 350.16L354.88 350.19L355.60 350.22L356.33 350.25L357.05 350.28L357.78 350.31L358.50 350.34" stroke="#0000ff"/>
<path d="M29.40 551.21L29.96 550.77L30.53 550.35L31.15 550.00L31.84 549.83L32.55 549.85L33.28 549.90L34.01 549.97L34.73 550.05L35.46 550.12L36.18 550.17L36.90 550.22L37.63 550.27L38.35 550.32L39.08 550.36L39.80 550.40L40.52 550.44L41.25 550.47L41.97 550.48L42.70 550.49L43.42 550.49L44.14 550.49L44.87 550.48L45.59 550.48L46.32 550.48L47.04 550.47L47.76 550.47L48.49 550.46L49.21 550.45L49.94 550.45L50.66 550.44L51.38 550.43L52.11 550.43L52.83 550.42L53.56 550.40L54.28 550.39L55.00 550.37L55.73 550.34L56.45 550.32L57.18 550.29L57.90 550.26L58.62 550.22L59.35 550.19L60.07 550.09L60.80 549.87L61.52 549.61L62.18 549.34L62.84 549.03L63.49 548.69L64.15 548.30L64.81 547.88L65.40 547.45L66.00 546.99L66.59 546.49L67.11 546.01L67.64 545.50L68.17 544.95L68.69 544.37L69.16 543.83L69.62 543.26L70.08 542.66L70.54 542.03L71.00 541.38L71.46 540.69L71.85 540.08L72.25 539.44L72.64 538.79L73.04 538.11L73.43 537.41L73.83 536.68L74.22 535.94L74.55 535.30L74.88 534.65L75.21 533.98L75.54 533.30L75.87 532.60L76.20 531.89L76.53 531.16L76.86 530.42L77.19 529.67L77.51 528.90L77.84 528.11L78.17 527.31L78.50 526.50L78.77 525.85L79.03 525.18L79.29 524.50L79.55 523.82L79.82 523.13L80.08 522.43L80.34 521.73L80.61 521.01L80.87 520.29L81.13 519.56L81.40 518.83L81.66 518.08L81.92 517.34L82.19 516.58L82.45 515.82L82.71 515.05L82.98 514.28L83.24 513.49L83.50 512.71L83.77 511.92L84.03 511.12L84.29 510.32L84.56 509.51L84.82 508.70L85.08 507.89L85.35 507.07L85.61 506.24L85.87 505.41L86.14 504.58L86.40 503.74L86.66 502.90L86.93 502.06L87.19 501.21L87.45 500.36L87.72 499.51L87.98 498.65L88.24 497.79L88.51 496.93L88.77 496.07L89.03 495.21L89.30 494.34L89.56 493.47L89.82 492.60L90.09 491.73L90.35 490.85L90.61 489.98L90.88 489.11L91.14 488.23L91.40 487.35L91.67 486.48L91.93 485.60L92.19 484.72L92.46 483.84L92.72 482.97L92.98 482.09L93.25 481.21L93.51 480.34L93.77 479.46L94.04 478.59L94.30 477.71L94.56 476.84L94.83 475.97L95.09 475.10L95.35 474.23L95.61 473.36L95.88 472.49L96.14 471.63L96.40 470.76L96.67 469.90L96.93 469.04L97.19 468.19L97.46 467.33L97.72 466.48L97.98 465.63L98.25 464.79L98.51 463.94L98.77 463.10L99.04 462.26L99.30 461.43L99.56 460.59L99.83 459.76L100.09 458.94L100.35 458.11L100.62 457.29L100.88 456.48L101.14 455.66L101.41 454.85L101.67 454.05L101.93 453.24L102.20 452.45L102.46 451.65L102.72 450.86L102.99 450.07L103.25 449.29L103.51 448.51L103.78 447.74L104.04 446.97L104.30 446.20L104.57 445.44L104.83 444.68L105.09 443.93L105.36 443.18L105.62 442.43L105.88 441.69L106.15 440.96L106.41 440.23L106.67 439.50L106.94 438.78L107.20 438.06L107.46 437.35L107.73 436.64L107.99 435.93L108.25 435.24L108.52 434.54L108.78 433.85L109.04 433.17L109.31 432.49L109.57 431.81L109.83 431.14L110.10 430.47L110.36 429.81L110.62 429.15L110.95 428.34L111.28 427.53L111.61 426.73L111.94 425.93L112.27 425.15L112.60 424.37L112.93 423.59L113.25 422.83L113.58 422.07L113.91 421.32L114.24 420.57L114.57 419.83L114.90 419.10L115.23 418.38L115.56 417.66L115.89 416.94L116.22 416.24L116.55 415.54L116.87 414.85L117.20 414.16L117.53 413.48L117.86 412.81L118.19 412.14L118.52 411.48L118.85 410.82L119.18 410.17L119.51 409.53L119.84 408.89L120.17 408.26L120.56 407.51L120.96 406.77L121.35 406.04L121.75 405.32L122.14 404.60L122.54 403.90L122.93 403.20L123.33 402.51L123.72 401.83L124.11 401.15L124.51 400.48L124.90 399.83L125.30 399.17L125.69 398.53L126.09 397.89L126.48 397.27L126.88 396.64L127.27 396.03L127.67 395.42L128.06 394.82L128.46 394.23L128.92 393.54L129.38 392.87L129.84 392.21L130.30 391.55L130.76 390.90L131.22 390.27L131.68 389.64L132.15 389.02L132.61 388.41L133.07 387.80L133.53 387.21L133.99 386.62L134.45 386.04L134.91 385.47L135.37 384.91L135.83 384.36L136.29 383.81L136.75 383.28L137.28 382.67L137.81 382.08L138.33 381.49L138.86 380.91L139.39 380.35L139.91 379.79L140.44 379.24L140.96 378.70L141.49 378.17L142.02 377.65L142.54 377.14L143.07 376.64L143.60 376.14L144.12 375.65L144.65 375.18L145.24 374.65L145.84 374.13L146.43 373.62L147.02 373.12L147.61 372.64L148.21 372.16L148.80 371.69L149.39 371.23L149.98 370.78L150.57 370.34L151.17 369.90L151.76 369.48L152.35 369.06L152.94 368.66L153.54 368.26L154.13 367.87L154.79 367.44L155.45 367.03L156.10 366.62L156.76 366.23L157.42 365.84L158.08 365.46L158.74 365.09L159.39 364.73L160.05 364.38L160.71 364.04L161.37 363.70L162.03 363.37L162.69 363.06L163.34 362.74L164.00 362.44L164.66 362.14L165.32 361.85L165.98 361.56L166.63 361.29L167.29 361.01L167.95 360.75L168.61 360.49L169.33 360.21L170.06 359.93L170.78 359.67L171.51 359.40L172.23 359.15L172.95 358.90L173.68 358.65L174.40 358.41L175.13 358.18L175.85 357.95L176.57 357.72L177.30 357.50L178.02 357.28L178.75 357.07L179.47 356.86L180.19 356.66L180.92 356.46L181.64 356.26L182.37 356.07L183.09 355.88L183.81 355.69L184.54 355.51L185.26 355.34L185.99 355.17L186.71 355.00L187.43 354.83L188.16 354.67L188.88 354.51L189.61 354.36L190.33 354.21L191.05 354.07L191.78 353.92L192.50 353.79L193.23 353.65L193.95 353.52L194.67 353.40L195.40 353.27L196.12 353.15L196.85 353.04L197.57 352.93L198.29 352.82L199.02 352.71L199.74 352.61L200.47 352.51L201.19 352.41L201.91 352.32L202.64 352.23L203.36 352.14L204.09 352.05L204.81 351.97L205.53 351.89L206.26 351.81L206.98 351.73L207.71 351.66L208.43 351.59L209.15 351.51L209.88 351.45L210.60 351.38L211.33 351.31L212.05 351.25L212.77 351.19L213.50 351.13L214.22 351.07L214.95 351.01L215.67 350.96L216.39 350.90L217.12 350.85L217.84 350.80L218.57 350.74L219.29 350.69L220.01 350.65L220.74 350.60L221.46 350.55L222.19 350.50L222.91 350.46L223.63 350.41L224.36 350.36L225.08 350.32L225.81 350.28L226.53 350.23L227.25 350.19L227.98 350.15L228.70 350.10L229.43 350.06L230.15 350.02L230.88 349.98L231.60 349.94L232.32 349.89L233.05 349.85L233.77 349.81L234.50 349.77L235.22 349.73L235.94 349.70L236.67 349.66L237.39 349.62L238.12 349.58L238.84 349.54L239.56 349.51L240.29 349.47L241.01 349.43L241.74 349.40L242.46 349.36L243.18 349.33L243.91 349.30L244.63 349.26L245.36 349.23L246.08 349.20L246.80 349.17L247.53 349.14L248.25 349.11L248.98 349.08L249.70 349.05L250.42 349.02L251.15 348.99L251.87 348.97L252.60 348.94L253.32 348.92L254.04 348.89L254.77 348.87L255.49 348.84L256.22 348.82L256.94 348.80L257.66 348.78L258.39 348.76L259.11 348.74L259.84 348.73L260.56 348.71L261.28 348.69L262.01 348.68L262.73 348.66L263.46 348.65L264.18 348.64L264.90 348.63L265.63 348.62L266.35 348.61L267.08 348.60L267.80 348.59L268.52 348.58L269.25 348.57L269.97 348.57L270.70 348.56L271.42 348.56L272.14 348.55L272.87 348.55L273.59 348.55L274.32 348.54L275.04 348.54L275.76 348.54L276.49 348.54L277.21 348.54L277.94 348.54L278.66 348.54L279.38 348.54L280.11 348.54L280.83 348.54L281.56 348.54L282.28 348.54L283.00 348.54L283.73 348.54L284.45 348.55L285.18 348.55L285.90 348.55L286.62 348.56L287.35 348.56L288.07 348.56L288.80 348.57L289.52 348.57L290.24 348.57L290.97 348.58L291.69 348.58L292.42 348.59L293.14 348.59L293.86 348.59L294.59 348.60L295.31 348.60L296.04 348.61L296.76 348.61L297.48 348.62L298.21 348.62L298.93 348.63L299.66 348.63L300.38 348.63L301.10 348.64L301.83 348.64L302.55 348.65L303.28 348.65L304.00 348.66L304.73 348.66L305.45 348.67L306.17 348.67L306.90 348.68L307.62 348.68L308.35 348.69L309.07 348.69L309.79 348.70L310.52 348.71L311.24 348.71L311.97 348.72L312.69 348.72L313.41 348.73L314.14 348.74L314.86 348.74L315.59 348.75L316.31 348.75L317.03 348.76L317.76 348.77L318.48 348.77L319.21 348.78L319.93 348.79L320.65 348.80L321.38 348.80L322.10 348.81L322.83 348.82L323.55 348.83L324.27 348.84L325.00 348.84L325.72 348.85L326.45 348.86L327.17 348.87L327.89 348.88L328.62 348.89L329.34 348.90L330.07 348.91L330.79 348.92L331.51 348.93L332.24 348.94L332.96 348.95L333.69 348.96L334.41 348.97L335.13 348.98L335.86 348.99L336.58 349.00L337.31 349.01L338.03 349.02L338.75 349.03L339.48 349.04L340.20 349.05L340.93 349.06L341.65 349.07L342.37 349.09L343.10 349.10L343.82 349.11L344.55 349.12L345.27 349.13L345.99 349.14L346.72 349.16L347.44 349.17L348.17 349.18L348.89 349.19L349.61 349.20L350.34 349.22L351.06 349.23L351.79 349.24L352.51 349.25L353.23 349.26L353.96 349.28L354.68 349.29L355.41 349.30L356.13 349.31L356.85 349.33L357.58 349.34L358.30 349.35L358.50 349.35" stroke="#ff0000"/>
<path d="M29.40 551.21L29.96 550.77L30.53 550.35L31.15 550.00L31.84 549.83L32.55 549.85L33.28 549.90L34.01 549.97L34.73 550.05L35.46 550.12L36.18 550.17L36.90 550.22L37.63 550.27L38.35 550.32L39.08 550.36L39.80 550.40L40.52 550.44L41.25 550.47L41.97 550.48L42.70 550.49L43.42 550.49L44.14 550.49L44.87 550.48L45.59 550.48L46.32 550.48L47.04 550.47L47.76 550.47L48.49 550.46L49.21 550.45L49.94 550.45L50.66 550.44L51.38 550.43L52.11 550.43L52.83 550.42L53.56 550.40L54.28 550.39L55.00 550.37L55.73 550.34L56.45 550.32L57.18 550.29L57.90 550.26L58.62 550.22L59.35 550.19L60.07 550.15L60.80 550.11L61.52 550.07L62.24 550.03L62.97 549.89L63.69 549.66L64.42 549.41L65.14 549.12L65.80 548.84L66.46 548.52L67.11 548.18L67.77 547.80L68.43 547.39L69.02 547.00L69.62 546.58L70.21 546.13L70.80 545.65L71.39 545.14L71.92 544.66L72.45 544.15L72.97 543.62L73.50 543.07L74.03 542.49L74.55 541.89L75.01 541.34L75.47 540.77L75.93 540.18L76.40 539.57L76.86 538.94L77.32 538.29L77.78 537.62L78.17 537.03L78.57 536.42L78.96 535.80L79.36 535.17L79.75 534.52L80.15 533.86L80.54 533.19L80.94 532.50L81.33 531.79L81.73 531.08L82.12 530.35L82.52 529.60L82.85 528.97L83.17 528.33L83.50 527.69L83.83 527.03L84.16 526.37L84.49 525.69L84.82 525.01L85.15 524.32L85.48 523.63L85.81 522.92L86.14 522.21L86.47 521.49L86.80 520.76L87.12 520.02L87.45 519.28L87.78 518.53L88.11 517.78L88.44 517.02L88.77 516.25L89.10 515.47L89.43 514.69L89.76 513.91L90.09 513.12L90.42 512.32L90.74 511.52L91.07 510.71L91.40 509.90L91.73 509.09L92.06 508.27L92.32 507.61L92.59 506.95L92.85 506.29L93.11 505.63L93.38 504.96L93.64 504.30L93.90 503.63L94.17 502.96L94.43 502.28L94.69 501.61L94.96 500.94L95.22 500.26L95.48 499.58L95.75 498.91L96.01 498.23L96.27 497.55L96.54 496.87L96.80 496.19L97.06 495.51L97.33 494.82L97.59 494.14L97.85 493.46L98.12 492.78L98.38 492.10L98.64 491.41L98.91 490.73L99.17 490.05L99.43 489.37L99.70 488.69L99.96 488.00L100.22 487.32L100.49 486.64L100.75 485.96L101.01 485.28L101.28 484.61L101.54 483.93L101.80 483.25L102.07 482.58L102.33 481.90L102.59 481.23L102.86 480.55L103.12 479.88L103.38 479.21L103.64 478.54L103.91 477.87L104.17 477.21L104.43 476.54L104.70 475.87L104.96 475.21L105.22 474.55L105.49 473.89L105.75 473.23L106.01 472.57L106.28 471.91L106.61 471.10L106.94 470.28L107.27 469.47L107.59 468.66L107.92 467.85L108.25 467.05L108.58 466.24L108.91 465.44L109.24 464.65L109.57 463.86L109.90 463.07L110.23 462.28L110.56 461.50L110.89 460.72L111.21 459.95L111.54 459.18L111.87 458.41L112.20 457.65L112.53 456.89L112.86 456.13L113.19 455.38L113.52 454.63L113.85 453.89L114.18 453.15L114.51 452.42L114.83 451.69L115.16 450.97L115.49 450.25L115.82 449.53L116.15 448.82L116.48 448.12L116.81 447.41L117.14 446.72L117.47 446.02L117.80 445.34L118.13 444.65L118.45 443.98L118.78 443.30L119.11 442.63L119.44 441.97L119.77 441.31L120.10 440.65L120.43 440.00L120.76 439.36L121.09 438.71L121.42 438.08L121.75 437.45L122.07 436.82L122.47 436.07L122.86 435.33L123.26 434.60L123.65 433.87L124.05 433.15L124.44 432.44L124.84 431.73L125.23 431.03L125.63 430.34L126.02 429.65L126.42 428.97L126.81 428.30L127.21 427.63L127.60 426.97L128.00 426.32L128.39 425.67L128.79 425.03L129.18 424.40L129.58 423.77L129.97 423.15L130.37 422.53L130.76 421.92L131.16 421.32L131.55 420.72L131.95 420.13L132.41 419.45L132.87 418.77L133.33 418.11L133.79 417.45L134.25 416.79L134.71 416.15L135.17 415.51L135.63 414.88L136.09 414.25L136.55 413.63L137.02 413.02L137.48 412.42L137.94 411.82L138.40 411.22L138.86 410.64L139.32 410.06L139.78 409.48L140.24 408.91L140.70 408.35L141.16 407.79L141.62 407.24L142.08 406.69L142.54 406.15L143.01 405.61L143.53 405.00L144.06 404.40L144.59 403.81L145.11 403.22L145.64 402.64L146.16 402.06L146.69 401.49L147.22 400.92L147.74 400.36L148.27 399.81L148.80 399.26L149.32 398.71L149.85 398.17L150.38 397.63L150.90 397.10L151.43 396.58L151.96 396.05L152.48 395.54L153.01 395.03L153.54 394.52L154.06 394.02L154.59 393.53L155.12 393.04L155.64 392.55L156.17 392.07L156.70 391.59L157.29 391.07L157.88 390.54L158.47 390.03L159.07 389.52L159.66 389.02L160.25 388.52L160.84 388.03L161.43 387.55L162.03 387.07L162.62 386.60L163.21 386.14L163.80 385.68L164.40 385.23L164.99 384.79L165.58 384.35L166.17 383.92L166.77 383.49L167.36 383.07L167.95 382.65L168.54 382.25L169.14 381.84L169.73 381.44L170.32 381.05L170.91 380.66L171.57 380.24L172.23 379.82L172.89 379.41L173.55 379.01L174.20 378.61L174.86 378.22L175.52 377.83L176.18 377.45L176.84 377.08L177.50 376.71L178.15 376.35L178.81 375.99L179.47 375.64L180.13 375.30L180.79 374.96L181.44 374.63L182.10 374.30L182.76 373.98L183.42 373.66L184.08 373.35L184.74 373.04L185.39 372.74L186.05 372.44L186.71 372.15L187.37 371.87L188.03 371.58L188.68 371.31L189.34 371.04L190.00 370.77L190.66 370.51L191.38 370.22L192.11 369.94L192.83 369.67L193.56 369.40L194.28 369.14L195.00 368.88L195.73 368.63L196.45 368.39L197.18 368.15L197.90 367.91L198.62 367.68L199.35 367.45L200.07 367.23L200.80 367.01L201.52 366.79L202.24 366.58L202.97 366.38L203.69 366.17L204.42 365.97L205.14 365.78L205.86 365.59L206.59 365.40L207.31 365.22L208.04 365.04L208.76 364.86L209.48 364.69L210.21 364.52L210.93 364.35L211.66 364.19L212.38 364.02L213.10 363.87L213.83 363.71L214.55 363.56L215.28 363.41L216.00 363.26L216.72 363.11L217.45 362.97L218.17 362.83L218.90 362.69L219.62 362.55L220.34 362.42L221.07 362.28L221.79 362.15L222.52 362.02L223.24 361.90L223.96 361.77L224.69 361.64L225.41 361.52L226.14 361.40L226.86 361.28L227.58 361.16L228.31 361.04L229.03 360.92L229.76 360.81L230.48 360.69L231.20 360.58L231.93 360.47L232.65 360.35L233.38 360.24L234.10 360.13L234.82 360.02L235.55 359.91L236.27 359.80L237.00 359.69L237.72 359.58L238.44 359.47L239.17 359.37L239.89 359.26L240.62 359.15L241.34 359.05L242.06 358.94L242.79 358.83L243.51 358.73L244.24 358.63L244.96 358.52L245.68 358.42L246.41 358.32L247.13 358.22L247.86 358.12L248.58 358.02L249.30 357.92L250.03 357.82L250.75 357.72L251.48 357.63L252.20 357.53L252.92 357.44L253.65 357.34L254.37 357.25L255.10 357.16L255.82 357.07L256.54 356.98L257.27 356.89L257.99 356.80L258.72 356.72L259.44 356.63L260.16 356.55L260.89 356.47L261.61 356.38L262.34 356.30L263.06 356.22L263.79 356.15L264.51 356.07L265.23 355.99L265.96 355.92L266.68 355.85L267.41 355.77L268.13 355.70L268.85 355.63L269.58 355.56L270.30 355.49L271.03 355.42L271.75 355.36L272.47 355.29L273.20 355.23L273.92 355.16L274.65 355.10L275.37 355.04L276.09 354.97L276.82 354.91L277.54 354.85L278.27 354.79L278.99 354.74L279.71 354.68L280.44 354.62L281.16 354.57L281.89 354.51L282.61 354.45L283.33 354.40L284.06 354.35L284.78 354.29L285.51 354.24L286.23 354.19L286.95 354.14L287.68 354.09L288.40 354.04L289.13 353.99L289.85 353.94L290.57 353.90L291.30 353.85L292.02 353.80L292.75 353.76L293.47 353.71L294.19 353.66L294.92 353.62L295.64 353.58L296.37 353.53L297.09 353.49L297.81 353.45L298.54 353.40L299.26 353.36L299.99 353.32L300.71 353.28L301.43 353.24L302.16 353.20L302.88 353.16L303.61 353.12L304.33 353.08L305.05 353.04L305.78 353.01L306.50 352.97L307.23 352.93L307.95 352.90L308.67 352.86L309.40 352.83L310.12 352.79L310.85 352.76L311.57 352.72L312.29 352.69L313.02 352.66L313.74 352.62L314.47 352.59L315.19 352.56L315.91 352.53L316.64 352.50L317.36 352.47L318.09 352.44L318.81 352.41L319.53 352.38L320.26 352.35L320.98 352.32L321.71 352.29L322.43 352.26L323.15 352.24L323.88 352.21L324.60 352.18L325.33 352.16L326.05 352.13L326.77 352.11L327.50 352.08L328.22 352.06L328.95 352.03L329.67 352.01L330.39 351.99L331.12 351.96L331.84 351.94L332.57 351.92L333.29 351.90L334.01 351.87L334.74 351.85L335.46 351.83L336.19 351.81L336.91 351.79L337.64 351.77L338.36 351.75L339.08 351.73L339.81 351.71L340.53 351.69L341.26 351.67L341.98 351.65L342.70 351.63L343.43 351.61L344.15 351.60L344.88 351.58L345.60 351.56L346.32 351.54L347.05 351.52L347.77 351.51L348.50 351.49L349.22 351.47L349.94 351.45L350.67 351.44L351.39 351.42L352.12 351.40L352.84 351.39L353.56 351.37L354.29 351.35L355.01 351.34L355.74 351.32L356.46 351.30L357.18 351.29L357.91 351.27L358.50 351.26" stroke="#00ff00"/>
<path d="M29.40 551.21L29.96 550.77L30.53 550.35L31.15 550.00L31.84 549.83L32.55 549.85L33.28 549.90L34.01 549.97L34.73 550.05L35.46 550.12L36.18 550.17L36.90 550.22L37.63 550.27L38.35 550.32L39.08 550.36L39.80 550.40L40.52 550.44L41.25 550.47L41.97 550.48L42.70 550.49L43.42 550.49L44.14 550.49L44.87 550.48L45.59 550.48L46.32 550.48L47.04 550.47L47.76 550.47L48.49 550.46L49.21 550.45L49.94 550.45L50.66 550.44L51.38 550.43L52.11 550.43L52.83 550.42L53.56 550.40L54.28 550.39L55.00 550.37L55.73 550.34L56.45 550.32L57.18 550.29L57.90 550.26L58.62 550.22L59.35 550.19L60.07 550.15L60.80 550.11L61.52 550.07L62.24 550.03L62.97 549.99L63.69 549.91L64.42 549.81L65.14 549.71L65.86 549.59L66.59 549.45L67.31 549.30L68.04 549.14L68.76 548.96L69.48 548.76L70.21 548.55L70.93 548.32L71.66 548.06L72.38 547.79L73.04 547.52L73.70 547.23L74.36 546.93L75.01 546.60L75.67 546.25L76.33 545.89L76.99 545.50L77.65 545.09L78.24 544.70L78.83 544.30L79.42 543.87L80.02 543.43L80.61 542.97L81.20 542.49L81.79 541.99L82.39 541.47L82.91 540.99L83.44 540.50L83.96 539.99L84.49 539.46L85.02 538.92L85.54 538.36L86.07 537.79L86.60 537.21L87.12 536.60L87.58 536.06L88.05 535.51L88.51 534.95L88.97 534.38L89.43 533.79L89.89 533.19L90.35 532.58L90.81 531.96L91.27 531.33L91.73 530.69L92.19 530.04L92.65 529.38L93.11 528.70L93.51 528.12L93.90 527.52L94.30 526.92L94.69 526.31L95.09 525.69L95.48 525.06L95.88 524.43L96.27 523.79L96.67 523.14L97.06 522.49L97.46 521.82L97.85 521.15L98.25 520.47L98.64 519.79L99.04 519.10L99.43 518.40L99.83 517.69L100.22 516.98L100.62 516.26L101.01 515.53L101.41 514.80L101.80 514.06L102.20 513.32L102.59 512.57L102.92 511.94L103.25 511.30L103.58 510.66L103.91 510.02L104.24 509.38L104.57 508.73L104.90 508.07L105.22 507.42L105.55 506.76L105.88 506.09L106.21 505.43L106.54 504.76L106.87 504.09L107.20 503.41L107.53 502.73L107.86 502.05L108.19 501.37L108.52 500.68L108.84 500.00L109.17 499.31L109.50 498.61L109.83 497.92L110.16 497.22L110.49 496.52L110.82 495.82L111.15 495.12L111.48 494.42L111.81 493.72L112.14 493.01L112.46 492.31L112.79 491.60L113.12 490.90L113.45 490.19L113.78 489.48L114.11 488.78L114.44 488.07L114.77 487.36L115.10 486.66L115.43 485.95L115.76 485.24L116.08 484.54L116.41 483.84L116.74 483.13L117.07 482.43L117.40 481.73L117.73 481.03L118.06 480.34L118.39 479.64L118.72 478.95L119.05 478.25L119.38 477.56L119.71 476.87L120.03 476.19L120.36 475.50L120.69 474.82L121.02 474.14L121.35 473.46L121.68 472.79L122.01 472.12L122.34 471.45L122.67 470.78L123.00 470.12L123.33 469.46L123.65 468.80L123.98 468.14L124.31 467.49L124.64 466.85L124.97 466.20L125.30 465.56L125.63 464.92L125.96 464.29L126.29 463.66L126.62 463.03L127.01 462.28L127.41 461.54L127.80 460.81L128.20 460.07L128.59 459.35L128.99 458.63L129.38 457.91L129.78 457.20L130.17 456.50L130.57 455.81L130.96 455.11L131.36 454.43L131.75 453.75L132.15 453.08L132.54 452.41L132.93 451.75L133.33 451.09L133.72 450.45L134.12 449.80L134.51 449.16L134.91 448.53L135.30 447.91L135.70 447.29L136.09 446.67L136.49 446.06L136.88 445.46L137.28 444.86L137.67 444.27L138.07 443.68L138.53 443.01L138.99 442.34L139.45 441.67L139.91 441.02L140.37 440.37L140.83 439.73L141.29 439.09L141.75 438.46L142.22 437.84L142.68 437.22L143.14 436.62L143.60 436.01L144.06 435.42L144.52 434.83L144.98 434.24L145.44 433.66L145.90 433.09L146.36 432.52L146.82 431.96L147.28 431.41L147.74 430.86L148.21 430.31L148.67 429.77L149.19 429.16L149.72 428.56L150.25 427.96L150.77 427.37L151.30 426.78L151.83 426.20L152.35 425.63L152.88 425.06L153.40 424.49L153.93 423.93L154.46 423.38L154.98 422.83L155.51 422.29L156.04 421.75L156.56 421.22L157.09 420.69L157.62 420.16L158.14 419.64L158.67 419.13L159.20 418.62L159.72 418.11L160.25 417.60L160.78 417.10L161.30 416.61L161.83 416.11L162.36 415.63L162.88 415.14L163.41 414.66L163.94 414.18L164.46 413.70L165.06 413.18L165.65 412.65L166.24 412.13L166.83 411.61L167.42 411.10L168.02 410.60L168.61 410.10L169.20 409.60L169.79 409.11L170.39 408.62L170.98 408.14L171.57 407.66L172.16 407.19L172.76 406.72L173.35 406.26L173.94 405.80L174.53 405.35L175.13 404.90L175.72 404.45L176.31 404.02L176.90 403.58L177.50 403.15L178.09 402.73L178.68 402.31L179.27 401.90L179.86 401.49L180.46 401.08L181.05 400.68L181.64 400.28L182.23 399.89L182.83 399.50L183.48 399.08L184.14 398.66L184.80 398.24L185.46 397.83L186.12 397.43L186.78 397.03L187.43 396.63L188.09 396.24L188.75 395.85L189.41 395.47L190.07 395.10L190.72 394.72L191.38 394.36L192.04 393.99L192.70 393.63L193.36 393.28L194.02 392.93L194.67 392.58L195.33 392.24L195.99 391.90L196.65 391.56L197.31 391.23L197.97 390.90L198.62 390.58L199.28 390.26L199.94 389.94L200.60 389.62L201.26 389.31L201.91 389.00L202.57 388.70L203.23 388.40L203.89 388.10L204.55 387.80L205.21 387.50L205.86 387.21L206.52 386.92L207.18 386.64L207.84 386.35L208.50 386.07L209.15 385.79L209.81 385.51L210.47 385.24L211.13 384.96L211.79 384.69L212.45 384.42L213.10 384.16L213.76 383.89L214.42 383.63L215.08 383.37L215.80 383.09L216.53 382.81L217.25 382.53L217.97 382.25L218.70 381.98L219.42 381.71L220.15 381.44L220.87 381.17L221.59 380.91L222.32 380.65L223.04 380.39L223.77 380.13L224.49 379.87L225.21 379.62L225.94 379.37L226.66 379.12L227.39 378.88L228.11 378.63L228.83 378.39L229.56 378.15L230.28 377.91L231.01 377.68L231.73 377.44L232.45 377.21L233.18 376.98L233.90 376.76L234.63 376.53L235.35 376.31L236.07 376.09L236.80 375.87L237.52 375.65L238.25 375.44L238.97 375.23L239.69 375.02L240.42 374.81L241.14 374.60L241.87 374.40L242.59 374.20L243.32 374.00L244.04 373.80L244.76 373.60L245.49 373.41L246.21 373.22L246.94 373.03L247.66 372.85L248.38 372.66L249.11 372.48L249.83 372.30L250.56 372.12L251.28 371.95L252.00 371.77L252.73 371.60L253.45 371.43L254.18 371.27L254.90 371.10L255.62 370.94L256.35 370.78L257.07 370.62L257.80 370.47L258.52 370.31L259.24 370.16L259.97 370.01L260.69 369.86L261.42 369.71L262.14 369.57L262.86 369.43L263.59 369.29L264.31 369.15L265.04 369.01L265.76 368.88L266.48 368.74L267.21 368.61L267.93 368.48L268.66 368.35L269.38 368.23L270.10 368.10L270.83 367.98L271.55 367.85L272.28 367.73L273.00 367.61L273.72 367.50L274.45 367.38L275.17 367.26L275.90 367.15L276.62 367.04L277.34 366.92L278.07 366.81L278.79 366.71L279.52 366.60L280.24 366.49L280.96 366.38L281.69 366.28L282.41 366.18L283.14 366.07L283.86 365.97L284.58 365.87L285.31 365.77L286.03 365.67L286.76 365.58L287.48 365.48L288.20 365.38L288.93 365.29L289.65 365.19L290.38 365.10L291.10 365.01L291.82 364.91L292.55 364.82L293.27 364.73L294.00 364.64L294.72 364.55L295.44 364.46L296.17 364.37L296.89 364.29L297.62 364.20L298.34 364.11L299.06 364.03L299.79 363.94L300.51 363.86L301.24 363.77L301.96 363.69L302.68 363.61L303.41 363.53L304.13 363.45L304.86 363.37L305.58 363.29L306.30 363.21L307.03 363.13L307.75 363.05L308.48 362.97L309.20 362.90L309.92 362.82L310.65 362.74L311.37 362.67L312.10 362.60L312.82 362.52L313.54 362.45L314.27 362.38L314.99 362.31L315.72 362.23L316.44 362.16L317.17 362.10L317.89 362.03L318.61 361.96L319.34 361.89L320.06 361.82L320.79 361.76L321.51 361.69L322.23 361.63L322.96 361.56L323.68 361.50L324.41 361.44L325.13 361.38L325.85 361.31L326.58 361.25L327.30 361.19L328.03 361.13L328.75 361.08L329.47 361.02L330.20 360.96L330.92 360.90L331.65 360.85L332.37 360.79L333.09 360.74L333.82 360.68L334.54 360.63L335.27 360.57L335.99 360.52L336.71 360.47L337.44 360.41L338.16 360.36L338.89 360.31L339.61 360.26L340.33 360.21L341.06 360.16L341.78 360.11L342.51 360.06L343.23 360.01L343.95 359.96L344.68 359.91L345.40 359.86L346.13 359.82L346.85 359.77L347.57 359.72L348.30 359.67L349.02 359.63L349.75 359.58L350.47 359.53L351.19 359.49L351.92 359.44L352.64 359.39L353.37 359.35L354.09 359.30L354.81 359.26L355.54 359.21L356.26 359.17L356.99 359.12L357.71 359.08L358.43 359.03L358.50 359.03" stroke="#000000"/>
</g>
<g font-size="6.5" fill="#1a1a1a" stroke="#1a1a1a" stroke-width="0.18"><text x="29.25" y="561.90" text-anchor="middle" letter-spacing="-0.35">0</text><text x="62.16" y="561.90" text-anchor="middle" letter-spacing="-0.35">50</text><text x="95.07" y="561.90" text-anchor="middle" letter-spacing="-0.35">100</text><text x="127.98" y="561.90" text-anchor="middle" letter-spacing="-0.35">150</text><text x="160.89" y="561.90" text-anchor="middle" letter-spacing="-0.35">200</text><text x="193.80" y="561.90" text-anchor="middle" letter-spacing="-0.35">250</text><text x="226.71" y="561.90" text-anchor="middle" letter-spacing="-0.35">300</text><text x="259.62" y="561.90" text-anchor="middle" letter-spacing="-0.35">350</text><text x="292.53" y="561.90" text-anchor="middle" letter-spacing="-0.35">400</text><text x="325.44" y="561.90" text-anchor="middle" letter-spacing="-0.35">450</text><text x="358.35" y="561.90" text-anchor="middle" letter-spacing="-0.35">500</text><text x="26.40" y="555.40" text-anchor="end" letter-spacing="-0.45">0</text><text x="26.40" y="522.43" text-anchor="end" letter-spacing="-0.45">0.5</text><text x="26.40" y="489.46" text-anchor="end" letter-spacing="-0.45">1</text><text x="26.40" y="456.49" text-anchor="end" letter-spacing="-0.45">1.5</text><text x="26.40" y="423.51" text-anchor="end" letter-spacing="-0.45">2</text><text x="26.40" y="390.54" text-anchor="end" letter-spacing="-0.45">2.5</text><text x="26.40" y="357.57" text-anchor="end" letter-spacing="-0.45">3</text><text x="26.40" y="324.60" text-anchor="end" letter-spacing="-0.45">3.5</text></g>
<g fill="#1a1a1a" stroke="#1a1a1a" stroke-width="0.12"><text x="30.90" y="320.90" font-size="7" text-anchor="middle">&#215;</text><text x="34.10" y="320.00" font-size="5.8">10</text><text x="41.10" y="317.20" font-size="4.3">4</text></g>
<text x="193.95" y="576.80" font-size="12.1" text-anchor="middle" fill="#000" stroke="#000" stroke-width="0.25">Time in Days</text>
<text transform="translate(8.80 439.20) rotate(-90)" font-size="12.4" fill="#000" stroke="#000" stroke-width="0.25">I<tspan font-size="8.6" dx="0.0" dy="5.6">h</tspan></text>
<text x="193.95" y="600.70" font-family="Liberation Serif, serif" font-size="17.5" text-anchor="middle" fill="#000">(c)</text>
<rect x="294.30" y="486.90" width="59.10" height="62.60" fill="#fff" stroke="#262626" stroke-width="1"/>
<path d="M297.50 495.60H316.50" stroke="#0000ff" stroke-width="1.5"/>
<text x="318.50" y="501.00" font-size="11" font-family="Liberation Serif, serif" font-style="italic" fill="#000" stroke="#000" stroke-width="0.2">&#977;</text>
<text x="324.10" y="501.00" font-size="10.6" fill="#000" stroke="#000" stroke-width="0.2">=1</text>
<path d="M297.50 510.60H316.50" stroke="#ff0000" stroke-width="1.5"/>
<text x="318.50" y="516.00" font-size="11" font-family="Liberation Serif, serif" font-style="italic" fill="#000" stroke="#000" stroke-width="0.2">&#977;</text>
<text x="324.10" y="516.00" font-size="10.6" fill="#000" stroke="#000" stroke-width="0.2">=0.95</text>
<path d="M297.50 525.60H316.50" stroke="#00ff00" stroke-width="1.5"/>
<text x="318.50" y="531.00" font-size="11" font-family="Liberation Serif, serif" font-style="italic" fill="#000" stroke="#000" stroke-width="0.2">&#977;</text>
<text x="324.10" y="531.00" font-size="10.6" fill="#000" stroke="#000" stroke-width="0.2">=0.90</text>
<path d="M297.50 540.50H316.50" stroke="#000000" stroke-width="1.5"/>
<text x="318.50" y="545.90" font-size="11" font-family="Liberation Serif, serif" font-style="italic" fill="#000" stroke="#000" stroke-width="0.2">&#977;</text>
<text x="324.10" y="545.90" font-size="10.6" fill="#000" stroke="#000" stroke-width="0.2">=0.85</text>
<path d="M457.31 321.60V552.00M490.22 321.60V552.00M523.13 321.60V552.00M556.04 321.60V552.00M588.95 321.60V552.00M621.86 321.60V552.00M654.77 321.60V552.00M687.68 321.60V552.00M720.59 321.60V552.00M424.40 526.40H753.50M424.40 500.80H753.50M424.40 475.20H753.50M424.40 449.60H753.50M424.40 424.00H753.50M424.40 398.40H753.50M424.40 372.80H753.50M424.40 347.20H753.50" stroke="#e4e4e4" stroke-width="1" fill="none"/>
<path d="M424.40 552.00v-3.30M424.40 321.60v3.30M457.31 552.00v-3.30M457.31 321.60v3.30M490.22 552.00v-3.30M490.22 321.60v3.30M523.13 552.00v-3.30M523.13 321.60v3.30M556.04 552.00v-3.30M556.04 321.60v3.30M588.95 552.00v-3.30M588.95 321.60v3.30M621.86 552.00v-3.30M621.86 321.60v3.30M654.77 552.00v-3.30M654.77 321.60v3.30M687.68 552.00v-3.30M687.68 321.60v3.30M720.59 552.00v-3.30M720.59 321.60v3.30M753.50 552.00v-3.30M753.50 321.60v3.30M424.40 552.00h3.30M753.50 552.00h-3.30M424.40 526.40h3.30M753.50 526.40h-3.30M424.40 500.80h3.30M753.50 500.80h-3.30M424.40 475.20h3.30M753.50 475.20h-3.30M424.40 449.60h3.30M753.50 449.60h-3.30M424.40 424.00h3.30M753.50 424.00h-3.30M424.40 398.40h3.30M753.50 398.40h-3.30M424.40 372.80h3.30M753.50 372.80h-3.30M424.40 347.20h3.30M753.50 347.20h-3.30M424.40 321.60h3.30M753.50 321.60h-3.30" stroke="#262626" stroke-width="0.8" fill="none"/>
<rect x="424.40" y="321.60" width="329.10" height="230.40" fill="none" stroke="#262626" stroke-width="1"/>
<clipPath id="cd"><rect x="423.60" y="320.80" width="330.70" height="232.00"/></clipPath>
<g clip-path="url(#cd)" fill="none" stroke-width="1.5" stroke-linejoin="round" stroke-linecap="round">
<path d="M424.40 552.00L425.08 551.82L425.77 551.64L426.46 551.47L427.16 551.33L427.86 551.21L428.58 551.10L429.30 550.99L430.03 550.89L430.75 550.80L431.48 550.71L432.20 550.63L432.92 550.56L433.65 550.49L434.37 550.43L435.10 550.37L435.82 550.32L436.54 550.28L437.27 550.23L437.99 550.19L438.72 550.15L439.44 550.11L440.16 550.08L440.89 550.05L441.61 550.02L442.34 550.00L443.06 549.98L443.78 549.96L444.51 549.95L445.23 549.93L445.96 549.92L446.68 549.91L447.40 549.90L448.13 549.89L448.85 549.88L449.58 549.87L450.30 549.87L451.06 549.86L451.78 549.86L452.51 549.85L453.23 549.85L453.95 549.85L454.68 549.85L455.40 549.85L456.13 549.86L456.85 549.79L457.57 549.58L458.30 549.34L458.96 549.08L459.61 548.78L460.27 548.43L460.93 548.04L461.52 547.65L462.11 547.21L462.71 546.72L463.30 546.19L463.83 545.68L464.35 545.12L464.88 544.53L465.34 543.97L465.80 543.37L466.26 542.75L466.72 542.08L467.12 541.49L467.51 540.86L467.91 540.21L468.30 539.54L468.70 538.83L469.09 538.10L469.42 537.46L469.75 536.81L470.08 536.14L470.41 535.45L470.74 534.74L471.07 534.01L471.40 533.26L471.72 532.49L472.05 531.70L472.38 530.89L472.65 530.23L472.91 529.56L473.17 528.88L473.44 528.18L473.70 527.48L473.96 526.76L474.23 526.03L474.49 525.29L474.75 524.53L475.02 523.77L475.28 522.99L475.54 522.21L475.81 521.41L476.07 520.60L476.33 519.78L476.60 518.95L476.86 518.12L477.12 517.27L477.39 516.41L477.65 515.54L477.91 514.67L478.17 513.78L478.44 512.89L478.70 511.98L478.90 511.30L479.10 510.61L479.29 509.92L479.49 509.22L479.69 508.52L479.89 507.81L480.08 507.10L480.28 506.39L480.48 505.67L480.68 504.95L480.87 504.22L481.07 503.49L481.27 502.76L481.47 502.02L481.66 501.28L481.86 500.54L482.06 499.79L482.26 499.04L482.45 498.29L482.65 497.53L482.85 496.77L483.05 496.01L483.24 495.25L483.44 494.48L483.64 493.71L483.84 492.94L484.03 492.17L484.23 491.39L484.43 490.61L484.63 489.83L484.82 489.05L485.02 488.27L485.22 487.49L485.42 486.70L485.61 485.92L485.81 485.13L486.01 484.34L486.20 483.55L486.40 482.76L486.60 481.97L486.80 481.18L486.99 480.38L487.19 479.59L487.39 478.80L487.59 478.00L487.78 477.21L487.98 476.42L488.18 475.62L488.38 474.83L488.57 474.04L488.77 473.24L488.97 472.45L489.17 471.66L489.36 470.87L489.56 470.08L489.76 469.29L489.96 468.50L490.15 467.71L490.35 466.92L490.55 466.13L490.75 465.35L490.94 464.56L491.14 463.78L491.34 463.00L491.54 462.22L491.73 461.44L491.93 460.66L492.13 459.88L492.33 459.11L492.52 458.33L492.72 457.56L492.92 456.79L493.12 456.03L493.31 455.26L493.51 454.49L493.71 453.73L493.91 452.97L494.10 452.22L494.30 451.46L494.50 450.71L494.70 449.95L494.89 449.21L495.09 448.46L495.29 447.72L495.49 446.97L495.68 446.24L495.88 445.50L496.08 444.77L496.28 444.03L496.47 443.31L496.67 442.58L496.87 441.86L497.07 441.14L497.26 440.42L497.46 439.71L497.66 439.00L497.86 438.29L498.05 437.58L498.25 436.88L498.45 436.18L498.64 435.49L498.84 434.79L499.04 434.10L499.24 433.42L499.43 432.73L499.63 432.05L499.90 431.15L500.16 430.26L500.42 429.37L500.69 428.48L500.95 427.61L501.21 426.74L501.48 425.87L501.74 425.01L502.00 424.16L502.27 423.31L502.53 422.47L502.79 421.64L503.05 420.81L503.32 419.99L503.58 419.18L503.84 418.37L504.11 417.57L504.37 416.77L504.63 415.98L504.90 415.20L505.16 414.42L505.42 413.65L505.69 412.89L505.95 412.13L506.21 411.38L506.48 410.64L506.74 409.90L507.00 409.16L507.27 408.44L507.53 407.72L507.79 407.01L508.06 406.30L508.32 405.60L508.58 404.90L508.85 404.21L509.11 403.53L509.37 402.86L509.64 402.19L509.90 401.52L510.16 400.86L510.49 400.05L510.82 399.25L511.15 398.45L511.48 397.66L511.81 396.89L512.14 396.12L512.47 395.36L512.80 394.61L513.13 393.87L513.45 393.14L513.78 392.41L514.11 391.70L514.44 390.99L514.77 390.29L515.10 389.60L515.43 388.92L515.76 388.25L516.09 387.58L516.42 386.92L516.75 386.27L517.07 385.63L517.40 385.00L517.80 384.25L518.19 383.51L518.59 382.78L518.98 382.07L519.38 381.36L519.77 380.66L520.17 379.98L520.56 379.30L520.96 378.63L521.35 377.98L521.75 377.33L522.14 376.69L522.54 376.07L522.93 375.45L523.33 374.84L523.72 374.24L524.12 373.64L524.58 372.96L525.04 372.30L525.50 371.64L525.96 370.99L526.42 370.36L526.88 369.74L527.34 369.13L527.80 368.53L528.26 367.94L528.72 367.36L529.19 366.79L529.65 366.23L530.11 365.68L530.57 365.14L531.09 364.54L531.62 363.94L532.15 363.36L532.67 362.80L533.20 362.24L533.73 361.70L534.25 361.17L534.78 360.64L535.31 360.13L535.83 359.63L536.36 359.14L536.89 358.67L537.48 358.14L538.07 357.62L538.66 357.12L539.26 356.63L539.85 356.16L540.44 355.69L541.03 355.23L541.63 354.79L542.22 354.36L542.81 353.93L543.40 353.52L543.99 353.12L544.59 352.72L545.25 352.30L545.90 351.89L546.56 351.48L547.22 351.09L547.88 350.71L548.54 350.34L549.19 349.98L549.85 349.63L550.51 349.29L551.17 348.95L551.83 348.63L552.49 348.32L553.14 348.01L553.80 347.71L554.46 347.42L555.12 347.14L555.78 346.86L556.43 346.59L557.09 346.33L557.82 346.05L558.54 345.77L559.27 345.51L559.99 345.25L560.71 345.00L561.44 344.76L562.16 344.52L562.89 344.29L563.61 344.07L564.33 343.85L565.06 343.64L565.78 343.43L566.51 343.23L567.23 343.04L567.95 342.85L568.68 342.67L569.40 342.49L570.13 342.32L570.85 342.16L571.57 341.99L572.30 341.84L573.02 341.69L573.75 341.54L574.47 341.40L575.19 341.26L575.92 341.13L576.64 341.00L577.37 340.87L578.09 340.75L578.81 340.64L579.54 340.53L580.26 340.42L580.99 340.32L581.71 340.22L582.43 340.12L583.16 340.03L583.88 339.94L584.61 339.86L585.33 339.78L586.05 339.70L586.78 339.63L587.50 339.56L588.23 339.49L588.95 339.43L589.67 339.37L590.40 339.31L591.12 339.26L591.85 339.20L592.57 339.15L593.29 339.11L594.02 339.06L594.74 339.02L595.47 338.98L596.19 338.94L596.91 338.91L597.64 338.88L598.36 338.84L599.09 338.82L599.81 338.79L600.53 338.76L601.26 338.74L601.98 338.72L602.71 338.70L603.43 338.68L604.15 338.67L604.88 338.65L605.60 338.64L606.33 338.63L607.05 338.62L607.77 338.61L608.50 338.60L609.22 338.60L609.95 338.59L610.67 338.59L611.39 338.59L612.12 338.59L612.84 338.59L613.57 338.59L614.29 338.59L615.01 338.59L615.74 338.60L616.46 338.60L617.19 338.61L617.91 338.62L618.63 338.62L619.36 338.63L620.08 338.64L620.81 338.65L621.53 338.66L622.25 338.67L622.98 338.69L623.70 338.70L624.43 338.71L625.15 338.72L625.88 338.74L626.60 338.75L627.32 338.77L628.05 338.78L628.77 338.80L629.50 338.82L630.22 338.84L630.94 338.85L631.67 338.87L632.39 338.89L633.12 338.91L633.84 338.93L634.56 338.95L635.29 338.97L636.01 338.99L636.74 339.01L637.46 339.03L638.18 339.05L638.91 339.07L639.63 339.10L640.36 339.12L641.08 339.14L641.80 339.16L642.53 339.19L643.25 339.21L643.98 339.23L644.70 339.26L645.42 339.28L646.15 339.31L646.87 339.33L647.60 339.36L648.32 339.38L649.04 339.41L649.77 339.43L650.49 339.46L651.22 339.48L651.94 339.51L652.66 339.54L653.39 339.56L654.11 339.59L654.84 339.61L655.56 339.64L656.28 339.67L657.01 339.69L657.73 339.72L658.46 339.75L659.18 339.78L659.90 339.80L660.63 339.83L661.35 339.86L662.08 339.89L662.80 339.91L663.52 339.94L664.25 339.97L664.97 340.00L665.70 340.02L666.42 340.05L667.14 340.08L667.87 340.11L668.59 340.14L669.32 340.17L670.04 340.19L670.76 340.22L671.49 340.25L672.21 340.28L672.94 340.31L673.66 340.34L674.38 340.37L675.11 340.40L675.83 340.43L676.56 340.46L677.28 340.48L678.00 340.51L678.73 340.54L679.45 340.57L680.18 340.60L680.90 340.63L681.62 340.66L682.35 340.69L683.07 340.72L683.80 340.75L684.52 340.78L685.24 340.81L685.97 340.84L686.69 340.87L687.42 340.90L688.14 340.93L688.86 340.96L689.59 340.99L690.31 341.02L691.04 341.05L691.76 341.08L692.48 341.11L693.21 341.14L693.93 341.17L694.66 341.20L695.38 341.24L696.10 341.27L696.83 341.30L697.55 341.33L698.28 341.36L699.00 341.39L699.73 341.42L700.45 341.45L701.17 341.48L701.90 341.51L702.62 341.54L703.35 341.57L704.07 341.60L704.79 341.63L705.52 341.66L706.24 341.69L706.97 341.72L707.69 341.75L708.41 341.78L709.14 341.81L709.86 341.84L710.59 341.87L711.31 341.90L712.03 341.93L712.76 341.96L713.48 341.99L714.21 342.02L714.93 342.04L715.65 342.07L716.38 342.10L717.10 342.13L717.83 342.16L718.55 342.19L719.27 342.22L720.00 342.24L720.72 342.27L721.45 342.30L722.17 342.33L722.89 342.35L723.62 342.38L724.34 342.41L725.07 342.44L725.79 342.46L726.51 342.49L727.24 342.52L727.96 342.54L728.69 342.57L729.41 342.59L730.13 342.62L730.86 342.65L731.58 342.67L732.31 342.70L733.03 342.72L733.75 342.75L734.48 342.77L735.20 342.80L735.93 342.82L736.65 342.85L737.37 342.87L738.10 342.90L738.82 342.92L739.55 342.95L740.27 342.97L740.99 343.00L741.72 343.02L742.44 343.05L743.17 343.07L743.89 343.10L744.61 343.12L745.34 343.15L746.06 343.17L746.79 343.19L747.51 343.22L748.23 343.24L748.96 343.27L749.68 343.29L750.41 343.32L751.13 343.34L751.85 343.36L752.58 343.39L753.30 343.41L753.50 343.42" stroke="#0000ff"/>
<path d="M424.40 552.00L425.08 551.82L425.77 551.64L426.46 551.47L427.16 551.33L427.86 551.21L428.58 551.10L429.30 550.99L430.03 550.89L430.75 550.80L431.48 550.71L432.20 550.63L432.92 550.56L433.65 550.49L434.37 550.43L435.10 550.37L435.82 550.32L436.54 550.28L437.27 550.23L437.99 550.19L438.72 550.15L439.44 550.11L440.16 550.08L440.89 550.05L441.61 550.02L442.34 550.00L443.06 549.98L443.78 549.96L444.51 549.95L445.23 549.93L445.96 549.92L446.68 549.91L447.40 549.90L448.13 549.89L448.85 549.88L449.58 549.87L450.30 549.87L451.06 549.86L451.78 549.86L452.51 549.85L453.23 549.85L453.95 549.85L454.68 549.85L455.40 549.85L456.13 549.86L456.85 549.86L457.57 549.87L458.30 549.87L459.02 549.76L459.75 549.59L460.47 549.40L461.19 549.17L461.92 548.92L462.58 548.66L463.23 548.36L463.89 548.04L464.55 547.68L465.21 547.29L465.80 546.90L466.39 546.48L466.99 546.03L467.58 545.55L468.17 545.03L468.70 544.54L469.22 544.02L469.75 543.47L470.28 542.89L470.80 542.29L471.26 541.73L471.72 541.15L472.19 540.55L472.65 539.92L473.11 539.27L473.57 538.59L473.96 537.99L474.36 537.38L474.75 536.74L475.15 536.09L475.54 535.42L475.94 534.73L476.33 534.02L476.73 533.30L477.12 532.56L477.45 531.93L477.78 531.29L478.11 530.63L478.44 529.97L478.77 529.29L479.10 528.60L479.43 527.90L479.75 527.19L480.08 526.47L480.41 525.73L480.74 524.99L481.07 524.24L481.40 523.47L481.73 522.70L482.06 521.91L482.39 521.12L482.72 520.31L483.05 519.50L483.31 518.84L483.57 518.18L483.84 517.51L484.10 516.84L484.36 516.16L484.63 515.47L484.89 514.78L485.15 514.09L485.42 513.39L485.68 512.68L485.94 511.97L486.20 511.26L486.47 510.54L486.73 509.82L486.99 509.09L487.26 508.36L487.52 507.62L487.78 506.88L488.05 506.14L488.31 505.39L488.57 504.64L488.84 503.89L489.10 503.13L489.36 502.37L489.63 501.60L489.89 500.83L490.15 500.06L490.42 499.29L490.68 498.51L490.94 497.73L491.21 496.95L491.47 496.16L491.73 495.38L492.00 494.59L492.26 493.79L492.52 493.00L492.79 492.21L493.05 491.41L493.31 490.61L493.58 489.81L493.84 489.01L494.10 488.21L494.37 487.41L494.63 486.60L494.89 485.80L495.16 484.99L495.42 484.19L495.68 483.38L495.95 482.57L496.21 481.77L496.47 480.96L496.74 480.15L497.00 479.35L497.26 478.54L497.53 477.73L497.79 476.93L498.05 476.12L498.32 475.32L498.58 474.52L498.84 473.72L499.11 472.92L499.37 472.12L499.63 471.32L499.90 470.52L500.16 469.72L500.42 468.93L500.69 468.14L500.95 467.35L501.21 466.56L501.48 465.77L501.74 464.98L502.00 464.20L502.27 463.42L502.53 462.64L502.79 461.86L503.05 461.09L503.32 460.32L503.58 459.55L503.84 458.78L504.11 458.01L504.37 457.25L504.63 456.49L504.90 455.73L505.16 454.98L505.42 454.23L505.69 453.48L505.95 452.73L506.21 451.99L506.48 451.25L506.74 450.52L507.00 449.78L507.27 449.05L507.53 448.33L507.79 447.60L508.06 446.89L508.32 446.17L508.58 445.46L508.85 444.75L509.11 444.04L509.37 443.34L509.64 442.64L509.90 441.94L510.16 441.25L510.43 440.56L510.69 439.88L510.95 439.20L511.22 438.52L511.48 437.85L511.74 437.18L512.01 436.51L512.27 435.85L512.53 435.19L512.86 434.37L513.19 433.56L513.52 432.75L513.85 431.95L514.18 431.15L514.51 430.36L514.84 429.58L515.17 428.80L515.49 428.02L515.82 427.26L516.15 426.50L516.48 425.74L516.81 424.99L517.14 424.25L517.47 423.51L517.80 422.78L518.13 422.05L518.46 421.33L518.79 420.62L519.11 419.91L519.44 419.20L519.77 418.51L520.10 417.81L520.43 417.13L520.76 416.45L521.09 415.77L521.42 415.10L521.75 414.44L522.08 413.78L522.41 413.13L522.74 412.48L523.06 411.84L523.39 411.21L523.72 410.58L524.12 409.83L524.51 409.09L524.91 408.36L525.30 407.63L525.70 406.91L526.09 406.20L526.49 405.50L526.88 404.81L527.28 404.12L527.67 403.44L528.07 402.76L528.46 402.10L528.86 401.44L529.25 400.79L529.65 400.14L530.04 399.50L530.44 398.87L530.83 398.25L531.23 397.63L531.62 397.02L532.02 396.41L532.41 395.81L532.81 395.22L533.20 394.63L533.66 393.95L534.12 393.29L534.58 392.63L535.04 391.97L535.50 391.33L535.96 390.69L536.43 390.07L536.89 389.45L537.35 388.83L537.81 388.23L538.27 387.63L538.73 387.04L539.19 386.46L539.65 385.88L540.11 385.31L540.57 384.75L541.03 384.20L541.49 383.65L541.95 383.11L542.48 382.50L543.01 381.90L543.53 381.30L544.06 380.72L544.59 380.14L545.11 379.57L545.64 379.01L546.17 378.45L546.69 377.91L547.22 377.37L547.75 376.84L548.27 376.31L548.80 375.79L549.33 375.28L549.85 374.78L550.38 374.29L550.91 373.80L551.43 373.31L551.96 372.84L552.55 372.31L553.14 371.79L553.74 371.28L554.33 370.77L554.92 370.28L555.51 369.79L556.11 369.31L556.70 368.83L557.29 368.37L557.88 367.91L558.48 367.45L559.07 367.01L559.66 366.57L560.25 366.14L560.84 365.71L561.44 365.30L562.03 364.88L562.62 364.48L563.21 364.08L563.81 363.69L564.46 363.26L565.12 362.84L565.78 362.43L566.44 362.03L567.10 361.63L567.76 361.24L568.41 360.86L569.07 360.49L569.73 360.12L570.39 359.76L571.05 359.41L571.71 359.07L572.36 358.73L573.02 358.40L573.68 358.08L574.34 357.76L575.00 357.45L575.65 357.15L576.31 356.85L576.97 356.57L577.63 356.28L578.29 356.01L578.95 355.74L579.60 355.48L580.33 355.19L581.05 354.92L581.78 354.65L582.50 354.39L583.22 354.14L583.95 353.89L584.67 353.65L585.40 353.42L586.12 353.19L586.84 352.97L587.57 352.75L588.29 352.54L589.02 352.33L589.74 352.12L590.46 351.92L591.19 351.73L591.91 351.54L592.64 351.35L593.36 351.17L594.08 350.99L594.81 350.81L595.53 350.64L596.26 350.47L596.98 350.30L597.70 350.14L598.43 349.98L599.15 349.82L599.88 349.67L600.60 349.52L601.32 349.37L602.05 349.23L602.77 349.09L603.50 348.95L604.22 348.81L604.94 348.68L605.67 348.55L606.39 348.42L607.12 348.30L607.84 348.18L608.56 348.06L609.29 347.94L610.01 347.82L610.74 347.71L611.46 347.60L612.18 347.49L612.91 347.38L613.63 347.28L614.36 347.17L615.08 347.07L615.80 346.97L616.53 346.88L617.25 346.78L617.98 346.69L618.70 346.60L619.42 346.51L620.15 346.42L620.87 346.34L621.60 346.25L622.32 346.17L623.04 346.09L623.77 346.01L624.49 345.94L625.22 345.86L625.94 345.79L626.66 345.71L627.39 345.64L628.11 345.57L628.84 345.50L629.56 345.44L630.28 345.37L631.01 345.31L631.73 345.25L632.46 345.18L633.18 345.12L633.91 345.07L634.63 345.01L635.35 344.95L636.08 344.90L636.80 344.84L637.53 344.79L638.25 344.74L638.97 344.69L639.70 344.64L640.42 344.59L641.15 344.54L641.87 344.50L642.59 344.45L643.32 344.41L644.04 344.36L644.77 344.32L645.49 344.28L646.21 344.24L646.94 344.20L647.66 344.16L648.39 344.12L649.11 344.09L649.83 344.05L650.56 344.02L651.28 343.98L652.01 343.95L652.73 343.92L653.45 343.88L654.18 343.85L654.90 343.82L655.63 343.79L656.35 343.77L657.07 343.74L657.80 343.71L658.52 343.68L659.25 343.66L659.97 343.63L660.69 343.61L661.42 343.59L662.14 343.56L662.87 343.54L663.59 343.52L664.31 343.50L665.04 343.48L665.76 343.46L666.49 343.44L667.21 343.42L667.93 343.40L668.66 343.38L669.38 343.37L670.11 343.35L670.83 343.34L671.55 343.32L672.28 343.31L673.00 343.29L673.73 343.28L674.45 343.26L675.17 343.25L675.90 343.24L676.62 343.23L677.35 343.22L678.07 343.20L678.79 343.19L679.52 343.18L680.24 343.17L680.97 343.16L681.69 343.16L682.41 343.15L683.14 343.14L683.86 343.13L684.59 343.12L685.31 343.12L686.03 343.11L686.76 343.10L687.48 343.10L688.21 343.09L688.93 343.09L689.65 343.08L690.38 343.08L691.10 343.07L691.83 343.07L692.55 343.06L693.27 343.06L694.00 343.06L694.72 343.05L695.45 343.05L696.17 343.05L696.89 343.04L697.62 343.04L698.34 343.04L699.07 343.04L699.79 343.04L700.51 343.04L701.24 343.04L701.96 343.04L702.69 343.04L703.41 343.04L704.13 343.04L704.86 343.04L705.58 343.04L706.31 343.04L707.03 343.04L707.76 343.04L708.48 343.05L709.20 343.05L709.93 343.05L710.65 343.05L711.38 343.06L712.10 343.06L712.82 343.06L713.55 343.06L714.27 343.07L715.00 343.07L715.72 343.08L716.44 343.08L717.17 343.09L717.89 343.09L718.62 343.10L719.34 343.10L720.06 343.11L720.79 343.11L721.51 343.12L722.24 343.12L722.96 343.13L723.68 343.14L724.41 343.14L725.13 343.15L725.86 343.16L726.58 343.16L727.30 343.17L728.03 343.18L728.75 343.19L729.48 343.19L730.20 343.20L730.92 343.21L731.65 343.22L732.37 343.23L733.10 343.23L733.82 343.24L734.54 343.25L735.27 343.26L735.99 343.27L736.72 343.28L737.44 343.29L738.16 343.30L738.89 343.30L739.61 343.31L740.34 343.32L741.06 343.33L741.78 343.34L742.51 343.35L743.23 343.36L743.96 343.37L744.68 343.38L745.40 343.39L746.13 343.40L746.85 343.41L747.58 343.42L748.30 343.43L749.02 343.44L749.75 343.45L750.47 343.46L751.20 343.47L751.92 343.48L752.64 343.49L753.37 343.50L753.50 343.50" stroke="#ff0000"/>
<path d="M424.40 552.00L425.08 551.82L425.77 551.64L426.46 551.47L427.16 551.33L427.86 551.21L428.58 551.10L429.30 550.99L430.03 550.89L430.75 550.80L431.48 550.71L432.20 550.63L432.92 550.56L433.65 550.49L434.37 550.43L435.10 550.37L435.82 550.32L436.54 550.28L437.27 550.23L437.99 550.19L438.72 550.15L439.44 550.11L440.16 550.08L440.89 550.05L441.61 550.02L442.34 550.00L443.06 549.98L443.78 549.96L444.51 549.95L445.23 549.93L445.96 549.92L446.68 549.91L447.40 549.90L448.13 549.89L448.85 549.88L449.58 549.87L450.30 549.87L451.06 549.86L451.78 549.86L452.51 549.85L453.23 549.85L453.95 549.85L454.68 549.85L455.40 549.85L456.13 549.86L456.85 549.86L457.57 549.87L458.30 549.87L459.02 549.84L459.75 549.78L460.47 549.71L461.19 549.63L461.92 549.54L462.64 549.42L463.37 549.30L464.09 549.16L464.81 548.99L465.54 548.81L466.26 548.61L466.99 548.38L467.71 548.13L468.43 547.85L469.09 547.57L469.75 547.28L470.41 546.95L471.07 546.61L471.72 546.23L472.38 545.83L473.04 545.40L473.63 544.99L474.23 544.56L474.82 544.10L475.41 543.62L476.00 543.12L476.60 542.58L477.12 542.09L477.65 541.58L478.17 541.04L478.70 540.49L479.23 539.91L479.75 539.31L480.22 538.77L480.68 538.21L481.14 537.64L481.60 537.05L482.06 536.44L482.52 535.82L482.98 535.18L483.44 534.53L483.90 533.86L484.30 533.27L484.69 532.67L485.09 532.05L485.48 531.43L485.88 530.79L486.27 530.15L486.67 529.49L487.06 528.82L487.46 528.14L487.85 527.45L488.25 526.74L488.64 526.03L489.04 525.30L489.43 524.57L489.83 523.82L490.15 523.20L490.48 522.56L490.81 521.92L491.14 521.27L491.47 520.62L491.80 519.96L492.13 519.29L492.46 518.62L492.79 517.94L493.12 517.25L493.45 516.56L493.77 515.86L494.10 515.16L494.43 514.46L494.76 513.74L495.09 513.03L495.42 512.31L495.75 511.58L496.08 510.85L496.41 510.11L496.74 509.37L497.07 508.62L497.39 507.87L497.72 507.12L498.05 506.36L498.38 505.60L498.71 504.84L499.04 504.07L499.37 503.30L499.70 502.52L500.03 501.74L500.36 500.96L500.69 500.17L501.01 499.39L501.34 498.59L501.67 497.80L502.00 497.01L502.33 496.21L502.66 495.41L502.99 494.60L503.32 493.80L503.65 493.00L503.98 492.19L504.31 491.38L504.63 490.57L504.96 489.76L505.29 488.95L505.62 488.14L505.95 487.33L506.28 486.52L506.61 485.70L506.94 484.89L507.27 484.08L507.60 483.27L507.93 482.46L508.25 481.65L508.58 480.84L508.91 480.03L509.24 479.23L509.57 478.42L509.90 477.62L510.23 476.82L510.56 476.02L510.89 475.22L511.22 474.42L511.55 473.63L511.87 472.84L512.20 472.05L512.53 471.26L512.86 470.48L513.19 469.70L513.52 468.92L513.85 468.14L514.18 467.37L514.51 466.60L514.84 465.83L515.17 465.06L515.49 464.30L515.82 463.54L516.15 462.79L516.48 462.03L516.81 461.28L517.14 460.54L517.47 459.80L517.80 459.06L518.13 458.32L518.46 457.59L518.79 456.86L519.11 456.14L519.44 455.42L519.77 454.70L520.10 453.99L520.43 453.28L520.76 452.57L521.09 451.87L521.42 451.18L521.75 450.48L522.08 449.79L522.41 449.11L522.74 448.43L523.06 447.75L523.39 447.08L523.72 446.41L524.05 445.75L524.38 445.09L524.71 444.44L525.04 443.79L525.37 443.14L525.70 442.50L526.03 441.86L526.36 441.23L526.68 440.60L527.08 439.85L527.47 439.10L527.87 438.37L528.26 437.64L528.66 436.91L529.05 436.19L529.45 435.48L529.84 434.77L530.24 434.07L530.63 433.38L531.03 432.69L531.42 432.00L531.82 431.33L532.21 430.66L532.61 429.99L533.00 429.33L533.40 428.68L533.79 428.03L534.19 427.39L534.58 426.75L534.98 426.12L535.37 425.50L535.77 424.88L536.16 424.26L536.56 423.65L536.95 423.05L537.35 422.45L537.74 421.86L538.14 421.27L538.60 420.59L539.06 419.92L539.52 419.26L539.98 418.60L540.44 417.94L540.90 417.30L541.36 416.66L541.82 416.02L542.28 415.40L542.74 414.78L543.21 414.16L543.67 413.55L544.13 412.95L544.59 412.35L545.05 411.76L545.51 411.17L545.97 410.59L546.43 410.01L546.89 409.44L547.35 408.88L547.81 408.32L548.27 407.77L548.73 407.22L549.19 406.68L549.66 406.14L550.18 405.53L550.71 404.93L551.24 404.34L551.76 403.75L552.29 403.17L552.81 402.59L553.34 402.02L553.87 401.46L554.39 400.90L554.92 400.35L555.45 399.80L555.97 399.26L556.50 398.72L557.03 398.19L557.55 397.67L558.08 397.15L558.61 396.63L559.13 396.12L559.66 395.62L560.19 395.12L560.71 394.63L561.24 394.14L561.77 393.65L562.29 393.17L562.82 392.70L563.41 392.17L564.00 391.65L564.60 391.13L565.19 390.62L565.78 390.12L566.37 389.62L566.97 389.13L567.56 388.64L568.15 388.16L568.74 387.68L569.34 387.21L569.93 386.75L570.52 386.29L571.11 385.83L571.71 385.38L572.30 384.94L572.89 384.50L573.48 384.07L574.07 383.64L574.67 383.22L575.26 382.80L575.85 382.39L576.44 381.98L577.04 381.58L577.63 381.19L578.22 380.80L578.88 380.37L579.54 379.95L580.20 379.53L580.85 379.13L581.51 378.73L582.17 378.33L582.83 377.94L583.49 377.56L584.15 377.18L584.80 376.81L585.46 376.45L586.12 376.09L586.78 375.73L587.44 375.38L588.09 375.04L588.75 374.70L589.41 374.36L590.07 374.03L590.73 373.70L591.39 373.38L592.04 373.06L592.70 372.74L593.36 372.43L594.02 372.13L594.68 371.82L595.33 371.52L595.99 371.23L596.65 370.94L597.31 370.65L597.97 370.36L598.63 370.08L599.28 369.81L599.94 369.53L600.60 369.26L601.26 368.99L601.92 368.73L602.57 368.47L603.30 368.18L604.02 367.90L604.75 367.63L605.47 367.35L606.19 367.08L606.92 366.82L607.64 366.55L608.37 366.29L609.09 366.04L609.81 365.78L610.54 365.53L611.26 365.29L611.99 365.04L612.71 364.80L613.44 364.56L614.16 364.33L614.88 364.09L615.61 363.87L616.33 363.64L617.06 363.41L617.78 363.19L618.50 362.97L619.23 362.76L619.95 362.54L620.68 362.33L621.40 362.12L622.12 361.92L622.85 361.71L623.57 361.51L624.30 361.31L625.02 361.12L625.74 360.92L626.47 360.73L627.19 360.54L627.92 360.35L628.64 360.17L629.36 359.98L630.09 359.80L630.81 359.63L631.54 359.45L632.26 359.28L632.98 359.11L633.71 358.94L634.43 358.77L635.16 358.61L635.88 358.44L636.60 358.28L637.33 358.13L638.05 357.97L638.78 357.82L639.50 357.67L640.22 357.52L640.95 357.37L641.67 357.23L642.40 357.08L643.12 356.94L643.84 356.81L644.57 356.67L645.29 356.54L646.02 356.40L646.74 356.27L647.46 356.15L648.19 356.02L648.91 355.89L649.64 355.77L650.36 355.65L651.08 355.53L651.81 355.41L652.53 355.29L653.26 355.18L653.98 355.06L654.70 354.95L655.43 354.84L656.15 354.73L656.88 354.62L657.60 354.51L658.32 354.41L659.05 354.30L659.77 354.20L660.50 354.09L661.22 353.99L661.94 353.89L662.67 353.79L663.39 353.70L664.12 353.60L664.84 353.50L665.56 353.41L666.29 353.32L667.01 353.22L667.74 353.13L668.46 353.04L669.18 352.95L669.91 352.86L670.63 352.78L671.36 352.69L672.08 352.61L672.80 352.52L673.53 352.44L674.25 352.35L674.98 352.27L675.70 352.19L676.42 352.11L677.15 352.03L677.87 351.96L678.60 351.88L679.32 351.80L680.04 351.73L680.77 351.65L681.49 351.58L682.22 351.50L682.94 351.43L683.66 351.36L684.39 351.29L685.11 351.22L685.84 351.15L686.56 351.08L687.29 351.01L688.01 350.95L688.73 350.88L689.46 350.81L690.18 350.75L690.91 350.68L691.63 350.62L692.35 350.56L693.08 350.49L693.80 350.43L694.53 350.37L695.25 350.31L695.97 350.25L696.70 350.19L697.42 350.13L698.15 350.08L698.87 350.02L699.59 349.96L700.32 349.91L701.04 349.85L701.77 349.80L702.49 349.74L703.21 349.69L703.94 349.64L704.66 349.59L705.39 349.54L706.11 349.49L706.83 349.44L707.56 349.39L708.28 349.34L709.01 349.29L709.73 349.24L710.45 349.20L711.18 349.15L711.90 349.11L712.63 349.06L713.35 349.02L714.07 348.98L714.80 348.93L715.52 348.89L716.25 348.85L716.97 348.81L717.69 348.77L718.42 348.73L719.14 348.69L719.87 348.65L720.59 348.62L721.31 348.58L722.04 348.54L722.76 348.51L723.49 348.47L724.21 348.44L724.93 348.40L725.66 348.37L726.38 348.34L727.11 348.31L727.83 348.27L728.55 348.24L729.28 348.21L730.00 348.18L730.73 348.15L731.45 348.12L732.17 348.09L732.90 348.07L733.62 348.04L734.35 348.01L735.07 347.98L735.79 347.96L736.52 347.93L737.24 347.90L737.97 347.88L738.69 347.85L739.41 347.83L740.14 347.80L740.86 347.78L741.59 347.75L742.31 347.73L743.03 347.71L743.76 347.68L744.48 347.66L745.21 347.63L745.93 347.61L746.65 347.59L747.38 347.57L748.10 347.54L748.83 347.52L749.55 347.50L750.27 347.48L751.00 347.45L751.72 347.43L752.45 347.41L753.17 347.39L753.50 347.38" stroke="#00ff00"/>
<path d="M424.40 552.00L425.08 551.82L425.77 551.64L426.46 551.47L427.16 551.33L427.86 551.21L428.58 551.10L429.30 550.99L430.03 550.89L430.75 550.80L431.48 550.71L432.20 550.63L432.92 550.56L433.65 550.49L434.37 550.43L435.10 550.37L435.82 550.32L436.54 550.28L437.27 550.23L437.99 550.19L438.72 550.15L439.44 550.11L440.16 550.08L440.89 550.05L441.61 550.02L442.34 550.00L443.06 549.98L443.78 549.96L444.51 549.95L445.23 549.93L445.96 549.92L446.68 549.91L447.40 549.90L448.13 549.89L448.85 549.88L449.58 549.87L450.30 549.87L451.06 549.86L451.78 549.86L452.51 549.85L453.23 549.85L453.95 549.85L454.68 549.85L455.40 549.85L456.13 549.86L456.85 549.86L457.57 549.87L458.30 549.87L459.02 549.87L459.75 549.87L460.47 549.87L461.19 549.87L461.92 549.87L462.64 549.87L463.37 549.87L464.09 549.87L464.81 549.87L465.54 549.82L466.26 549.76L466.99 549.69L467.71 549.61L468.43 549.52L469.16 549.42L469.88 549.30L470.61 549.17L471.33 549.03L472.05 548.87L472.78 548.70L473.50 548.51L474.23 548.30L474.95 548.07L475.67 547.82L476.40 547.55L477.06 547.29L477.71 547.01L478.37 546.71L479.03 546.40L479.69 546.06L480.35 545.70L481.01 545.33L481.66 544.93L482.32 544.51L482.91 544.11L483.51 543.69L484.10 543.26L484.69 542.80L485.28 542.33L485.88 541.84L486.47 541.33L486.99 540.85L487.52 540.37L488.05 539.86L488.57 539.34L489.10 538.80L489.63 538.25L490.15 537.68L490.68 537.09L491.21 536.49L491.67 535.95L492.13 535.40L492.59 534.83L493.05 534.25L493.51 533.67L493.97 533.07L494.43 532.46L494.89 531.83L495.35 531.20L495.81 530.56L496.28 529.91L496.74 529.25L497.20 528.57L497.66 527.89L498.05 527.30L498.45 526.71L498.84 526.10L499.24 525.49L499.63 524.88L500.03 524.26L500.42 523.63L500.82 523.00L501.21 522.37L501.61 521.72L502.00 521.08L502.40 520.43L502.79 519.77L503.19 519.11L503.58 518.45L503.98 517.79L504.37 517.12L504.77 516.44L505.16 515.77L505.56 515.09L505.95 514.40L506.35 513.72L506.74 513.03L507.14 512.34L507.53 511.64L507.93 510.94L508.32 510.24L508.72 509.54L509.11 508.83L509.51 508.13L509.90 507.42L510.30 506.70L510.69 505.99L511.08 505.27L511.48 504.55L511.87 503.83L512.27 503.11L512.66 502.39L513.06 501.66L513.45 500.93L513.85 500.20L514.24 499.47L514.64 498.74L515.03 498.01L515.43 497.28L515.82 496.54L516.22 495.81L516.61 495.07L517.01 494.33L517.40 493.60L517.80 492.86L518.19 492.12L518.59 491.39L518.98 490.65L519.38 489.91L519.77 489.17L520.17 488.44L520.56 487.70L520.96 486.96L521.35 486.23L521.75 485.49L522.14 484.76L522.54 484.02L522.93 483.29L523.33 482.56L523.72 481.83L524.12 481.10L524.51 480.37L524.91 479.65L525.30 478.92L525.70 478.20L526.09 477.48L526.49 476.76L526.88 476.04L527.28 475.33L527.67 474.61L528.07 473.90L528.46 473.19L528.86 472.48L529.25 471.78L529.65 471.08L530.04 470.38L530.44 469.68L530.83 468.99L531.23 468.29L531.62 467.60L532.02 466.92L532.41 466.24L532.81 465.56L533.20 464.88L533.60 464.20L533.99 463.53L534.39 462.87L534.78 462.20L535.18 461.54L535.57 460.89L535.96 460.23L536.36 459.59L536.75 458.94L537.15 458.30L537.54 457.66L537.94 457.03L538.33 456.40L538.73 455.78L539.12 455.16L539.52 454.54L539.91 453.93L540.31 453.32L540.70 452.72L541.10 452.13L541.49 451.53L541.89 450.95L542.35 450.27L542.81 449.60L543.27 448.93L543.73 448.27L544.19 447.62L544.65 446.97L545.11 446.34L545.57 445.70L546.04 445.08L546.50 444.46L546.96 443.84L547.42 443.23L547.88 442.63L548.34 442.04L548.80 441.45L549.26 440.86L549.72 440.28L550.18 439.71L550.64 439.14L551.10 438.58L551.56 438.03L552.02 437.48L552.49 436.93L552.95 436.39L553.47 435.78L554.00 435.18L554.53 434.58L555.05 433.99L555.58 433.41L556.11 432.83L556.63 432.26L557.16 431.69L557.69 431.13L558.21 430.58L558.74 430.03L559.27 429.48L559.79 428.95L560.32 428.41L560.84 427.88L561.37 427.36L561.90 426.84L562.42 426.33L562.95 425.82L563.48 425.31L564.00 424.81L564.53 424.31L565.06 423.82L565.58 423.33L566.11 422.84L566.64 422.36L567.16 421.88L567.69 421.41L568.28 420.88L568.87 420.35L569.47 419.83L570.06 419.31L570.65 418.80L571.24 418.29L571.84 417.78L572.43 417.28L573.02 416.78L573.61 416.29L574.21 415.80L574.80 415.31L575.39 414.83L575.98 414.35L576.58 413.87L577.17 413.40L577.76 412.93L578.35 412.46L578.95 412.00L579.54 411.54L580.13 411.09L580.72 410.64L581.31 410.19L581.91 409.75L582.50 409.30L583.09 408.86L583.68 408.43L584.28 407.99L584.87 407.56L585.46 407.13L586.05 406.71L586.65 406.28L587.24 405.86L587.83 405.44L588.42 405.02L589.02 404.60L589.61 404.18L590.20 403.76L590.79 403.35L591.39 402.94L591.98 402.52L592.57 402.11L593.16 401.70L593.75 401.30L594.35 400.89L594.94 400.48L595.53 400.08L596.12 399.68L596.72 399.28L597.31 398.88L597.90 398.49L598.49 398.09L599.09 397.70L599.68 397.31L600.27 396.92L600.93 396.50L601.59 396.07L602.25 395.65L602.90 395.23L603.56 394.81L604.22 394.39L604.88 393.98L605.54 393.57L606.19 393.17L606.85 392.77L607.51 392.37L608.17 391.97L608.83 391.58L609.49 391.19L610.14 390.81L610.80 390.43L611.46 390.05L612.12 389.68L612.78 389.31L613.44 388.94L614.09 388.58L614.75 388.22L615.41 387.87L616.07 387.52L616.73 387.18L617.38 386.84L618.04 386.50L618.70 386.17L619.36 385.85L620.02 385.53L620.68 385.21L621.33 384.90L621.99 384.60L622.65 384.30L623.31 384.00L623.97 383.71L624.62 383.43L625.28 383.15L625.94 382.87L626.60 382.60L627.26 382.33L627.92 382.07L628.57 381.81L629.30 381.53L630.02 381.25L630.75 380.98L631.47 380.71L632.19 380.44L632.92 380.18L633.64 379.93L634.37 379.67L635.09 379.42L635.81 379.18L636.54 378.93L637.26 378.69L637.99 378.45L638.71 378.22L639.43 377.99L640.16 377.76L640.88 377.53L641.61 377.31L642.33 377.08L643.05 376.86L643.78 376.64L644.50 376.43L645.23 376.21L645.95 376.00L646.67 375.79L647.40 375.58L648.12 375.38L648.85 375.17L649.57 374.97L650.29 374.77L651.02 374.57L651.74 374.38L652.47 374.18L653.19 373.99L653.91 373.80L654.64 373.60L655.36 373.42L656.09 373.23L656.81 373.04L657.53 372.86L658.26 372.68L658.98 372.50L659.71 372.32L660.43 372.14L661.15 371.96L661.88 371.79L662.60 371.61L663.33 371.44L664.05 371.27L664.77 371.10L665.50 370.93L666.22 370.76L666.95 370.60L667.67 370.43L668.39 370.27L669.12 370.10L669.84 369.94L670.57 369.78L671.29 369.62L672.01 369.46L672.74 369.30L673.46 369.15L674.19 368.99L674.91 368.84L675.63 368.68L676.36 368.53L677.08 368.38L677.81 368.22L678.53 368.07L679.26 367.92L679.98 367.77L680.70 367.63L681.43 367.48L682.15 367.33L682.88 367.18L683.60 367.04L684.32 366.89L685.05 366.75L685.77 366.61L686.50 366.46L687.22 366.32L687.94 366.18L688.67 366.04L689.39 365.90L690.12 365.76L690.84 365.62L691.56 365.48L692.29 365.34L693.01 365.20L693.74 365.07L694.46 364.93L695.18 364.80L695.91 364.66L696.63 364.53L697.36 364.39L698.08 364.26L698.80 364.13L699.53 364.00L700.25 363.87L700.98 363.74L701.70 363.61L702.42 363.48L703.15 363.36L703.87 363.23L704.60 363.11L705.32 362.98L706.04 362.86L706.77 362.74L707.49 362.62L708.22 362.50L708.94 362.38L709.66 362.26L710.39 362.14L711.11 362.03L711.84 361.91L712.56 361.80L713.28 361.69L714.01 361.58L714.73 361.47L715.46 361.36L716.18 361.25L716.90 361.14L717.63 361.04L718.35 360.93L719.08 360.83L719.80 360.73L720.52 360.63L721.25 360.53L721.97 360.43L722.70 360.34L723.42 360.24L724.14 360.15L724.87 360.05L725.59 359.96L726.32 359.87L727.04 359.78L727.76 359.69L728.49 359.61L729.21 359.52L729.94 359.44L730.66 359.35L731.38 359.27L732.11 359.19L732.83 359.10L733.56 359.02L734.28 358.94L735.00 358.86L735.73 358.79L736.45 358.71L737.18 358.63L737.90 358.56L738.62 358.48L739.35 358.40L740.07 358.33L740.80 358.26L741.52 358.18L742.24 358.11L742.97 358.04L743.69 357.97L744.42 357.89L745.14 357.82L745.86 357.75L746.59 357.68L747.31 357.61L748.04 357.54L748.76 357.47L749.48 357.40L750.21 357.34L750.93 357.27L751.66 357.20L752.38 357.13L753.11 357.06L753.50 357.02" stroke="#000000"/>
</g>
<g font-size="6.5" fill="#1a1a1a" stroke="#1a1a1a" stroke-width="0.18"><text x="424.25" y="561.50" text-anchor="middle" letter-spacing="-0.35">0</text><text x="457.16" y="561.50" text-anchor="middle" letter-spacing="-0.35">50</text><text x="490.07" y="561.50" text-anchor="middle" letter-spacing="-0.35">100</text><text x="522.98" y="561.50" text-anchor="middle" letter-spacing="-0.35">150</text><text x="555.89" y="561.50" text-anchor="middle" letter-spacing="-0.35">200</text><text x="588.80" y="561.50" text-anchor="middle" letter-spacing="-0.35">250</text><text x="621.71" y="561.50" text-anchor="middle" letter-spacing="-0.35">300</text><text x="654.62" y="561.50" text-anchor="middle" letter-spacing="-0.35">350</text><text x="687.53" y="561.50" text-anchor="middle" letter-spacing="-0.35">400</text><text x="720.44" y="561.50" text-anchor="middle" letter-spacing="-0.35">450</text><text x="753.35" y="561.50" text-anchor="middle" letter-spacing="-0.35">500</text><text x="421.40" y="555.00" text-anchor="end" letter-spacing="-0.45">0</text><text x="421.40" y="529.40" text-anchor="end" letter-spacing="-0.45">0.5</text><text x="421.40" y="503.80" text-anchor="end" letter-spacing="-0.45">1</text><text x="421.40" y="478.20" text-anchor="end" letter-spacing="-0.45">1.5</text><text x="421.40" y="452.60" text-anchor="end" letter-spacing="-0.45">2</text><text x="421.40" y="427.00" text-anchor="end" letter-spacing="-0.45">2.5</text><text x="421.40" y="401.40" text-anchor="end" letter-spacing="-0.45">3</text><text x="421.40" y="375.80" text-anchor="end" letter-spacing="-0.45">3.5</text><text x="421.40" y="350.20" text-anchor="end" letter-spacing="-0.45">4</text><text x="421.40" y="324.60" text-anchor="end" letter-spacing="-0.45">4.5</text></g>
<g fill="#1a1a1a" stroke="#1a1a1a" stroke-width="0.12"><text x="425.90" y="320.90" font-size="7" text-anchor="middle">&#215;</text><text x="429.10" y="320.00" font-size="5.8">10</text><text x="436.10" y="317.20" font-size="4.3">4</text></g>
<text x="588.95" y="576.40" font-size="12.1" text-anchor="middle" fill="#000" stroke="#000" stroke-width="0.25">Time in Days</text>
<text transform="translate(404.20 444.00) rotate(-90)" font-size="12.4" fill="#000" stroke="#000" stroke-width="0.25">C<tspan font-size="8.6" dx="0.0" dy="5.6">h</tspan></text>
<text x="588.95" y="600.30" font-family="Liberation Serif, serif" font-size="17.5" text-anchor="middle" fill="#000">(d)</text>
<rect x="679.30" y="475.20" width="59.40" height="62.10" fill="#fff" stroke="#262626" stroke-width="1"/>
<path d="M682.20 483.90H701.10" stroke="#0000ff" stroke-width="1.5"/>
<text x="703.40" y="489.30" font-size="11" font-family="Liberation Serif, serif" font-style="italic" fill="#000" stroke="#000" stroke-width="0.2">&#977;</text>
<text x="709.00" y="489.30" font-size="10.6" fill="#000" stroke="#000" stroke-width="0.2">=1</text>
<path d="M682.20 498.80H701.10" stroke="#ff0000" stroke-width="1.5"/>
<text x="703.40" y="504.20" font-size="11" font-family="Liberation Serif, serif" font-style="italic" fill="#000" stroke="#000" stroke-width="0.2">&#977;</text>
<text x="709.00" y="504.20" font-size="10.6" fill="#000" stroke="#000" stroke-width="0.2">=0.95</text>
<path d="M682.20 513.80H701.10" stroke="#00ff00" stroke-width="1.5"/>
<text x="703.40" y="519.20" font-size="11" font-family="Liberation Serif, serif" font-style="italic" fill="#000" stroke="#000" stroke-width="0.2">&#977;</text>
<text x="709.00" y="519.20" font-size="10.6" fill="#000" stroke="#000" stroke-width="0.2">=0.90</text>
<path d="M682.20 529.00H701.10" stroke="#000000" stroke-width="1.5"/>
<text x="703.40" y="534.40" font-size="11" font-family="Liberation Serif, serif" font-style="italic" fill="#000" stroke="#000" stroke-width="0.2">&#977;</text>
<text x="709.00" y="534.40" font-size="10.6" fill="#000" stroke="#000" stroke-width="0.2">=0.85</text>
<path d="M263.48 634.80V865.50M296.36 634.80V865.50M329.24 634.80V865.50M362.12 634.80V865.50M395.00 634.80V865.50M427.88 634.80V865.50M460.76 634.80V865.50M493.64 634.80V865.50M526.52 634.80V865.50M230.60 842.43H559.40M230.60 819.36H559.40M230.60 796.29H559.40M230.60 773.22H559.40M230.60 750.15H559.40M230.60 727.08H559.40M230.60 704.01H559.40M230.60 680.94H559.40M230.60 657.87H559.40" stroke="#e4e4e4" stroke-width="1" fill="none"/>
<path d="M230.60 865.50v-3.30M230.60 634.80v3.30M263.48 865.50v-3.30M263.48 634.80v3.30M296.36 865.50v-3.30M296.36 634.80v3.30M329.24 865.50v-3.30M329.24 634.80v3.30M362.12 865.50v-3.30M362.12 634.80v3.30M395.00 865.50v-3.30M395.00 634.80v3.30M427.88 865.50v-3.30M427.88 634.80v3.30M460.76 865.50v-3.30M460.76 634.80v3.30M493.64 865.50v-3.30M493.64 634.80v3.30M526.52 865.50v-3.30M526.52 634.80v3.30M559.40 865.50v-3.30M559.40 634.80v3.30M230.60 865.50h3.30M559.40 865.50h-3.30M230.60 842.43h3.30M559.40 842.43h-3.30M230.60 819.36h3.30M559.40 819.36h-3.30M230.60 796.29h3.30M559.40 796.29h-3.30M230.60 773.22h3.30M559.40 773.22h-3.30M230.60 750.15h3.30M559.40 750.15h-3.30M230.60 727.08h3.30M559.40 727.08h-3.30M230.60 704.01h3.30M559.40 704.01h-3.30M230.60 680.94h3.30M559.40 680.94h-3.30M230.60 657.87h3.30M559.40 657.87h-3.30M230.60 634.80h3.30M559.40 634.80h-3.30" stroke="#262626" stroke-width="0.8" fill="none"/>
<rect x="230.60" y="634.80" width="328.80" height="230.70" fill="none" stroke="#262626" stroke-width="1"/>
<clipPath id="ce"><rect x="229.80" y="634.00" width="330.40" height="232.30"/></clipPath>
<g clip-path="url(#ce)" fill="none" stroke-width="1.5" stroke-linejoin="round" stroke-linecap="round">
<path d="M230.83 750.15L230.84 749.40L230.85 748.65L230.85 747.90L230.86 747.15L230.87 746.40L230.88 745.65L230.88 744.90L230.89 744.15L230.90 743.40L230.91 742.65L230.92 741.90L230.92 741.15L230.93 740.40L230.94 739.65L230.95 738.90L230.96 738.15L230.96 737.40L230.97 736.65L230.98 735.90L230.99 735.15L231.00 734.40L231.01 733.65L231.02 732.90L231.03 732.15L231.04 731.40L231.05 730.64L231.06 729.89L231.07 729.14L231.08 728.39L231.09 727.64L231.10 726.89L231.12 726.14L231.13 725.39L231.14 724.64L231.15 723.89L231.16 723.14L231.18 722.39L231.19 721.64L231.20 720.89L231.22 720.14L231.23 719.39L231.24 718.64L231.26 717.89L231.27 717.14L231.28 716.39L231.30 715.64L231.31 714.89L231.33 714.14L231.34 713.39L231.36 712.64L231.38 711.89L231.39 711.14L231.41 710.39L231.43 709.64L231.45 708.89L231.47 708.14L231.49 707.39L231.51 706.64L231.53 705.89L231.56 705.14L231.58 704.39L231.61 703.64L231.64 702.89L231.68 702.14L231.71 701.39L231.75 700.64L231.79 699.90L231.83 699.15L231.88 698.40L231.92 697.65L231.98 696.90L232.03 696.15L232.09 695.40L232.15 694.66L232.21 693.91L232.28 693.16L232.36 692.42L232.44 691.67L232.53 690.93L232.62 690.18L232.72 689.44L232.83 688.69L232.93 687.95L233.03 687.21L233.12 686.46L233.21 685.72L233.29 684.97L233.36 684.23L233.43 683.48L233.49 682.73L233.55 681.98L233.60 681.23L233.64 680.49L233.68 679.74L233.71 678.99L233.74 678.24L233.77 677.49L233.80 676.74L233.82 675.99L233.85 675.24L233.87 674.49L233.90 673.74L233.92 672.99L233.96 672.24L233.99 671.49L234.03 670.74L234.07 669.99L234.12 669.24L234.17 668.49L234.22 667.75L234.28 667.00L234.33 666.25L234.40 665.50L234.46 664.75L234.53 664.01L234.61 663.26L234.70 662.52L234.81 661.78L234.93 661.04L235.08 660.30L235.25 659.57L235.44 658.85L235.67 658.14L235.93 657.44L236.25 656.77L236.62 656.12L237.04 655.51L237.52 654.97L238.08 654.52L238.71 654.17L239.39 653.93L240.11 653.75L240.85 653.62L241.59 653.52L242.33 653.46L243.08 653.41L243.83 653.39L244.58 653.38L245.33 653.37L246.08 653.37L246.83 653.37L247.58 653.37L248.33 653.37L249.08 653.37L249.83 653.37L250.58 653.37L251.33 653.37L252.08 653.37L252.83 653.37L253.58 653.37L254.33 653.37L255.08 653.37L255.83 653.37L256.59 653.37L257.34 653.37L258.09 653.37L258.84 653.37L259.59 653.37L260.34 653.37L261.09 653.37L261.84 653.37L262.59 653.37L263.34 653.37L264.09 653.37L264.84 653.37L265.59 653.37L266.34 653.37L267.09 653.38L267.84 653.38L268.59 653.38L269.34 653.38L270.09 653.39L270.84 653.39L271.59 653.39L272.34 653.40L273.09 653.40L273.84 653.41L274.59 653.41L275.34 653.42L276.09 653.42L276.84 653.43L277.59 653.43L278.34 653.44L279.09 653.45L279.84 653.45L280.59 653.46L281.34 653.47L282.09 653.47L282.84 653.48L283.59 653.49L284.34 653.50L285.09 653.50L285.84 653.51L286.59 653.52L287.34 653.53L288.09 653.53L288.85 653.54L289.60 653.55L290.35 653.56L291.10 653.57L291.85 653.58L292.60 653.58L293.35 653.59L294.10 653.60L294.85 653.61L295.60 653.62L296.35 653.63L297.10 653.63L297.85 653.64L298.60 653.65L299.35 653.66L300.10 653.67L300.85 653.68L301.60 653.68L302.35 653.69L303.10 653.70L303.85 653.71L304.60 653.71L305.35 653.72L306.10 653.73L306.85 653.74L307.60 653.74L308.35 653.75L309.10 653.76L309.85 653.77L310.60 653.77L311.35 653.78L312.10 653.79L312.85 653.80L313.60 653.81L314.35 653.81L315.10 653.82L315.85 653.83L316.60 653.84L317.35 653.85L318.10 653.85L318.85 653.86L319.60 653.87L320.35 653.88L321.10 653.89L321.85 653.90L322.60 653.90L323.35 653.91L324.10 653.92L324.85 653.93L325.60 653.94L326.36 653.95L327.11 653.96L327.86 653.96L328.61 653.97L329.36 653.98L330.11 653.99L330.86 654.00L331.61 654.01L332.36 654.02L333.11 654.03L333.86 654.04L334.61 654.04L335.36 654.05L336.11 654.06L336.86 654.07L337.61 654.08L338.36 654.09L339.11 654.10L339.86 654.11L340.61 654.12L341.36 654.13L342.11 654.14L342.86 654.15L343.61 654.16L344.36 654.17L345.11 654.18L345.86 654.19L346.61 654.20L347.36 654.21L348.11 654.22L348.86 654.23L349.61 654.24L350.36 654.25L351.11 654.26L351.86 654.27L352.61 654.28L353.36 654.29L354.11 654.30L354.86 654.31L355.61 654.32L356.36 654.33L357.11 654.34L357.86 654.35L358.61 654.36L359.36 654.37L360.11 654.38L360.86 654.39L361.61 654.40L362.36 654.41L363.11 654.42L363.86 654.43L364.61 654.45L365.36 654.46L366.11 654.47L366.86 654.48L367.62 654.49L368.37 654.50L369.12 654.51L369.87 654.53L370.62 654.54L371.37 654.55L372.12 654.56L372.87 654.57L373.62 654.59L374.37 654.60L375.12 654.61L375.87 654.62L376.62 654.63L377.37 654.65L378.12 654.66L378.87 654.67L379.62 654.69L380.37 654.70L381.12 654.71L381.87 654.72L382.62 654.74L383.37 654.75L384.12 654.76L384.87 654.78L385.62 654.79L386.37 654.80L387.12 654.82L387.87 654.83L388.62 654.84L389.37 654.86L390.12 654.87L390.87 654.88L391.62 654.90L392.37 654.91L393.12 654.92L393.87 654.94L394.62 654.95L395.37 654.97L396.12 654.98L396.87 654.99L397.62 655.01L398.37 655.02L399.12 655.04L399.87 655.05L400.62 655.06L401.37 655.08L402.12 655.09L402.87 655.10L403.62 655.12L404.37 655.13L405.12 655.15L405.87 655.16L406.62 655.17L407.37 655.19L408.12 655.20L408.87 655.22L409.62 655.23L410.37 655.24L411.12 655.26L411.87 655.27L412.62 655.29L413.37 655.30L414.12 655.31L414.87 655.33L415.62 655.34L416.37 655.36L417.12 655.37L417.87 655.38L418.62 655.40L419.37 655.41L420.12 655.42L420.87 655.44L421.62 655.45L422.37 655.46L423.12 655.48L423.87 655.49L424.62 655.51L425.37 655.52L426.12 655.53L426.88 655.55L427.63 655.56L428.38 655.57L429.13 655.58L429.88 655.60L430.63 655.61L431.38 655.62L432.13 655.64L432.88 655.65L433.63 655.66L434.38 655.68L435.13 655.69L435.88 655.70L436.63 655.72L437.38 655.73L438.13 655.74L438.88 655.76L439.63 655.77L440.38 655.78L441.13 655.80L441.88 655.81L442.63 655.82L443.38 655.84L444.13 655.85L444.88 655.86L445.63 655.88L446.38 655.89L447.13 655.90L447.88 655.92L448.63 655.93L449.38 655.94L450.13 655.96L450.88 655.97L451.63 655.98L452.38 656.00L453.13 656.01L453.88 656.02L454.63 656.04L455.38 656.05L456.13 656.06L456.88 656.08L457.63 656.09L458.38 656.11L459.13 656.12L459.88 656.13L460.63 656.15L461.38 656.16L462.13 656.17L462.88 656.18L463.63 656.20L464.38 656.21L465.13 656.22L465.88 656.24L466.63 656.25L467.38 656.26L468.13 656.28L468.88 656.29L469.63 656.30L470.38 656.32L471.13 656.33L471.88 656.34L472.63 656.36L473.38 656.37L474.13 656.38L474.88 656.40L475.63 656.41L476.38 656.42L477.13 656.44L477.88 656.45L478.63 656.46L479.38 656.47L480.13 656.49L480.88 656.50L481.63 656.51L482.38 656.53L483.13 656.54L483.88 656.55L484.64 656.56L485.39 656.58L486.14 656.59L486.89 656.60L487.64 656.62L488.39 656.63L489.14 656.64L489.89 656.65L490.64 656.67L491.39 656.68L492.14 656.69L492.89 656.70L493.64 656.72L494.39 656.73L495.14 656.74L495.89 656.75L496.64 656.77L497.39 656.78L498.14 656.79L498.89 656.80L499.64 656.82L500.39 656.83L501.14 656.84L501.89 656.85L502.64 656.87L503.39 656.88L504.14 656.89L504.89 656.90L505.64 656.91L506.39 656.93L507.14 656.94L507.89 656.95L508.64 656.96L509.39 656.98L510.14 656.99L510.89 657.00L511.64 657.01L512.39 657.02L513.14 657.04L513.89 657.05L514.64 657.06L515.39 657.07L516.14 657.08L516.89 657.10L517.64 657.11L518.39 657.12L519.14 657.13L519.89 657.14L520.64 657.16L521.39 657.17L522.14 657.18L522.89 657.19L523.64 657.20L524.39 657.22L525.14 657.23L525.89 657.24L526.64 657.25L527.39 657.26L528.14 657.28L528.89 657.29L529.64 657.30L530.39 657.31L531.14 657.32L531.89 657.33L532.64 657.35L533.39 657.36L534.14 657.37L534.89 657.38L535.64 657.39L536.40 657.40L537.15 657.42L537.90 657.43L538.65 657.44L539.40 657.45L540.15 657.46L540.90 657.47L541.65 657.49L542.40 657.50L543.15 657.51L543.90 657.52L544.65 657.53L545.40 657.54L546.15 657.55L546.90 657.57L547.65 657.58L548.40 657.59L549.15 657.60L549.90 657.61L550.65 657.62L551.40 657.63L552.15 657.65L552.90 657.66L553.65 657.67L554.40 657.68L555.15 657.69L555.90 657.70L556.65 657.71L557.40 657.72L558.15 657.74L558.90 657.75L559.40 657.75" stroke="#0000ff"/>
<path d="M230.86 750.15L230.88 749.40L230.89 748.65L230.91 747.90L230.92 747.15L230.94 746.40L230.96 745.65L230.97 744.90L230.99 744.15L231.00 743.40L231.02 742.65L231.04 741.90L231.05 741.15L231.07 740.40L231.09 739.65L231.10 738.90L231.12 738.15L231.14 737.40L231.15 736.65L231.17 735.90L231.19 735.15L231.21 734.40L231.22 733.65L231.24 732.90L231.26 732.15L231.28 731.40L231.30 730.65L231.32 729.90L231.33 729.15L231.35 728.40L231.37 727.65L231.39 726.90L231.41 726.15L231.43 725.40L231.45 724.66L231.48 723.91L231.50 723.16L231.52 722.41L231.54 721.66L231.56 720.91L231.58 720.16L231.60 719.41L231.62 718.66L231.64 717.91L231.66 717.16L231.68 716.41L231.71 715.66L231.73 714.91L231.75 714.16L231.77 713.41L231.80 712.66L231.82 711.91L231.85 711.16L231.87 710.41L231.90 709.66L231.92 708.91L231.95 708.16L231.98 707.41L232.01 706.66L232.04 705.91L232.07 705.16L232.11 704.41L232.14 703.67L232.18 702.92L232.22 702.17L232.27 701.42L232.31 700.67L232.36 699.92L232.41 699.17L232.46 698.42L232.51 697.68L232.56 696.93L232.62 696.18L232.67 695.43L232.73 694.68L232.79 693.94L232.84 693.19L232.90 692.44L232.96 691.69L233.02 690.94L233.08 690.20L233.14 689.45L233.20 688.70L233.27 687.95L233.33 687.21L233.39 686.46L233.46 685.71L233.53 684.97L233.59 684.22L233.66 683.47L233.73 682.72L233.79 681.98L233.86 681.23L233.93 680.48L233.99 679.74L234.06 678.99L234.13 678.24L234.19 677.49L234.26 676.75L234.33 676.00L234.39 675.25L234.47 674.51L234.54 673.76L234.62 673.01L234.70 672.27L234.79 671.52L234.89 670.78L234.99 670.04L235.10 669.30L235.21 668.55L235.32 667.81L235.44 667.07L235.57 666.33L235.70 665.59L235.84 664.86L235.99 664.12L236.16 663.39L236.35 662.67L236.57 661.96L236.84 661.26L237.15 660.58L237.50 659.93L237.90 659.29L238.33 658.69L238.81 658.12L239.33 657.60L239.91 657.14L240.53 656.74L241.19 656.39L241.87 656.08L242.57 655.80L243.27 655.55L243.99 655.33L244.71 655.13L245.44 654.97L246.18 654.84L246.92 654.74L247.66 654.66L248.41 654.60L249.16 654.56L249.91 654.52L250.66 654.48L251.41 654.45L252.15 654.41L252.90 654.38L253.65 654.35L254.40 654.32L255.15 654.30L255.90 654.27L256.65 654.25L257.40 654.23L258.15 654.21L258.90 654.19L259.65 654.17L260.40 654.16L261.15 654.14L261.90 654.13L262.65 654.12L263.40 654.11L264.15 654.10L264.90 654.09L265.65 654.08L266.40 654.08L267.15 654.07L267.90 654.06L268.65 654.06L269.40 654.06L270.15 654.05L270.90 654.05L271.65 654.04L272.40 654.04L273.15 654.03L273.90 654.03L274.65 654.03L275.40 654.02L276.15 654.02L276.90 654.02L277.65 654.01L278.40 654.01L279.15 654.01L279.90 654.00L280.65 654.00L281.40 654.00L282.15 653.99L282.90 653.99L283.65 653.99L284.40 653.98L285.15 653.98L285.90 653.98L286.65 653.98L287.40 653.97L288.15 653.97L288.90 653.97L289.65 653.97L290.40 653.97L291.15 653.96L291.90 653.96L292.65 653.96L293.40 653.96L294.15 653.96L294.90 653.96L295.65 653.96L296.40 653.95L297.15 653.95L297.90 653.95L298.65 653.95L299.40 653.95L300.15 653.95L300.90 653.95L301.65 653.95L302.40 653.95L303.15 653.95L303.90 653.95L304.65 653.95L305.40 653.95L306.15 653.95L306.90 653.95L307.65 653.95L308.40 653.95L309.15 653.95L309.90 653.95L310.65 653.96L311.40 653.96L312.15 653.96L312.90 653.96L313.65 653.97L314.40 653.97L315.15 653.97L315.90 653.97L316.65 653.98L317.40 653.98L318.15 653.99L318.90 653.99L319.65 653.99L320.40 654.00L321.15 654.00L321.90 654.01L322.65 654.01L323.40 654.02L324.15 654.02L324.90 654.03L325.65 654.03L326.40 654.04L327.15 654.05L327.90 654.05L328.65 654.06L329.40 654.06L330.15 654.07L330.90 654.08L331.65 654.08L332.40 654.09L333.16 654.10L333.91 654.10L334.66 654.11L335.41 654.12L336.16 654.13L336.91 654.13L337.66 654.14L338.41 654.15L339.16 654.16L339.91 654.16L340.66 654.17L341.41 654.18L342.16 654.19L342.91 654.20L343.66 654.20L344.41 654.21L345.16 654.22L345.91 654.23L346.66 654.24L347.41 654.24L348.16 654.25L348.91 654.26L349.66 654.27L350.41 654.28L351.16 654.29L351.91 654.30L352.66 654.30L353.41 654.31L354.16 654.32L354.91 654.33L355.66 654.34L356.41 654.35L357.16 654.35L357.91 654.36L358.66 654.37L359.41 654.38L360.16 654.39L360.91 654.40L361.66 654.40L362.41 654.41L363.16 654.42L363.91 654.43L364.66 654.44L365.41 654.45L366.16 654.46L366.91 654.47L367.66 654.48L368.41 654.49L369.16 654.50L369.91 654.51L370.66 654.52L371.41 654.53L372.16 654.54L372.91 654.55L373.66 654.57L374.41 654.58L375.16 654.59L375.91 654.60L376.66 654.61L377.41 654.63L378.16 654.64L378.90 654.65L379.65 654.67L380.40 654.68L381.15 654.69L381.90 654.71L382.65 654.72L383.40 654.73L384.15 654.75L384.90 654.76L385.65 654.78L386.40 654.79L387.15 654.80L387.90 654.82L388.65 654.83L389.40 654.85L390.15 654.86L390.90 654.88L391.65 654.89L392.40 654.91L393.15 654.92L393.90 654.94L394.65 654.95L395.40 654.97L396.15 654.98L396.90 655.00L397.65 655.01L398.40 655.03L399.15 655.04L399.90 655.06L400.65 655.07L401.40 655.09L402.15 655.10L402.90 655.12L403.65 655.13L404.40 655.15L405.15 655.16L405.90 655.18L406.65 655.19L407.40 655.20L408.15 655.22L408.90 655.23L409.65 655.25L410.40 655.26L411.15 655.28L411.90 655.29L412.65 655.31L413.40 655.32L414.15 655.33L414.90 655.35L415.65 655.36L416.40 655.37L417.15 655.39L417.90 655.40L418.65 655.41L419.40 655.43L420.15 655.44L420.90 655.45L421.65 655.47L422.40 655.48L423.15 655.49L423.90 655.50L424.65 655.51L425.40 655.53L426.15 655.54L426.90 655.55L427.65 655.56L428.40 655.57L429.15 655.58L429.90 655.59L430.65 655.60L431.40 655.61L432.15 655.62L432.90 655.63L433.65 655.64L434.40 655.65L435.15 655.66L435.90 655.67L436.65 655.68L437.40 655.69L438.15 655.70L438.90 655.71L439.65 655.72L440.40 655.73L441.15 655.74L441.90 655.75L442.65 655.76L443.40 655.77L444.15 655.78L444.90 655.79L445.65 655.80L446.40 655.81L447.15 655.82L447.90 655.83L448.65 655.84L449.40 655.85L450.15 655.86L450.90 655.87L451.65 655.88L452.40 655.88L453.15 655.89L453.90 655.90L454.65 655.91L455.40 655.92L456.15 655.93L456.90 655.94L457.65 655.95L458.40 655.96L459.15 655.97L459.90 655.97L460.65 655.98L461.40 655.99L462.15 656.00L462.90 656.01L463.65 656.02L464.40 656.03L465.15 656.04L465.90 656.04L466.65 656.05L467.40 656.06L468.15 656.07L468.90 656.08L469.65 656.09L470.40 656.10L471.15 656.11L471.90 656.11L472.65 656.12L473.40 656.13L474.15 656.14L474.90 656.15L475.65 656.16L476.40 656.17L477.15 656.17L477.90 656.18L478.65 656.19L479.40 656.20L480.15 656.21L480.90 656.22L481.65 656.23L482.40 656.24L483.15 656.24L483.90 656.25L484.65 656.26L485.40 656.27L486.15 656.28L486.90 656.29L487.65 656.30L488.40 656.31L489.15 656.32L489.90 656.33L490.65 656.33L491.40 656.34L492.15 656.35L492.90 656.36L493.65 656.37L494.40 656.38L495.15 656.39L495.90 656.40L496.65 656.41L497.40 656.42L498.15 656.43L498.90 656.44L499.65 656.44L500.40 656.45L501.15 656.46L501.90 656.47L502.65 656.48L503.40 656.49L504.15 656.50L504.90 656.51L505.65 656.52L506.40 656.53L507.15 656.54L507.90 656.55L508.65 656.55L509.40 656.56L510.15 656.57L510.90 656.58L511.65 656.59L512.40 656.60L513.15 656.61L513.90 656.62L514.65 656.63L515.40 656.64L516.15 656.65L516.90 656.66L517.65 656.67L518.40 656.67L519.15 656.68L519.90 656.69L520.65 656.70L521.40 656.71L522.15 656.72L522.90 656.73L523.65 656.74L524.40 656.75L525.15 656.76L525.90 656.77L526.65 656.78L527.40 656.78L528.15 656.79L528.90 656.80L529.65 656.81L530.40 656.82L531.15 656.83L531.90 656.84L532.65 656.85L533.40 656.86L534.15 656.87L534.90 656.88L535.65 656.89L536.40 656.90L537.15 656.90L537.90 656.91L538.65 656.92L539.40 656.93L540.15 656.94L540.90 656.95L541.65 656.96L542.40 656.97L543.15 656.98L543.90 656.99L544.65 657.00L545.40 657.01L546.15 657.02L546.90 657.02L547.65 657.03L548.40 657.04L549.15 657.05L549.90 657.06L550.65 657.07L551.40 657.08L552.15 657.09L552.90 657.10L553.65 657.11L554.40 657.12L555.15 657.13L555.90 657.13L556.65 657.14L557.40 657.15L558.15 657.16L558.90 657.17L559.40 657.18" stroke="#ff0000"/>
<path d="M230.90 750.15L230.93 749.40L230.96 748.65L230.99 747.90L231.02 747.15L231.05 746.40L231.08 745.65L231.11 744.90L231.14 744.15L231.17 743.40L231.20 742.65L231.23 741.90L231.25 741.15L231.28 740.40L231.31 739.65L231.34 738.90L231.37 738.16L231.40 737.41L231.43 736.66L231.46 735.91L231.48 735.16L231.51 734.41L231.54 733.66L231.57 732.91L231.60 732.16L231.62 731.41L231.65 730.66L231.68 729.91L231.71 729.16L231.73 728.41L231.76 727.66L231.79 726.91L231.82 726.16L231.84 725.41L231.87 724.66L231.89 723.91L231.92 723.16L231.94 722.41L231.96 721.66L231.99 720.91L232.01 720.16L232.04 719.41L232.06 718.66L232.08 717.91L232.11 717.16L232.13 716.41L232.15 715.66L232.18 714.91L232.20 714.16L232.22 713.41L232.25 712.66L232.27 711.91L232.30 711.16L232.32 710.41L232.35 709.66L232.38 708.91L232.40 708.16L232.43 707.41L232.46 706.66L232.50 705.91L232.53 705.16L232.57 704.41L232.61 703.67L232.65 702.92L232.70 702.17L232.74 701.42L232.79 700.67L232.85 699.92L232.90 699.17L232.96 698.43L233.02 697.68L233.08 696.93L233.14 696.18L233.20 695.43L233.26 694.69L233.32 693.94L233.38 693.19L233.44 692.44L233.50 691.70L233.57 690.95L233.63 690.20L233.70 689.45L233.76 688.71L233.83 687.96L233.90 687.21L233.97 686.46L234.04 685.72L234.10 684.97L234.17 684.22L234.24 683.48L234.31 682.73L234.38 681.98L234.45 681.23L234.52 680.49L234.58 679.74L234.65 678.99L234.71 678.24L234.77 677.50L234.84 676.75L234.90 676.00L234.96 675.25L235.03 674.51L235.10 673.76L235.18 673.01L235.27 672.27L235.38 671.53L235.51 670.79L235.68 670.06L235.88 669.34L236.12 668.63L236.38 667.93L236.68 667.24L236.99 666.56L237.32 665.89L237.65 665.22L237.99 664.54L238.33 663.88L238.69 663.22L239.06 662.57L239.46 661.93L239.88 661.32L240.34 660.74L240.85 660.20L241.41 659.70L242.00 659.25L242.61 658.82L243.25 658.43L243.90 658.07L244.58 657.74L245.26 657.45L245.97 657.19L246.68 656.98L247.41 656.80L248.14 656.66L248.88 656.53L249.62 656.42L250.37 656.31L251.11 656.21L251.85 656.11L252.60 656.02L253.34 655.93L254.09 655.85L254.83 655.77L255.58 655.70L256.33 655.63L257.07 655.56L257.82 655.50L258.57 655.44L259.32 655.39L260.07 655.33L260.82 655.29L261.56 655.24L262.31 655.20L263.06 655.16L263.81 655.13L264.56 655.10L265.31 655.07L266.06 655.04L266.81 655.02L267.56 655.00L268.31 654.98L269.06 654.96L269.81 654.95L270.56 654.93L271.31 654.91L272.06 654.90L272.81 654.88L273.56 654.86L274.31 654.85L275.06 654.83L275.81 654.82L276.56 654.81L277.31 654.79L278.06 654.78L278.81 654.76L279.56 654.75L280.31 654.74L281.06 654.73L281.81 654.71L282.56 654.70L283.31 654.69L284.06 654.68L284.81 654.67L285.56 654.66L286.32 654.65L287.07 654.64L287.82 654.63L288.57 654.62L289.32 654.61L290.07 654.61L290.82 654.60L291.57 654.59L292.32 654.58L293.07 654.58L293.82 654.57L294.57 654.56L295.32 654.56L296.07 654.55L296.82 654.55L297.57 654.55L298.32 654.54L299.07 654.54L299.82 654.54L300.57 654.53L301.32 654.53L302.07 654.53L302.82 654.53L303.57 654.53L304.32 654.53L305.07 654.53L305.82 654.52L306.57 654.52L307.32 654.52L308.07 654.52L308.82 654.52L309.57 654.52L310.32 654.52L311.07 654.52L311.82 654.52L312.57 654.52L313.32 654.52L314.07 654.52L314.82 654.52L315.58 654.52L316.33 654.52L317.08 654.52L317.83 654.52L318.58 654.52L319.33 654.52L320.08 654.52L320.83 654.52L321.58 654.52L322.33 654.52L323.08 654.52L323.83 654.52L324.58 654.52L325.33 654.52L326.08 654.52L326.83 654.52L327.58 654.52L328.33 654.52L329.08 654.52L329.83 654.52L330.58 654.52L331.33 654.52L332.08 654.52L332.83 654.52L333.58 654.52L334.33 654.52L335.08 654.52L335.83 654.52L336.58 654.52L337.33 654.52L338.08 654.52L338.83 654.52L339.58 654.52L340.33 654.52L341.08 654.52L341.83 654.52L342.58 654.52L343.34 654.52L344.09 654.52L344.84 654.52L345.59 654.52L346.34 654.52L347.09 654.52L347.84 654.52L348.59 654.52L349.34 654.52L350.09 654.52L350.84 654.52L351.59 654.52L352.34 654.52L353.09 654.52L353.84 654.52L354.59 654.52L355.34 654.52L356.09 654.52L356.84 654.52L357.59 654.52L358.34 654.52L359.09 654.52L359.84 654.52L360.59 654.52L361.34 654.52L362.09 654.53L362.84 654.53L363.59 654.53L364.34 654.53L365.09 654.53L365.84 654.53L366.59 654.54L367.34 654.54L368.09 654.54L368.84 654.55L369.59 654.56L370.34 654.56L371.09 654.57L371.85 654.57L372.60 654.58L373.35 654.59L374.10 654.60L374.85 654.61L375.60 654.62L376.35 654.63L377.10 654.64L377.85 654.65L378.60 654.66L379.35 654.67L380.10 654.68L380.85 654.69L381.60 654.71L382.35 654.72L383.10 654.73L383.85 654.74L384.60 654.76L385.35 654.77L386.10 654.78L386.85 654.80L387.60 654.81L388.35 654.83L389.10 654.84L389.85 654.86L390.60 654.87L391.35 654.89L392.10 654.90L392.85 654.92L393.60 654.93L394.35 654.95L395.10 654.97L395.85 654.98L396.60 655.00L397.35 655.01L398.10 655.03L398.85 655.05L399.60 655.06L400.35 655.08L401.10 655.10L401.85 655.11L402.60 655.13L403.35 655.14L404.10 655.16L404.85 655.18L405.60 655.19L406.35 655.21L407.10 655.22L407.85 655.24L408.60 655.25L409.35 655.27L410.10 655.28L410.85 655.30L411.60 655.31L412.35 655.33L413.10 655.34L413.85 655.36L414.60 655.37L415.35 655.38L416.10 655.40L416.85 655.41L417.60 655.42L418.35 655.44L419.10 655.45L419.85 655.46L420.60 655.47L421.35 655.48L422.10 655.49L422.85 655.50L423.60 655.51L424.36 655.52L425.11 655.53L425.86 655.54L426.61 655.55L427.36 655.56L428.11 655.56L428.86 655.57L429.61 655.58L430.36 655.59L431.11 655.59L431.86 655.60L432.61 655.61L433.36 655.61L434.11 655.62L434.86 655.63L435.61 655.63L436.36 655.64L437.11 655.65L437.86 655.65L438.61 655.66L439.36 655.66L440.11 655.67L440.86 655.68L441.61 655.68L442.36 655.69L443.11 655.69L443.86 655.70L444.61 655.71L445.36 655.71L446.11 655.72L446.86 655.72L447.61 655.73L448.36 655.73L449.11 655.74L449.86 655.74L450.61 655.75L451.36 655.75L452.11 655.76L452.86 655.76L453.61 655.77L454.36 655.77L455.12 655.78L455.87 655.78L456.62 655.79L457.37 655.79L458.12 655.80L458.87 655.80L459.62 655.81L460.37 655.81L461.12 655.82L461.87 655.82L462.62 655.83L463.37 655.83L464.12 655.84L464.87 655.84L465.62 655.85L466.37 655.85L467.12 655.86L467.87 655.86L468.62 655.86L469.37 655.87L470.12 655.87L470.87 655.88L471.62 655.88L472.37 655.89L473.12 655.89L473.87 655.90L474.62 655.90L475.37 655.91L476.12 655.91L476.87 655.92L477.62 655.92L478.37 655.92L479.12 655.93L479.87 655.93L480.62 655.94L481.37 655.94L482.12 655.95L482.87 655.95L483.62 655.96L484.37 655.96L485.13 655.97L485.88 655.97L486.63 655.98L487.38 655.98L488.13 655.99L488.88 655.99L489.63 656.00L490.38 656.00L491.13 656.01L491.88 656.01L492.63 656.02L493.38 656.02L494.13 656.03L494.88 656.03L495.63 656.04L496.38 656.04L497.13 656.05L497.88 656.05L498.63 656.06L499.38 656.06L500.13 656.07L500.88 656.08L501.63 656.08L502.38 656.09L503.13 656.09L503.88 656.10L504.63 656.10L505.38 656.11L506.13 656.11L506.88 656.12L507.63 656.12L508.38 656.13L509.13 656.13L509.88 656.14L510.63 656.14L511.38 656.15L512.13 656.15L512.88 656.16L513.63 656.16L514.38 656.17L515.14 656.18L515.89 656.18L516.64 656.19L517.39 656.19L518.14 656.20L518.89 656.20L519.64 656.21L520.39 656.21L521.14 656.22L521.89 656.22L522.64 656.23L523.39 656.23L524.14 656.24L524.89 656.24L525.64 656.25L526.39 656.25L527.14 656.26L527.89 656.26L528.64 656.27L529.39 656.28L530.14 656.28L530.89 656.29L531.64 656.29L532.39 656.30L533.14 656.30L533.89 656.31L534.64 656.31L535.39 656.32L536.14 656.32L536.89 656.33L537.64 656.33L538.39 656.34L539.14 656.34L539.89 656.35L540.64 656.35L541.39 656.36L542.14 656.36L542.89 656.37L543.64 656.38L544.39 656.38L545.15 656.39L545.90 656.39L546.65 656.40L547.40 656.40L548.15 656.41L548.90 656.41L549.65 656.42L550.40 656.42L551.15 656.43L551.90 656.43L552.65 656.44L553.40 656.44L554.15 656.45L554.90 656.45L555.65 656.46L556.40 656.46L557.15 656.47L557.90 656.48L558.65 656.48L559.40 656.49" stroke="#00ff00"/>
<path d="M230.60 865.50L230.60 864.75L230.60 864.00L230.60 863.25L230.60 862.50L230.60 861.75L230.60 861.00L230.61 860.25L230.61 859.50L230.61 858.75L230.61 858.00L230.61 857.25L230.61 856.50L230.61 855.75L230.61 855.00L230.61 854.25L230.61 853.50L230.61 852.75L230.61 852.00L230.61 851.25L230.61 850.50L230.62 849.75L230.62 849.00L230.62 848.25L230.62 847.49L230.62 846.74L230.62 845.99L230.62 845.24L230.62 844.49L230.62 843.74L230.62 842.99L230.62 842.24L230.62 841.49L230.62 840.74L230.62 839.99L230.63 839.24L230.63 838.49L230.63 837.74L230.63 836.99L230.63 836.24L230.63 835.49L230.63 834.74L230.63 833.99L230.63 833.24L230.63 832.49L230.63 831.74L230.63 830.99L230.63 830.24L230.64 829.49L230.64 828.74L230.64 827.99L230.64 827.24L230.64 826.49L230.64 825.74L230.64 824.99L230.64 824.24L230.64 823.49L230.64 822.74L230.64 821.99L230.64 821.24L230.64 820.49L230.65 819.74L230.65 818.99L230.65 818.24L230.65 817.49L230.65 816.74L230.65 815.99L230.65 815.24L230.65 814.49L230.65 813.74L230.65 812.99L230.65 812.24L230.65 811.48L230.66 810.73L230.66 809.98L230.66 809.23L230.66 808.48L230.66 807.73L230.66 806.98L230.66 806.23L230.66 805.48L230.66 804.73L230.66 803.98L230.66 803.23L230.67 802.48L230.67 801.73L230.67 800.98L230.67 800.23L230.67 799.48L230.67 798.73L230.67 797.98L230.67 797.23L230.67 796.48L230.68 795.73L230.68 794.98L230.68 794.23L230.68 793.48L230.68 792.73L230.68 791.98L230.68 791.23L230.68 790.48L230.69 789.73L230.69 788.98L230.69 788.23L230.69 787.48L230.69 786.73L230.70 785.98L230.70 785.23L230.70 784.48L230.70 783.73L230.71 782.98L230.71 782.23L230.71 781.48L230.71 780.73L230.72 779.98L230.72 779.23L230.72 778.48L230.73 777.73L230.73 776.98L230.73 776.23L230.73 775.47L230.74 774.72L230.74 773.97L230.74 773.22L230.75 772.47L230.75 771.72L230.75 770.97L230.76 770.22L230.76 769.47L230.77 768.72L230.77 767.97L230.77 767.22L230.78 766.47L230.78 765.72L230.79 764.97L230.79 764.22L230.79 763.47L230.80 762.72L230.80 761.97L230.81 761.22L230.81 760.47L230.82 759.72L230.82 758.97L230.83 758.22L230.84 757.47L230.84 756.72L230.85 755.97L230.86 755.22L230.86 754.47L230.87 753.72L230.88 752.97L230.89 752.22L230.90 751.47L230.92 750.72L230.94 749.97L230.96 749.22L230.98 748.47L231.00 747.72L231.02 746.97L231.05 746.22L231.08 745.47L231.10 744.72L231.13 743.97L231.16 743.22L231.20 742.47L231.24 741.72L231.28 740.97L231.32 740.22L231.37 739.48L231.42 738.73L231.48 737.98L231.55 737.23L231.62 736.49L231.70 735.74L231.77 734.99L231.85 734.25L231.92 733.50L231.98 732.75L232.04 732.00L232.09 731.26L232.14 730.51L232.18 729.76L232.22 729.01L232.26 728.26L232.29 727.51L232.32 726.76L232.34 726.01L232.37 725.26L232.39 724.51L232.41 723.76L232.43 723.01L232.45 722.26L232.47 721.51L232.48 720.76L232.50 720.01L232.52 719.26L232.53 718.51L232.55 717.76L232.56 717.01L232.58 716.26L232.60 715.51L232.61 714.76L232.63 714.01L232.64 713.26L232.66 712.51L232.68 711.76L232.69 711.01L232.71 710.26L232.73 709.51L232.75 708.76L232.77 708.01L232.79 707.26L232.81 706.51L232.84 705.76L232.87 705.01L232.91 704.26L232.95 703.51L233.01 702.77L233.06 702.02L233.13 701.27L233.20 700.52L233.27 699.78L233.36 699.03L233.44 698.29L233.53 697.54L233.62 696.80L233.71 696.05L233.79 695.31L233.86 694.56L233.93 693.81L234.00 693.07L234.06 692.32L234.12 691.57L234.19 690.82L234.25 690.08L234.31 689.33L234.37 688.58L234.44 687.83L234.50 687.08L234.56 686.34L234.62 685.59L234.69 684.84L234.76 684.10L234.83 683.35L234.90 682.60L234.98 681.86L235.06 681.11L235.14 680.36L235.22 679.62L235.31 678.87L235.39 678.13L235.48 677.38L235.57 676.64L235.66 675.89L235.76 675.15L235.86 674.41L235.96 673.66L236.08 672.92L236.23 672.19L236.40 671.46L236.61 670.75L236.87 670.05L237.18 669.37L237.53 668.71L237.93 668.08L238.37 667.48L238.83 666.88L239.30 666.30L239.78 665.73L240.26 665.15L240.76 664.59L241.26 664.03L241.78 663.49L242.31 662.96L242.87 662.46L243.44 661.99L244.04 661.54L244.67 661.13L245.30 660.73L245.95 660.35L246.61 659.99L247.27 659.65L247.95 659.32L248.63 659.02L249.32 658.74L250.03 658.48L250.74 658.26L251.47 658.07L252.20 657.91L252.94 657.78L253.68 657.66L254.42 657.55L255.16 657.46L255.91 657.37L256.65 657.28L257.40 657.21L258.15 657.14L258.89 657.07L259.64 657.01L260.39 656.95L261.14 656.89L261.88 656.83L262.63 656.78L263.38 656.72L264.13 656.67L264.88 656.62L265.63 656.56L266.37 656.50L267.12 656.44L267.87 656.38L268.62 656.31L269.36 656.24L270.11 656.17L270.86 656.10L271.60 656.03L272.35 655.95L273.10 655.89L273.84 655.82L274.59 655.76L275.34 655.70L276.09 655.65L276.84 655.61L277.59 655.58L278.34 655.55L279.09 655.53L279.84 655.50L280.59 655.48L281.34 655.46L282.09 655.44L282.84 655.43L283.59 655.41L284.34 655.39L285.09 655.38L285.84 655.36L286.59 655.35L287.34 655.33L288.09 655.32L288.84 655.31L289.59 655.29L290.34 655.28L291.09 655.27L291.84 655.26L292.59 655.25L293.34 655.24L294.09 655.23L294.84 655.22L295.59 655.21L296.34 655.20L297.09 655.19L297.84 655.18L298.59 655.17L299.34 655.16L300.09 655.16L300.84 655.15L301.59 655.14L302.34 655.13L303.09 655.12L303.84 655.11L304.59 655.11L305.34 655.10L306.09 655.09L306.84 655.08L307.59 655.07L308.34 655.06L309.09 655.05L309.84 655.04L310.59 655.04L311.34 655.03L312.09 655.02L312.84 655.01L313.59 655.00L314.34 654.99L315.09 654.98L315.84 654.98L316.59 654.97L317.34 654.96L318.09 654.95L318.84 654.94L319.59 654.93L320.34 654.92L321.09 654.92L321.84 654.91L322.59 654.90L323.34 654.89L324.09 654.88L324.84 654.88L325.59 654.87L326.34 654.86L327.09 654.85L327.84 654.84L328.59 654.84L329.34 654.83L330.09 654.82L330.84 654.81L331.60 654.81L332.35 654.80L333.10 654.79L333.85 654.79L334.60 654.78L335.35 654.77L336.10 654.77L336.85 654.76L337.60 654.75L338.35 654.75L339.10 654.74L339.85 654.74L340.60 654.73L341.35 654.72L342.10 654.72L342.85 654.71L343.60 654.71L344.35 654.70L345.10 654.70L345.85 654.69L346.60 654.69L347.35 654.68L348.10 654.68L348.85 654.68L349.60 654.67L350.35 654.67L351.10 654.67L351.85 654.66L352.60 654.66L353.35 654.66L354.10 654.65L354.85 654.65L355.60 654.65L356.35 654.65L357.10 654.65L357.85 654.64L358.60 654.64L359.35 654.64L360.10 654.64L360.85 654.64L361.60 654.64L362.35 654.64L363.10 654.64L363.85 654.64L364.60 654.64L365.35 654.65L366.10 654.65L366.85 654.65L367.60 654.66L368.35 654.66L369.11 654.67L369.86 654.67L370.61 654.68L371.36 654.68L372.11 654.69L372.86 654.70L373.61 654.71L374.36 654.71L375.11 654.72L375.86 654.73L376.61 654.74L377.36 654.75L378.11 654.76L378.86 654.77L379.61 654.78L380.36 654.79L381.11 654.81L381.86 654.82L382.61 654.83L383.36 654.84L384.11 654.85L384.86 654.87L385.61 654.88L386.36 654.89L387.11 654.91L387.86 654.92L388.61 654.93L389.36 654.95L390.11 654.96L390.86 654.98L391.61 654.99L392.36 655.00L393.11 655.02L393.86 655.03L394.61 655.05L395.36 655.06L396.11 655.08L396.86 655.09L397.61 655.11L398.36 655.12L399.11 655.14L399.86 655.15L400.61 655.17L401.36 655.18L402.11 655.20L402.86 655.21L403.61 655.22L404.36 655.24L405.11 655.25L405.86 655.27L406.61 655.28L407.36 655.29L408.11 655.31L408.86 655.32L409.61 655.34L410.36 655.35L411.11 655.36L411.86 655.37L412.61 655.39L413.36 655.40L414.11 655.41L414.86 655.42L415.61 655.43L416.36 655.44L417.11 655.45L417.86 655.46L418.61 655.47L419.36 655.48L420.11 655.49L420.86 655.50L421.61 655.51L422.36 655.52L423.11 655.53L423.86 655.53L424.61 655.54L425.36 655.55L426.11 655.55L426.86 655.56L427.61 655.56L428.36 655.57L429.11 655.57L429.86 655.57L430.61 655.58L431.37 655.58L432.12 655.59L432.87 655.59L433.62 655.59L434.37 655.60L435.12 655.60L435.87 655.60L436.62 655.61L437.37 655.61L438.12 655.61L438.87 655.62L439.62 655.62L440.37 655.62L441.12 655.63L441.87 655.63L442.62 655.63L443.37 655.64L444.12 655.64L444.87 655.64L445.62 655.65L446.37 655.65L447.12 655.65L447.87 655.65L448.62 655.66L449.37 655.66L450.12 655.66L450.87 655.66L451.62 655.67L452.37 655.67L453.12 655.67L453.87 655.67L454.62 655.68L455.37 655.68L456.12 655.68L456.87 655.68L457.62 655.69L458.37 655.69L459.12 655.69L459.87 655.69L460.62 655.70L461.37 655.70L462.12 655.70L462.87 655.70L463.62 655.70L464.37 655.71L465.12 655.71L465.87 655.71L466.62 655.71L467.37 655.71L468.13 655.72L468.88 655.72L469.63 655.72L470.38 655.72L471.13 655.73L471.88 655.73L472.63 655.73L473.38 655.73L474.13 655.73L474.88 655.74L475.63 655.74L476.38 655.74L477.13 655.74L477.88 655.74L478.63 655.75L479.38 655.75L480.13 655.75L480.88 655.75L481.63 655.76L482.38 655.76L483.13 655.76L483.88 655.76L484.63 655.76L485.38 655.77L486.13 655.77L486.88 655.77L487.63 655.77L488.38 655.78L489.13 655.78L489.88 655.78L490.63 655.78L491.38 655.79L492.13 655.79L492.88 655.79L493.63 655.79L494.38 655.80L495.13 655.80L495.88 655.80L496.63 655.80L497.38 655.81L498.13 655.81L498.88 655.81L499.63 655.81L500.38 655.82L501.13 655.82L501.88 655.82L502.63 655.83L503.38 655.83L504.13 655.83L504.89 655.83L505.64 655.84L506.39 655.84L507.14 655.84L507.89 655.84L508.64 655.85L509.39 655.85L510.14 655.85L510.89 655.85L511.64 655.86L512.39 655.86L513.14 655.86L513.89 655.86L514.64 655.87L515.39 655.87L516.14 655.87L516.89 655.88L517.64 655.88L518.39 655.88L519.14 655.88L519.89 655.89L520.64 655.89L521.39 655.89L522.14 655.89L522.89 655.90L523.64 655.90L524.39 655.90L525.14 655.90L525.89 655.91L526.64 655.91L527.39 655.91L528.14 655.91L528.89 655.92L529.64 655.92L530.39 655.92L531.14 655.93L531.89 655.93L532.64 655.93L533.39 655.93L534.14 655.94L534.89 655.94L535.64 655.94L536.39 655.94L537.14 655.95L537.89 655.95L538.64 655.95L539.39 655.95L540.14 655.96L540.89 655.96L541.65 655.96L542.40 655.96L543.15 655.97L543.90 655.97L544.65 655.97L545.40 655.98L546.15 655.98L546.90 655.98L547.65 655.98L548.40 655.99L549.15 655.99L549.90 655.99L550.65 655.99L551.40 656.00L552.15 656.00L552.90 656.00L553.65 656.00L554.40 656.01L555.15 656.01L555.90 656.01L556.65 656.01L557.40 656.02L558.15 656.02L558.90 656.02L559.40 656.02" stroke="#000000"/>
</g>
<g font-size="6.5" fill="#1a1a1a" stroke="#1a1a1a" stroke-width="0.18"><text x="230.45" y="875.00" text-anchor="middle" letter-spacing="-0.35">0</text><text x="263.33" y="875.00" text-anchor="middle" letter-spacing="-0.35">50</text><text x="296.21" y="875.00" text-anchor="middle" letter-spacing="-0.35">100</text><text x="329.09" y="875.00" text-anchor="middle" letter-spacing="-0.35">150</text><text x="361.97" y="875.00" text-anchor="middle" letter-spacing="-0.35">200</text><text x="394.85" y="875.00" text-anchor="middle" letter-spacing="-0.35">250</text><text x="427.73" y="875.00" text-anchor="middle" letter-spacing="-0.35">300</text><text x="460.61" y="875.00" text-anchor="middle" letter-spacing="-0.35">350</text><text x="493.49" y="875.00" text-anchor="middle" letter-spacing="-0.35">400</text><text x="526.37" y="875.00" text-anchor="middle" letter-spacing="-0.35">450</text><text x="559.25" y="875.00" text-anchor="middle" letter-spacing="-0.35">500</text><text x="227.60" y="868.50" text-anchor="end" letter-spacing="-0.45">0</text><text x="227.60" y="845.43" text-anchor="end" letter-spacing="-0.45">0.2</text><text x="227.60" y="822.36" text-anchor="end" letter-spacing="-0.45">0.4</text><text x="227.60" y="799.29" text-anchor="end" letter-spacing="-0.45">0.6</text><text x="227.60" y="776.22" text-anchor="end" letter-spacing="-0.45">0.8</text><text x="227.60" y="753.15" text-anchor="end" letter-spacing="-0.45">1</text><text x="227.60" y="730.08" text-anchor="end" letter-spacing="-0.45">1.2</text><text x="227.60" y="707.01" text-anchor="end" letter-spacing="-0.45">1.4</text><text x="227.60" y="683.94" text-anchor="end" letter-spacing="-0.45">1.6</text><text x="227.60" y="660.87" text-anchor="end" letter-spacing="-0.45">1.8</text><text x="227.60" y="637.80" text-anchor="end" letter-spacing="-0.45">2</text></g>
<g fill="#1a1a1a" stroke="#1a1a1a" stroke-width="0.12"><text x="232.10" y="634.10" font-size="7" text-anchor="middle">&#215;</text><text x="235.30" y="633.20" font-size="5.8">10</text><text x="242.30" y="630.40" font-size="4.3">5</text></g>
<text x="395.00" y="889.90" font-size="12.1" text-anchor="middle" fill="#000" stroke="#000" stroke-width="0.25">Time in Days</text>
<text transform="translate(210.20 757.30) rotate(-90)" font-size="12.4" fill="#000" stroke="#000" stroke-width="0.25">V<tspan font-size="8.6" dx="0.9" dy="5.6">h</tspan></text>
<text x="395.00" y="913.80" font-family="Liberation Serif, serif" font-size="17.5" text-anchor="middle" fill="#000">(e)</text>
<rect x="477.50" y="791.30" width="66.00" height="62.10" fill="#fff" stroke="#262626" stroke-width="1"/>
<path d="M481.00 799.70H501.70" stroke="#0000ff" stroke-width="1.5"/>
<text x="504.00" y="805.10" font-size="11" font-family="Liberation Serif, serif" font-style="italic" fill="#000" stroke="#000" stroke-width="0.2">&#977;</text>
<text x="509.60" y="805.10" font-size="10.6" fill="#000" stroke="#000" stroke-width="0.2">=1</text>
<path d="M481.00 814.60H501.70" stroke="#ff0000" stroke-width="1.5"/>
<text x="504.00" y="820.00" font-size="11" font-family="Liberation Serif, serif" font-style="italic" fill="#000" stroke="#000" stroke-width="0.2">&#977;</text>
<text x="509.60" y="820.00" font-size="10.6" fill="#000" stroke="#000" stroke-width="0.2">=0.95</text>
<path d="M481.00 829.90H501.70" stroke="#00ff00" stroke-width="1.5"/>
<text x="504.00" y="835.30" font-size="11" font-family="Liberation Serif, serif" font-style="italic" fill="#000" stroke="#000" stroke-width="0.2">&#977;</text>
<text x="509.60" y="835.30" font-size="10.6" fill="#000" stroke="#000" stroke-width="0.2">=0.90</text>
<path d="M481.00 845.00H501.70" stroke="#000000" stroke-width="1.5"/>
<text x="504.00" y="850.40" font-size="11" font-family="Liberation Serif, serif" font-style="italic" fill="#000" stroke="#000" stroke-width="0.2">&#977;</text>
<text x="509.60" y="850.40" font-size="10.6" fill="#000" stroke="#000" stroke-width="0.2">=0.85</text>
</g>
</svg></body></html>
